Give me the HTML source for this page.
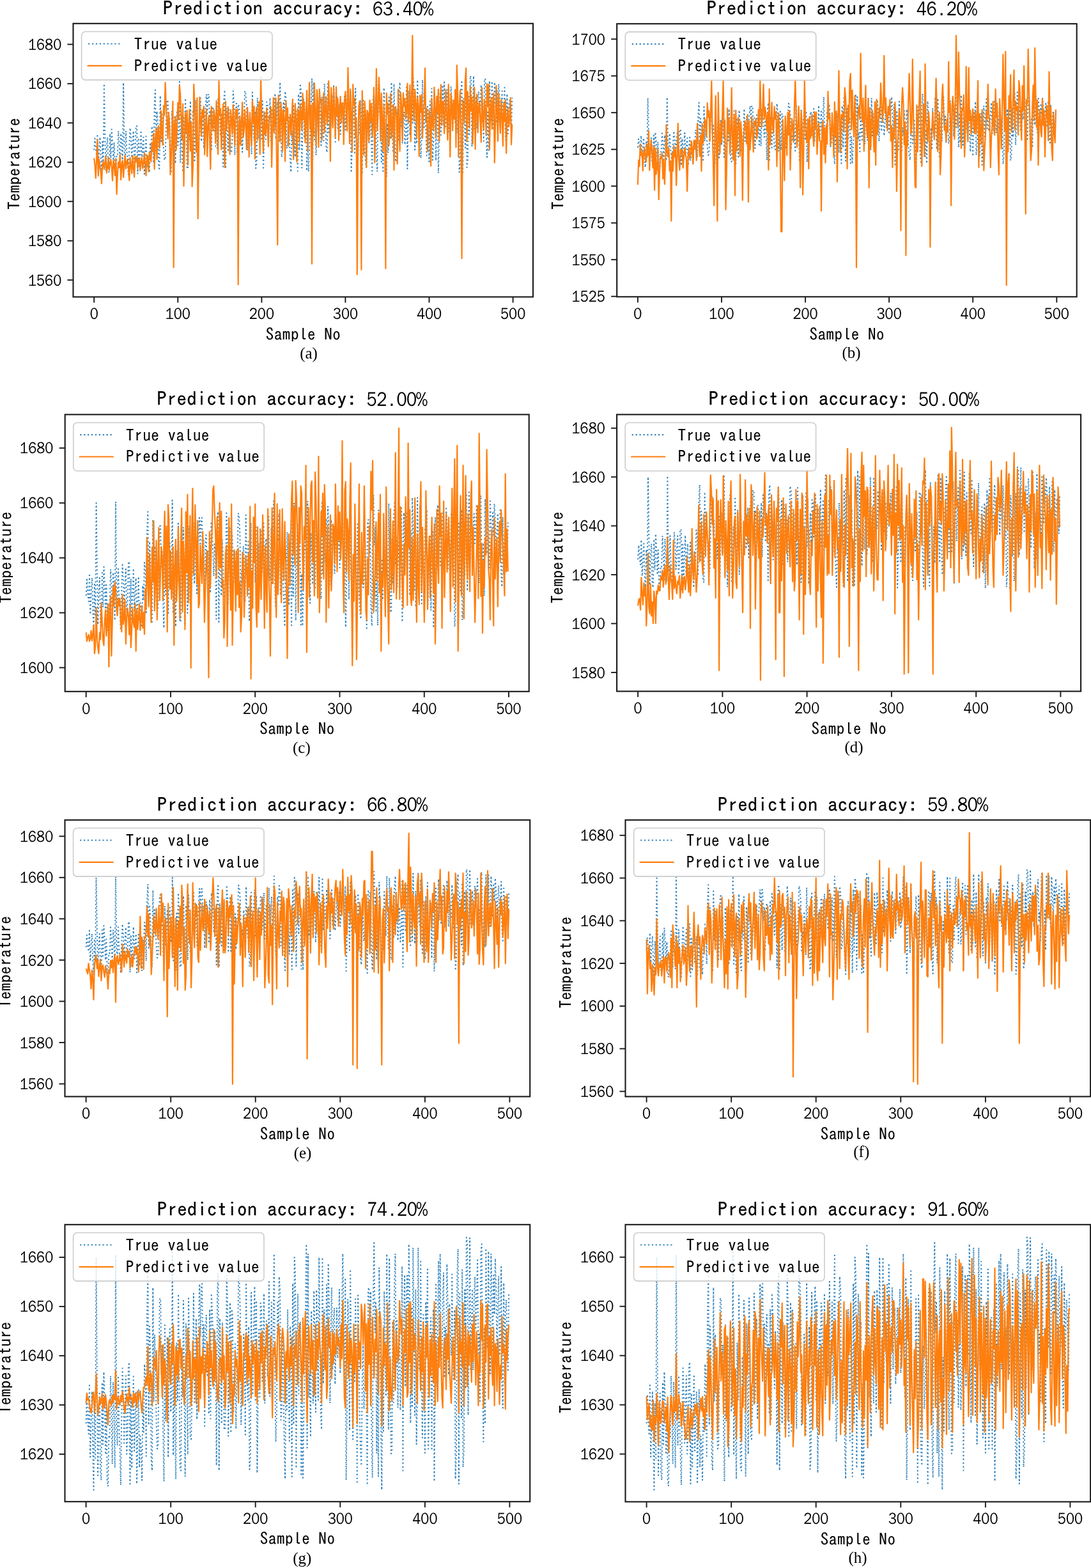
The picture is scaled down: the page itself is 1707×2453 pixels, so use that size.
<!DOCTYPE html><html><head><meta charset="utf-8"><title>Prediction accuracy</title><style>html,body{margin:0;padding:0;background:#fff;}svg{display:block;}text{fill:#000;}</style></head><body>
<svg xmlns="http://www.w3.org/2000/svg" width="1707" height="2453" viewBox="0 0 1707 2453">
<rect width="1707" height="2453" fill="#fff"/>
<clipPath id="clipa"><rect x="114.5" y="36.8" width="719.5" height="427.7"/></clipPath>
<g clip-path="url(#clipa)" fill="none" stroke-linejoin="round">
<polyline points="147.2,234.6 148.5,216.6 149.8,232.4 151.1,241.1 152.4,209.7 153.8,255.5 155.1,234.4 156.4,214.5 157.7,251.1 159.0,276.1 160.3,221.9 161.6,256.3 162.9,130.9 164.2,206.9 165.6,267.1 166.9,230.7 168.2,214.7 169.5,265.1 170.8,270.1 172.1,209.0 173.4,247.6 174.7,202.3 176.0,221.4 177.4,254.0 178.7,222.7 180.0,269.7 181.3,273.8 182.6,242.8 183.9,243.7 185.2,204.9 186.5,226.0 187.8,259.9 189.2,208.6 190.5,228.0 191.8,262.3 193.1,129.3 194.4,235.4 195.7,248.5 197.0,204.8 198.3,236.2 199.6,251.0 200.9,273.1 202.3,227.1 203.6,200.1 204.9,215.9 206.2,246.9 207.5,222.2 208.8,204.9 210.1,253.7 211.4,242.4 212.7,199.0 214.1,196.3 215.4,272.3 216.7,215.7 218.0,262.6 219.3,234.0 220.6,204.1 221.9,251.7 223.2,229.3 224.5,214.7 225.9,272.3 227.2,238.7 228.5,213.2 229.8,262.1 231.1,242.6 232.4,248.6 233.7,270.1 235.0,223.2 236.3,240.0 237.6,197.6 239.0,205.6 240.3,255.0 241.6,166.7 242.9,140.7 244.2,235.6 245.5,174.0 246.8,191.3 248.1,257.0 249.4,264.0 250.8,149.7 252.1,221.1 253.4,179.0 254.7,201.8 256.0,232.6 257.3,250.5 258.6,248.0 259.9,195.5 261.2,157.1 262.6,156.4 263.9,204.2 265.2,185.6 266.5,240.0 267.8,270.8 269.1,173.2 270.4,233.3 271.7,204.2 273.0,180.6 274.4,255.9 275.7,195.4 277.0,175.5 278.3,227.6 279.6,215.6 280.9,127.8 282.2,254.5 283.5,201.3 284.8,235.3 286.1,269.3 287.5,184.1 288.8,220.0 290.1,153.7 291.4,203.1 292.7,263.8 294.0,264.0 295.3,193.0 296.6,218.3 297.9,157.9 299.3,213.0 300.6,267.8 301.9,172.1 303.2,205.2 304.5,254.0 305.8,156.4 307.1,187.8 308.4,242.7 309.7,244.5 311.1,222.2 312.4,204.3 313.7,153.4 315.0,221.4 316.3,207.8 317.6,169.1 318.9,232.1 320.2,189.2 321.5,170.4 322.9,147.4 324.2,180.4 325.5,148.5 326.8,147.4 328.1,193.7 329.4,172.6 330.7,236.2 332.0,176.7 333.3,166.7 334.6,204.4 336.0,184.3 337.3,228.8 338.6,163.3 339.9,231.7 341.2,153.4 342.5,164.8 343.8,183.1 345.1,212.7 346.4,176.8 347.8,192.5 349.1,260.8 350.4,152.9 351.7,140.7 353.0,264.0 354.3,169.0 355.6,204.3 356.9,234.9 358.2,171.5 359.6,190.8 360.9,238.5 362.2,238.5 363.5,218.0 364.8,142.2 366.1,161.1 367.4,242.5 368.7,188.5 370.0,159.1 371.4,240.4 372.7,163.2 374.0,167.1 375.3,227.0 376.6,209.7 377.9,184.9 379.2,238.0 380.5,197.3 381.8,186.0 383.1,142.2 384.5,146.7 385.8,165.0 387.1,235.5 388.4,207.2 389.7,217.8 391.0,179.0 392.3,193.6 393.6,241.6 394.9,144.4 396.3,203.3 397.6,220.0 398.9,174.1 400.2,263.3 401.5,256.1 402.8,153.0 404.1,216.8 405.4,215.5 406.7,172.5 408.1,148.9 409.4,219.8 410.7,157.9 412.0,265.5 413.3,217.1 414.6,176.0 415.9,218.0 417.2,159.5 418.5,162.5 419.9,208.1 421.2,196.8 422.5,153.4 423.8,222.2 425.1,181.6 426.4,170.5 427.7,205.2 429.0,200.1 430.3,146.2 431.6,217.9 433.0,192.3 434.3,159.0 435.6,222.5 436.9,172.8 438.2,128.6 439.5,207.4 440.8,246.0 442.1,227.7 443.4,159.0 444.8,173.8 446.1,142.9 447.4,152.1 448.7,232.5 450.0,226.6 451.3,181.3 452.6,213.6 453.9,246.8 455.2,269.3 456.6,203.9 457.9,226.9 459.2,163.3 460.5,206.3 461.8,245.5 463.1,173.8 464.4,189.4 465.7,267.8 467.0,147.1 468.4,235.3 469.7,130.9 471.0,141.7 472.3,262.6 473.6,187.3 474.9,153.6 476.2,216.1 477.5,184.0 478.8,171.1 480.1,267.4 481.5,210.4 482.8,268.6 484.1,229.3 485.4,203.2 486.7,172.6 488.0,122.6 489.3,249.8 490.6,128.6 491.9,218.3 493.3,202.2 494.6,243.0 495.9,164.2 497.2,198.9 498.5,222.1 499.8,151.7 501.1,179.7 502.4,227.5 503.7,151.1 505.1,172.1 506.4,220.0 507.7,130.9 509.0,183.4 510.3,228.9 511.6,238.5 512.9,130.9 514.2,209.7 515.5,163.4 516.9,185.5 518.2,196.2 519.5,148.0 520.8,193.3 522.1,134.6 523.4,163.2 524.7,221.9 526.0,176.8 527.3,149.7 528.6,201.0 530.0,171.3 531.3,162.4 532.6,210.1 533.9,183.3 535.2,162.3 536.5,193.9 537.8,180.2 539.1,150.8 540.4,203.3 541.8,179.2 543.1,161.3 544.4,128.6 545.7,166.9 547.0,218.8 548.3,143.6 549.6,270.1 550.9,225.7 552.2,156.9 553.6,173.6 554.9,239.0 556.2,138.4 557.5,197.6 558.8,223.3 560.1,244.5 561.4,192.3 562.7,208.2 564.0,156.9 565.4,188.0 566.7,272.3 568.0,154.6 569.3,185.9 570.6,231.7 571.9,252.0 573.2,261.0 574.5,207.2 575.8,185.8 577.1,225.6 578.5,212.4 579.8,174.8 581.1,227.0 582.4,273.1 583.7,151.3 585.0,149.7 586.3,188.2 587.6,152.2 588.9,245.8 590.3,268.6 591.6,152.8 592.9,121.8 594.2,178.1 595.5,158.5 596.8,253.3 598.1,196.4 599.4,267.9 600.7,137.2 602.1,178.1 603.4,228.8 604.7,276.1 606.0,193.3 607.3,239.3 608.6,152.0 609.9,198.3 611.2,217.7 612.5,128.6 613.9,202.6 615.2,238.6 616.5,131.4 617.8,202.1 619.1,253.5 620.4,252.0 621.7,170.9 623.0,221.5 624.3,148.2 625.6,128.6 627.0,200.0 628.3,169.4 629.6,224.8 630.9,190.7 632.2,174.9 633.5,226.5 634.8,209.5 636.1,136.4 637.4,264.0 638.8,176.2 640.1,141.8 641.4,211.7 642.7,159.8 644.0,142.3 645.3,192.3 646.6,122.6 647.9,153.6 649.2,234.4 650.6,161.8 651.9,224.8 653.2,124.8 654.5,180.3 655.8,229.5 657.1,150.9 658.4,247.5 659.7,218.4 661.0,124.8 662.4,199.2 663.7,201.8 665.0,133.5 666.3,203.2 667.6,243.5 668.9,166.8 670.2,189.0 671.5,253.0 672.8,158.6 674.1,186.5 675.5,138.4 676.8,250.5 678.1,221.6 679.4,181.5 680.7,168.6 682.0,251.4 683.3,181.9 684.6,163.2 685.9,270.8 687.3,201.8 688.6,146.8 689.9,211.3 691.2,181.2 692.5,133.1 693.8,194.5 695.1,128.6 696.4,200.8 697.7,192.9 699.1,161.0 700.4,140.3 701.7,206.1 703.0,174.7 704.3,192.1 705.6,135.1 706.9,161.1 708.2,204.2 709.5,159.8 710.9,176.6 712.2,192.2 713.5,141.5 714.8,191.2 716.1,207.8 717.4,163.5 718.7,269.3 720.0,252.3 721.3,142.4 722.6,125.6 724.0,272.3 725.3,153.6 726.6,177.0 727.9,231.0 729.2,138.4 730.5,262.0 731.8,250.5 733.1,151.2 734.4,213.0 735.8,118.4 737.1,122.6 738.4,229.5 739.7,173.9 741.0,118.8 742.3,201.7 743.6,172.5 744.9,150.6 746.2,201.3 747.6,156.4 748.9,142.9 750.2,176.1 751.5,159.4 752.8,132.6 754.1,192.0 755.4,178.9 756.7,220.7 758.0,127.6 759.3,122.6 760.7,207.5 762.0,246.0 763.3,175.5 764.6,234.9 765.9,126.3 767.2,174.8 768.5,187.8 769.8,127.0 771.1,180.9 772.5,203.5 773.8,128.6 775.1,152.8 776.4,189.9 777.7,142.1 779.0,166.5 780.3,131.6 781.6,152.2 782.9,191.9 784.3,161.6 785.6,142.6 786.9,192.2 788.2,184.8 789.5,136.9 790.8,210.6 792.1,224.9 793.4,146.8 794.7,209.2 796.1,166.6 797.4,157.5 798.7,180.9 800.0,202.3 801.3,152.8" stroke="#2f82bd" stroke-width="2.0" stroke-dasharray="2.0 3.85"/>
<polyline points="147.2,247.4 148.5,258.8 149.8,278.6 151.1,250.1 152.4,218.3 153.8,275.1 155.1,249.0 156.4,260.9 157.7,269.1 159.0,287.1 160.3,256.9 161.6,253.0 162.9,264.7 164.2,254.8 165.6,244.1 166.9,270.5 168.2,261.5 169.5,247.1 170.8,266.2 172.1,257.6 173.4,249.4 174.7,260.8 176.0,282.7 177.4,251.0 178.7,257.3 180.0,274.6 181.3,248.0 182.6,303.9 183.9,272.3 185.2,253.4 186.5,262.2 187.8,242.1 189.2,281.3 190.5,256.8 191.8,251.4 193.1,277.5 194.4,259.3 195.7,243.0 197.0,263.8 198.3,254.0 199.6,249.0 200.9,263.9 202.3,282.4 203.6,246.7 204.9,257.1 206.2,271.3 207.5,243.5 208.8,263.2 210.1,277.0 211.4,244.8 212.7,253.1 214.1,244.5 215.4,263.2 216.7,252.7 218.0,247.3 219.3,266.9 220.6,252.9 221.9,246.5 223.2,263.3 224.5,255.1 225.9,239.3 227.2,257.1 228.5,274.6 229.8,242.4 231.1,248.1 232.4,268.5 233.7,238.4 235.0,243.5 236.3,252.9 237.6,223.0 239.0,237.2 240.3,208.6 241.6,264.7 242.9,219.2 244.2,201.1 245.5,249.4 246.8,203.3 248.1,197.0 249.4,231.6 250.8,215.3 252.1,173.3 253.4,211.4 254.7,227.0 256.0,165.4 257.3,180.4 258.6,129.1 259.9,166.2 261.2,186.8 262.6,216.6 263.9,175.8 265.2,196.2 266.5,273.2 267.8,248.4 269.1,210.3 270.4,158.7 271.7,418.3 273.0,194.2 274.4,182.7 275.7,234.5 277.0,200.6 278.3,160.7 279.6,186.6 280.9,133.7 282.2,148.1 283.5,184.6 284.8,218.8 286.1,162.6 287.5,290.9 288.8,228.2 290.1,176.5 291.4,207.8 292.7,172.8 294.0,257.9 295.3,193.9 296.6,171.7 297.9,236.1 299.3,192.2 300.6,291.8 301.9,261.2 303.2,131.8 304.5,160.1 305.8,198.2 307.1,237.9 308.4,153.4 309.7,342.0 311.1,228.8 312.4,152.1 313.7,188.4 315.0,213.0 316.3,172.7 317.6,183.0 318.9,166.3 320.2,241.9 321.5,202.9 322.9,170.8 324.2,244.6 325.5,198.8 326.8,180.6 328.1,219.8 329.4,264.8 330.7,166.5 332.0,194.0 333.3,204.0 334.6,171.5 336.0,182.8 337.3,223.9 338.6,157.7 339.9,186.1 341.2,241.3 342.5,126.3 343.8,180.8 345.1,170.0 346.4,233.9 347.8,186.3 349.1,162.8 350.4,220.4 351.7,262.0 353.0,158.6 354.3,204.4 355.6,188.9 356.9,167.1 358.2,197.7 359.6,241.7 360.9,172.0 362.2,188.2 363.5,209.8 364.8,164.1 366.1,194.7 367.4,227.2 368.7,170.9 370.0,183.6 371.4,170.5 372.7,445.2 374.0,193.7 375.3,181.7 376.6,227.5 377.9,188.2 379.2,160.1 380.5,215.0 381.8,203.9 383.1,171.7 384.5,197.3 385.8,234.1 387.1,168.0 388.4,188.2 389.7,245.6 391.0,175.8 392.3,204.1 393.6,226.9 394.9,157.2 396.3,193.5 397.6,166.4 398.9,248.6 400.2,182.9 401.5,167.7 402.8,219.3 404.1,189.0 405.4,159.4 406.7,241.5 408.1,120.7 409.4,181.7 410.7,197.6 412.0,237.3 413.3,175.2 414.6,208.9 415.9,210.9 417.2,169.0 418.5,200.0 419.9,229.1 421.2,181.3 422.5,182.0 423.8,167.9 425.1,261.4 426.4,202.3 427.7,152.8 429.0,208.0 430.3,188.3 431.6,153.6 433.0,254.0 434.3,382.9 435.6,149.0 436.9,190.9 438.2,221.7 439.5,160.9 440.8,175.0 442.1,236.1 443.4,171.7 444.8,185.2 446.1,252.2 447.4,158.0 448.7,189.1 450.0,169.0 451.3,228.4 452.6,198.6 453.9,179.0 455.2,211.2 456.6,181.6 457.9,155.3 459.2,249.5 460.5,204.8 461.8,162.0 463.1,190.8 464.4,253.5 465.7,170.4 467.0,174.3 468.4,222.5 469.7,162.5 471.0,179.3 472.3,203.9 473.6,146.1 474.9,187.3 476.2,159.9 477.5,223.3 478.8,186.9 480.1,141.7 481.5,235.8 482.8,177.2 484.1,129.0 485.4,202.1 486.7,165.2 488.0,412.7 489.3,161.5 490.6,212.0 491.9,130.2 493.3,177.7 494.6,227.9 495.9,140.3 497.2,164.4 498.5,230.2 499.8,139.5 501.1,160.2 502.4,154.6 503.7,218.9 505.1,177.4 506.4,146.1 507.7,207.2 509.0,169.7 510.3,151.2 511.6,193.8 512.9,184.3 514.2,126.5 515.5,161.6 516.9,252.3 518.2,137.2 519.5,174.1 520.8,199.9 522.1,136.4 523.4,176.5 524.7,215.3 526.0,136.2 527.3,180.8 528.6,154.5 530.0,219.6 531.3,170.8 532.6,150.9 533.9,192.0 535.2,161.7 536.5,160.7 537.8,225.8 539.1,158.7 540.4,143.2 541.8,174.5 543.1,204.7 544.4,105.8 545.7,159.5 547.0,224.3 548.3,139.3 549.6,180.7 550.9,237.3 552.2,132.2 553.6,164.7 554.9,153.8 556.2,215.0 557.5,184.8 558.8,429.4 560.1,234.3 561.4,166.3 562.7,158.1 564.0,196.3 565.4,422.0 566.7,142.0 568.0,198.1 569.3,242.4 570.6,158.3 571.9,180.0 573.2,262.2 574.5,172.8 575.8,177.5 577.1,221.7 578.5,156.9 579.8,190.0 581.1,162.1 582.4,213.1 583.7,196.4 585.0,136.8 586.3,254.5 587.6,179.9 588.9,107.7 590.3,204.3 591.6,172.0 592.9,121.0 594.2,156.1 595.5,220.4 596.8,145.9 598.1,185.0 599.4,236.9 600.7,164.4 602.1,202.8 603.4,420.1 604.7,145.5 606.0,178.5 607.3,162.1 608.6,227.7 609.9,193.6 611.2,146.6 612.5,215.8 613.9,196.1 615.2,163.9 616.5,266.0 617.8,171.2 619.1,166.8 620.4,183.8 621.7,256.5 623.0,139.9 624.3,193.8 625.6,236.6 627.0,145.3 628.3,166.9 629.6,219.7 630.9,145.4 632.2,166.4 633.5,154.0 634.8,185.6 636.1,175.0 637.4,130.7 638.8,191.6 640.1,174.6 641.4,133.1 642.7,221.4 644.0,163.4 645.3,55.6 646.6,167.8 647.9,189.1 649.2,139.9 650.6,162.0 651.9,215.9 653.2,152.0 654.5,164.6 655.8,244.5 657.1,149.4 658.4,175.9 659.7,148.2 661.0,216.1 662.4,172.1 663.7,162.3 665.0,106.7 666.3,189.5 667.6,169.8 668.9,236.4 670.2,204.6 671.5,172.7 672.8,186.7 674.1,259.7 675.5,153.7 676.8,193.1 678.1,203.1 679.4,136.5 680.7,170.4 682.0,215.3 683.3,150.6 684.6,176.5 685.9,139.6 687.3,220.6 688.6,166.5 689.9,132.3 691.2,196.1 692.5,158.6 693.8,158.9 695.1,208.8 696.4,176.8 697.7,140.1 699.1,186.6 700.4,218.9 701.7,132.2 703.0,175.2 704.3,245.4 705.6,146.1 706.9,163.1 708.2,203.3 709.5,156.7 710.9,185.8 712.2,140.3 713.5,230.5 714.8,102.1 716.1,145.1 717.4,245.1 718.7,163.6 720.0,141.1 721.3,210.0 722.6,404.3 724.0,157.2 725.3,169.6 726.6,192.3 727.9,126.3 729.2,106.7 730.5,220.9 731.8,143.3 733.1,169.9 734.4,200.0 735.8,136.1 737.1,173.6 738.4,152.1 739.7,225.3 741.0,165.5 742.3,136.7 743.6,233.5 744.9,165.0 746.2,147.5 747.6,207.4 748.9,166.2 750.2,159.8 751.5,189.2 752.8,222.3 754.1,137.5 755.4,184.3 756.7,202.4 758.0,155.6 759.3,173.7 760.7,210.6 762.0,131.3 763.3,166.6 764.6,132.1 765.9,234.1 767.2,174.9 768.5,152.8 769.8,201.6 771.1,161.0 772.5,145.9 773.8,254.6 775.1,194.0 776.4,133.9 777.7,173.3 779.0,220.8 780.3,146.4 781.6,183.8 782.9,208.4 784.3,155.9 785.6,181.6 786.9,228.4 788.2,161.8 789.5,189.8 790.8,156.4 792.1,239.7 793.4,187.2 794.7,169.5 796.1,198.2 797.4,183.2 798.7,153.0 800.0,226.2 801.3,194.8" stroke="#ff7f0e" stroke-width="2.2"/>
</g>
<rect x="114.5" y="36.8" width="719.5" height="427.7" fill="none" stroke="#1a1a1a" stroke-width="2.1"/>
<line x1="147.2" y1="464.5" x2="147.2" y2="473.5" stroke="#1a1a1a" stroke-width="1.9"/>
<text font-family='"WenQuanYi Zen Hei","Liberation Sans",sans-serif' font-size="25.3" text-anchor="middle" x="171.17" y="499.50" transform="scale(0.86,1)">0</text>
<line x1="278.3" y1="464.5" x2="278.3" y2="473.5" stroke="#1a1a1a" stroke-width="1.9"/>
<text font-family='"WenQuanYi Zen Hei","Liberation Sans",sans-serif' font-size="25.3" text-anchor="middle" x="308.38 323.59 338.80" y="499.50" transform="scale(0.86,1)">100</text>
<line x1="409.4" y1="464.5" x2="409.4" y2="473.5" stroke="#1a1a1a" stroke-width="1.9"/>
<text font-family='"WenQuanYi Zen Hei","Liberation Sans",sans-serif' font-size="25.3" text-anchor="middle" x="460.80 476.01 491.22" y="499.50" transform="scale(0.86,1)">200</text>
<line x1="540.4" y1="464.5" x2="540.4" y2="473.5" stroke="#1a1a1a" stroke-width="1.9"/>
<text font-family='"WenQuanYi Zen Hei","Liberation Sans",sans-serif' font-size="25.3" text-anchor="middle" x="613.22 628.43 643.63" y="499.50" transform="scale(0.86,1)">300</text>
<line x1="671.5" y1="464.5" x2="671.5" y2="473.5" stroke="#1a1a1a" stroke-width="1.9"/>
<text font-family='"WenQuanYi Zen Hei","Liberation Sans",sans-serif' font-size="25.3" text-anchor="middle" x="765.63 780.84 796.05" y="499.50" transform="scale(0.86,1)">400</text>
<line x1="802.6" y1="464.5" x2="802.6" y2="473.5" stroke="#1a1a1a" stroke-width="1.9"/>
<text font-family='"WenQuanYi Zen Hei","Liberation Sans",sans-serif' font-size="25.3" text-anchor="middle" x="918.05 933.26 948.47" y="499.50" transform="scale(0.86,1)">500</text>
<line x1="105.5" y1="438.1" x2="114.5" y2="438.1" stroke="#1a1a1a" stroke-width="1.9"/>
<text font-family='"WenQuanYi Zen Hei","Liberation Sans",sans-serif' font-size="25.3" text-anchor="middle" x="58.63 73.84 89.05 104.26" y="446.70" transform="scale(0.86,1)">1560</text>
<line x1="105.5" y1="376.7" x2="114.5" y2="376.7" stroke="#1a1a1a" stroke-width="1.9"/>
<text font-family='"WenQuanYi Zen Hei","Liberation Sans",sans-serif' font-size="25.3" text-anchor="middle" x="58.63 73.84 89.05 104.26" y="385.25" transform="scale(0.86,1)">1580</text>
<line x1="105.5" y1="315.2" x2="114.5" y2="315.2" stroke="#1a1a1a" stroke-width="1.9"/>
<text font-family='"WenQuanYi Zen Hei","Liberation Sans",sans-serif' font-size="25.3" text-anchor="middle" x="58.63 73.84 89.05 104.26" y="323.80" transform="scale(0.86,1)">1600</text>
<line x1="105.5" y1="253.8" x2="114.5" y2="253.8" stroke="#1a1a1a" stroke-width="1.9"/>
<text font-family='"WenQuanYi Zen Hei","Liberation Sans",sans-serif' font-size="25.3" text-anchor="middle" x="58.63 73.84 89.05 104.26" y="262.35" transform="scale(0.86,1)">1620</text>
<line x1="105.5" y1="192.3" x2="114.5" y2="192.3" stroke="#1a1a1a" stroke-width="1.9"/>
<text font-family='"WenQuanYi Zen Hei","Liberation Sans",sans-serif' font-size="25.3" text-anchor="middle" x="58.63 73.84 89.05 104.26" y="200.90" transform="scale(0.86,1)">1640</text>
<line x1="105.5" y1="130.9" x2="114.5" y2="130.9" stroke="#1a1a1a" stroke-width="1.9"/>
<text font-family='"WenQuanYi Zen Hei","Liberation Sans",sans-serif' font-size="25.3" text-anchor="middle" x="58.63 73.84 89.05 104.26" y="139.45" transform="scale(0.86,1)">1660</text>
<line x1="105.5" y1="69.4" x2="114.5" y2="69.4" stroke="#1a1a1a" stroke-width="1.9"/>
<text font-family='"WenQuanYi Zen Hei","Liberation Sans",sans-serif' font-size="25.3" text-anchor="middle" x="58.63 73.84 89.05 104.26" y="78.00" transform="scale(0.86,1)">1680</text>
<text font-family='"IPAGothic","Liberation Mono",monospace' font-size="31" text-anchor="middle" x="262.50 278.15 293.80 309.45 325.10 340.75 356.40 372.05 387.70 403.35" y="23.50" stroke="#000" stroke-width="0.25">Prediction</text><text font-family='"IPAGothic","Liberation Mono",monospace' font-size="31" text-anchor="middle" x="434.65 450.30 465.95 481.60 497.25 512.90 528.55 544.20 559.85" y="23.50" stroke="#000" stroke-width="0.25">accuracy:</text><text font-family='"WenQuanYi Zen Hei","Liberation Sans",sans-serif' font-size="31.3" text-anchor="middle" x="687.38 705.58 723.78 741.98 760.17 778.37" y="23.50" transform="scale(0.86,1)">63.40%</text>
<text font-family='"IPAGothic","Liberation Mono",monospace' font-size="25.0" text-anchor="middle" x="421.93 435.01 448.09 461.17 474.25 487.33" y="531.70" stroke="#000" stroke-width="0.15">Sample</text><text font-family='"IPAGothic","Liberation Mono",monospace' font-size="25.0" text-anchor="middle" x="513.49 526.57" y="531.70" stroke="#000" stroke-width="0.15">No</text>
<g transform="translate(30.6,256.4) rotate(-90)"><text font-family='"IPAGothic","Liberation Mono",monospace' font-size="25.3" text-anchor="middle" x="-65.40 -52.32 -39.24 -26.16 -13.08 0.00 13.08 26.16 39.24 52.32 65.40" y="0.00" stroke="#000" stroke-width="0.15">Temperature</text></g>
<rect x="127.6" y="49.5" width="298.4" height="75.6" rx="6" ry="6" fill="#fff" fill-opacity="0.8" stroke="#cccccc" stroke-width="1.6"/>
<line x1="138.1" y1="68.5" x2="190.1" y2="68.5" stroke="#2f82bd" stroke-width="2.2" stroke-dasharray="2.2 3.7"/>
<line x1="136.6" y1="102.8" x2="190.6" y2="102.8" stroke="#ff7f0e" stroke-width="2.2"/>
<text font-family='"IPAGothic","Liberation Mono",monospace' font-size="25.3" text-anchor="middle" x="216.14 229.22 242.30 255.38" y="77.80" stroke="#000" stroke-width="0.15">True</text><text font-family='"IPAGothic","Liberation Mono",monospace' font-size="25.3" text-anchor="middle" x="281.54 294.62 307.70 320.78 333.86" y="77.80" stroke="#000" stroke-width="0.15">value</text>
<text font-family='"IPAGothic","Liberation Mono",monospace' font-size="25.3" text-anchor="middle" x="216.14 229.22 242.30 255.38 268.46 281.54 294.62 307.70 320.78 333.86" y="111.60" stroke="#000" stroke-width="0.15">Predictive</text><text font-family='"IPAGothic","Liberation Mono",monospace' font-size="25.3" text-anchor="middle" x="360.02 373.10 386.18 399.26 412.34" y="111.60" stroke="#000" stroke-width="0.15">value</text>
<text font-family='"Liberation Serif",serif' font-size="25" x="483.0" y="560.6" text-anchor="middle">(a)</text>
<clipPath id="clipb"><rect x="965.2" y="37.2" width="719.5" height="427.1"/></clipPath>
<g clip-path="url(#clipb)" fill="none" stroke-linejoin="round">
<polyline points="997.9,230.8 999.2,217.4 1000.5,229.2 1001.8,235.7 1003.1,212.2 1004.5,246.5 1005.8,230.7 1007.1,215.8 1008.4,243.2 1009.7,261.9 1011.0,221.3 1012.3,247.1 1013.6,153.2 1014.9,210.1 1016.3,255.2 1017.6,227.9 1018.9,216.0 1020.2,253.7 1021.5,257.4 1022.8,211.7 1024.1,240.6 1025.4,206.7 1026.7,221.0 1028.1,245.4 1029.4,221.9 1030.7,257.1 1032.0,260.2 1033.3,237.0 1034.6,237.7 1035.9,208.6 1037.2,224.4 1038.5,249.8 1039.9,211.4 1041.2,225.9 1042.5,251.6 1043.8,152.1 1045.1,231.5 1046.4,241.2 1047.7,208.5 1049.0,232.1 1050.3,243.1 1051.6,259.7 1053.0,225.3 1054.3,205.0 1055.6,216.9 1056.9,240.1 1058.2,221.6 1059.5,208.6 1060.8,245.2 1062.1,236.7 1063.4,204.2 1064.8,202.2 1066.1,259.1 1067.4,216.7 1068.7,251.8 1070.0,230.4 1071.3,208.1 1072.6,243.6 1073.9,226.9 1075.2,216.0 1076.6,259.1 1077.9,233.9 1079.2,214.8 1080.5,251.4 1081.8,236.9 1083.1,241.3 1084.4,257.4 1085.7,222.3 1087.0,234.9 1088.3,203.1 1089.7,209.2 1091.0,246.2 1092.3,180.0 1093.6,160.5 1094.9,231.6 1096.2,185.5 1097.5,198.4 1098.8,247.6 1100.1,252.9 1101.5,167.3 1102.8,220.7 1104.1,189.2 1105.4,206.3 1106.7,229.4 1108.0,242.8 1109.3,240.9 1110.6,201.6 1111.9,172.8 1113.3,172.4 1114.6,208.1 1115.9,194.2 1117.2,234.9 1118.5,258.0 1119.8,184.9 1121.1,229.9 1122.4,208.1 1123.7,190.4 1125.1,246.8 1126.4,201.5 1127.7,186.6 1129.0,225.6 1130.3,216.6 1131.6,150.9 1132.9,245.7 1134.2,206.0 1135.5,231.4 1136.8,256.9 1138.2,193.1 1139.5,220.0 1140.8,170.3 1142.1,207.2 1143.4,252.7 1144.7,252.9 1146.0,199.7 1147.3,218.7 1148.6,173.4 1150.0,214.7 1151.3,255.7 1152.6,184.0 1153.9,208.9 1155.2,245.4 1156.5,172.4 1157.8,195.8 1159.1,236.9 1160.4,238.3 1161.8,221.6 1163.1,208.2 1164.4,170.1 1165.7,221.0 1167.0,210.8 1168.3,181.9 1169.6,229.0 1170.9,196.9 1172.2,182.8 1173.6,165.6 1174.9,190.3 1176.2,166.4 1177.5,165.6 1178.8,200.3 1180.1,184.5 1181.4,232.1 1182.7,187.5 1184.0,180.0 1185.3,208.2 1186.7,193.2 1188.0,226.5 1189.3,177.5 1190.6,228.7 1191.9,170.1 1193.2,178.6 1194.5,192.3 1195.8,214.5 1197.1,187.6 1198.5,199.3 1199.8,250.5 1201.1,169.7 1202.4,160.5 1203.7,252.9 1205.0,181.8 1206.3,208.1 1207.6,231.1 1208.9,183.6 1210.3,198.1 1211.6,233.8 1212.9,233.8 1214.2,218.4 1215.5,161.7 1216.8,175.8 1218.1,236.8 1219.4,196.4 1220.7,174.3 1222.1,235.2 1223.4,177.4 1224.7,180.3 1226.0,225.2 1227.3,212.2 1228.6,193.7 1229.9,233.4 1231.2,203.0 1232.5,194.5 1233.8,161.7 1235.2,165.0 1236.5,178.8 1237.8,231.6 1239.1,210.4 1240.4,218.3 1241.7,189.2 1243.0,200.2 1244.3,236.1 1245.6,163.3 1247.0,207.4 1248.3,220.0 1249.6,185.6 1250.9,252.4 1252.2,246.9 1253.5,169.8 1254.8,217.6 1256.1,216.5 1257.4,184.4 1258.8,166.7 1260.1,219.8 1261.4,173.4 1262.7,254.0 1264.0,217.8 1265.3,187.0 1266.6,218.5 1267.9,174.6 1269.2,176.9 1270.6,211.0 1271.9,202.6 1273.2,170.1 1274.5,221.6 1275.8,191.2 1277.1,182.9 1278.4,208.8 1279.7,205.0 1281.0,164.7 1282.3,218.3 1283.7,199.2 1285.0,174.3 1286.3,221.8 1287.6,184.6 1288.9,151.5 1290.2,210.5 1291.5,239.4 1292.8,225.7 1294.1,174.2 1295.5,185.4 1296.8,162.2 1298.1,169.1 1299.4,229.3 1300.7,224.8 1302.0,190.9 1303.3,215.2 1304.6,240.0 1305.9,256.9 1307.3,207.9 1308.6,225.1 1309.9,177.5 1311.2,209.7 1312.5,239.0 1313.8,185.4 1315.1,197.0 1316.4,255.7 1317.7,165.4 1319.1,231.4 1320.4,153.2 1321.7,161.3 1323.0,251.8 1324.3,195.5 1325.6,170.2 1326.9,217.0 1328.2,193.0 1329.5,183.3 1330.8,255.4 1332.2,212.8 1333.5,256.3 1334.8,226.9 1336.1,207.3 1337.4,184.4 1338.7,147.0 1340.0,242.2 1341.3,151.5 1342.6,218.7 1344.0,206.6 1345.3,237.2 1346.6,178.2 1347.9,204.1 1349.2,221.5 1350.5,168.8 1351.8,189.8 1353.1,225.6 1354.4,168.4 1355.8,184.1 1357.1,219.9 1358.4,153.2 1359.7,192.6 1361.0,226.6 1362.3,233.8 1363.6,153.2 1364.9,212.2 1366.2,177.5 1367.6,194.1 1368.9,202.1 1370.2,166.0 1371.5,199.9 1372.8,156.0 1374.1,177.4 1375.4,221.4 1376.7,187.6 1378.0,167.3 1379.3,205.7 1380.7,183.4 1382.0,176.8 1383.3,212.5 1384.6,192.5 1385.9,176.8 1387.2,200.4 1388.5,190.1 1389.8,168.1 1391.1,207.4 1392.5,189.4 1393.8,176.0 1395.1,151.5 1396.4,180.2 1397.7,219.0 1399.0,162.7 1400.3,257.4 1401.6,224.2 1402.9,172.7 1404.3,185.2 1405.6,234.2 1406.9,158.8 1408.2,203.1 1409.5,222.4 1410.8,238.3 1412.1,199.2 1413.4,211.1 1414.7,172.7 1416.1,196.0 1417.4,259.1 1418.7,171.0 1420.0,194.4 1421.3,228.7 1422.6,243.9 1423.9,250.6 1425.2,210.3 1426.5,194.4 1427.8,224.1 1429.2,214.3 1430.5,186.1 1431.8,225.1 1433.1,259.7 1434.4,168.5 1435.7,167.3 1437.0,196.2 1438.3,169.2 1439.6,239.2 1441.0,256.3 1442.3,169.6 1443.6,146.4 1444.9,188.6 1446.2,173.9 1447.5,244.9 1448.8,202.3 1450.1,255.8 1451.4,158.0 1452.8,188.6 1454.1,226.5 1455.4,261.9 1456.7,199.9 1458.0,234.4 1459.3,169.0 1460.6,203.7 1461.9,218.2 1463.2,151.5 1464.6,206.9 1465.9,233.9 1467.2,153.6 1468.5,206.6 1469.8,245.0 1471.1,243.9 1472.4,183.2 1473.7,221.1 1475.0,166.2 1476.3,151.5 1477.7,205.0 1479.0,182.1 1480.3,223.5 1481.6,198.0 1482.9,186.2 1484.2,224.8 1485.5,212.1 1486.8,157.3 1488.1,252.9 1489.5,187.1 1490.8,161.4 1492.1,213.8 1493.4,174.9 1494.7,161.8 1496.0,199.2 1497.3,147.0 1498.6,170.2 1499.9,230.7 1501.3,176.3 1502.6,223.5 1503.9,148.7 1505.2,190.3 1506.5,227.0 1507.8,168.2 1509.1,240.5 1510.4,218.8 1511.7,148.7 1513.1,204.4 1514.4,206.3 1515.7,155.2 1517.0,207.3 1518.3,237.5 1519.6,180.1 1520.9,196.8 1522.2,244.6 1523.5,174.0 1524.8,194.9 1526.2,158.8 1527.5,242.8 1528.8,221.1 1530.1,191.1 1531.4,181.5 1532.7,243.5 1534.0,191.4 1535.3,177.4 1536.6,258.0 1538.0,206.3 1539.3,165.2 1540.6,213.4 1541.9,190.9 1543.2,154.9 1544.5,200.9 1545.8,151.5 1547.1,205.6 1548.4,199.6 1549.8,175.8 1551.1,160.3 1552.4,209.5 1553.7,186.0 1555.0,199.0 1556.3,156.4 1557.6,175.8 1558.9,208.1 1560.2,174.9 1561.6,187.4 1562.9,199.1 1564.2,161.1 1565.5,198.4 1566.8,210.8 1568.1,177.7 1569.4,256.9 1570.7,244.1 1572.0,161.8 1573.3,149.3 1574.7,259.1 1576.0,170.3 1577.3,187.8 1578.6,228.2 1579.9,158.8 1581.2,251.4 1582.5,242.8 1583.8,168.4 1585.1,214.7 1586.5,143.9 1587.8,147.0 1589.1,227.1 1590.4,185.4 1591.7,144.2 1593.0,206.2 1594.3,184.3 1595.6,168.0 1596.9,205.9 1598.3,172.3 1599.6,162.2 1600.9,187.1 1602.2,174.6 1603.5,154.5 1604.8,199.0 1606.1,189.1 1607.4,220.4 1608.7,150.7 1610.0,147.0 1611.4,210.6 1612.7,239.4 1614.0,186.6 1615.3,231.1 1616.6,149.8 1617.9,186.1 1619.2,195.8 1620.5,150.3 1621.8,190.6 1623.2,207.5 1624.5,151.5 1625.8,169.6 1627.1,197.4 1628.4,161.6 1629.7,179.9 1631.0,153.8 1632.3,169.2 1633.6,198.9 1635.0,176.2 1636.3,162.0 1637.6,199.1 1638.9,193.6 1640.2,157.7 1641.5,212.9 1642.8,223.6 1644.1,165.2 1645.4,211.8 1646.8,179.9 1648.1,173.1 1649.4,190.7 1650.7,206.7 1652.0,169.6" stroke="#2f82bd" stroke-width="2.0" stroke-dasharray="2.0 3.85"/>
<polyline points="997.9,289.0 999.2,250.7 1000.5,260.1 1001.8,225.8 1003.1,243.0 1004.5,237.5 1005.8,267.3 1007.1,238.4 1008.4,230.6 1009.7,247.5 1011.0,253.0 1012.3,226.0 1013.6,243.1 1014.9,204.4 1016.3,266.5 1017.6,237.9 1018.9,219.0 1020.2,238.2 1021.5,262.7 1022.8,228.5 1024.1,297.4 1025.4,231.9 1026.7,272.7 1028.1,260.6 1029.4,233.4 1030.7,312.2 1032.0,269.1 1033.3,245.2 1034.6,247.7 1035.9,239.4 1037.2,279.8 1038.5,250.1 1039.9,288.1 1041.2,250.0 1042.5,195.1 1043.8,238.7 1045.1,245.1 1046.4,232.0 1047.7,267.5 1049.0,251.9 1050.3,345.7 1051.6,238.8 1053.0,267.5 1054.3,228.1 1055.6,245.4 1056.9,234.2 1058.2,289.9 1059.5,242.4 1060.8,193.2 1062.1,249.9 1063.4,266.2 1064.8,233.2 1066.1,241.5 1067.4,234.2 1068.7,262.7 1070.0,246.0 1071.3,232.1 1072.6,240.6 1073.9,250.0 1075.2,299.2 1076.6,242.8 1077.9,230.9 1079.2,248.3 1080.5,240.5 1081.8,220.9 1083.1,234.1 1084.4,256.2 1085.7,219.5 1087.0,232.9 1088.3,219.3 1089.7,251.0 1091.0,193.2 1092.3,220.6 1093.6,223.6 1094.9,244.3 1096.2,211.3 1097.5,267.6 1098.8,193.5 1100.1,223.9 1101.5,207.9 1102.8,185.4 1104.1,190.7 1105.4,214.0 1106.7,161.0 1108.0,183.4 1109.3,173.4 1110.6,221.2 1111.9,177.7 1113.3,126.3 1114.6,205.5 1115.9,251.0 1117.2,321.5 1118.5,207.0 1119.8,149.8 1121.1,236.3 1122.4,345.7 1123.7,144.9 1125.1,211.0 1126.4,239.9 1127.7,190.8 1129.0,223.2 1130.3,176.0 1131.6,126.3 1132.9,214.3 1134.2,188.3 1135.5,328.0 1136.8,269.8 1138.2,169.3 1139.5,205.5 1140.8,185.5 1142.1,240.4 1143.4,211.9 1144.7,137.4 1146.0,217.3 1147.3,250.2 1148.6,179.1 1150.0,305.7 1151.3,172.5 1152.6,235.9 1153.9,210.0 1155.2,183.7 1156.5,194.2 1157.8,244.4 1159.1,190.4 1160.4,214.8 1161.8,313.2 1163.1,219.4 1164.4,202.4 1165.7,189.3 1167.0,200.3 1168.3,225.1 1169.6,179.1 1170.9,316.0 1172.2,189.3 1173.6,234.2 1174.9,212.4 1176.2,182.7 1177.5,210.1 1178.8,237.8 1180.1,190.5 1181.4,195.1 1182.7,185.7 1184.0,217.1 1185.3,209.0 1186.7,171.6 1188.0,197.4 1189.3,126.3 1190.6,174.3 1191.9,198.7 1193.2,175.1 1194.5,131.9 1195.8,186.4 1197.1,167.8 1198.5,180.2 1199.8,205.0 1201.1,176.7 1202.4,265.7 1203.7,139.3 1205.0,226.6 1206.3,201.1 1207.6,160.3 1208.9,197.3 1210.3,208.3 1211.6,166.9 1212.9,186.4 1214.2,175.1 1215.5,260.2 1216.8,191.1 1218.1,176.8 1219.4,211.3 1220.7,238.9 1222.1,362.5 1223.4,362.5 1224.7,187.3 1226.0,231.3 1227.3,282.5 1228.6,181.9 1229.9,204.8 1231.2,242.9 1232.5,175.8 1233.8,210.8 1235.2,173.0 1236.5,265.7 1237.8,210.2 1239.1,185.8 1240.4,203.0 1241.7,222.3 1243.0,163.5 1244.3,124.4 1245.6,174.5 1247.0,230.3 1248.3,200.4 1249.6,166.3 1250.9,204.4 1252.2,293.6 1253.5,173.9 1254.8,192.3 1256.1,304.8 1257.4,234.6 1258.8,126.3 1260.1,188.9 1261.4,214.3 1262.7,222.9 1264.0,186.0 1265.3,263.9 1266.6,182.3 1267.9,216.4 1269.2,211.2 1270.6,178.8 1271.9,209.7 1273.2,228.6 1274.5,175.0 1275.8,200.6 1277.1,175.4 1278.4,241.2 1279.7,210.6 1281.0,192.5 1282.3,220.1 1283.7,220.0 1285.0,329.9 1286.3,196.0 1287.6,189.1 1288.9,241.2 1290.2,199.8 1291.5,254.6 1292.8,196.5 1294.1,225.5 1295.5,143.0 1296.8,185.8 1298.1,179.4 1299.4,227.5 1300.7,209.3 1302.0,176.7 1303.3,205.0 1304.6,245.0 1305.9,159.7 1307.3,212.6 1308.6,174.1 1309.9,284.3 1311.2,199.7 1312.5,110.5 1313.8,189.7 1315.1,238.3 1316.4,179.6 1317.7,182.8 1319.1,175.2 1320.4,206.3 1321.7,137.4 1323.0,151.7 1324.3,182.6 1325.6,263.9 1326.9,164.7 1328.2,192.5 1329.5,126.3 1330.8,115.1 1332.2,203.0 1333.5,141.0 1334.8,187.9 1336.1,213.9 1337.4,150.1 1338.7,200.5 1340.0,418.3 1341.3,222.2 1342.6,175.0 1344.0,165.4 1345.3,186.4 1346.6,83.5 1347.9,160.9 1349.2,190.6 1350.5,153.6 1351.8,236.5 1353.1,181.9 1354.4,133.7 1355.8,198.1 1357.1,213.9 1358.4,154.0 1359.7,293.6 1361.0,168.7 1362.3,231.8 1363.6,190.2 1364.9,173.3 1366.2,203.6 1367.6,237.7 1368.9,159.5 1370.2,258.3 1371.5,155.5 1372.8,210.6 1374.1,196.6 1375.4,169.2 1376.7,182.3 1378.0,130.0 1379.3,158.0 1380.7,190.5 1382.0,168.7 1383.3,87.2 1384.6,176.9 1385.9,153.2 1387.2,183.4 1388.5,204.4 1389.8,166.7 1391.1,179.7 1392.5,155.5 1393.8,220.4 1395.1,196.8 1396.4,262.0 1397.7,201.5 1399.0,215.5 1400.3,160.0 1401.6,189.7 1402.9,299.2 1404.3,225.4 1405.6,206.3 1406.9,171.9 1408.2,183.8 1409.5,360.6 1410.8,165.7 1412.1,137.4 1413.4,160.6 1414.7,226.2 1416.1,190.8 1417.4,399.6 1418.7,204.9 1420.0,228.4 1421.3,156.8 1422.6,115.1 1423.9,160.2 1425.2,209.7 1426.5,195.2 1427.8,92.8 1429.2,185.5 1430.5,223.1 1431.8,291.8 1433.1,293.6 1434.4,164.7 1435.7,237.4 1437.0,184.3 1438.3,157.3 1439.6,111.4 1441.0,217.0 1442.3,260.2 1443.6,203.3 1444.9,163.8 1446.2,244.5 1447.5,100.2 1448.8,187.6 1450.1,205.5 1451.4,221.9 1452.8,175.4 1454.1,191.7 1455.4,386.6 1456.7,222.4 1458.0,207.2 1459.3,175.4 1460.6,202.4 1461.9,218.1 1463.2,181.9 1464.6,122.5 1465.9,173.3 1467.2,236.8 1468.5,197.4 1469.8,175.8 1471.1,273.2 1472.4,242.4 1473.7,155.1 1475.0,131.9 1476.3,172.2 1477.7,202.7 1479.0,197.2 1480.3,221.1 1481.6,186.4 1482.9,206.8 1484.2,96.5 1485.5,176.3 1486.8,161.5 1488.1,321.5 1489.5,168.5 1490.8,150.9 1492.1,171.9 1493.4,217.7 1494.7,157.8 1496.0,55.6 1497.3,138.1 1498.6,198.6 1499.9,81.6 1501.3,147.8 1502.6,177.5 1503.9,232.0 1505.2,170.2 1506.5,172.8 1507.8,148.7 1509.1,245.3 1510.4,198.8 1511.7,104.0 1513.1,194.8 1514.4,221.5 1515.7,105.8 1517.0,189.1 1518.3,173.0 1519.6,209.8 1520.9,185.4 1522.2,170.7 1523.5,197.9 1524.8,208.9 1526.2,175.8 1527.5,209.3 1528.8,179.7 1530.1,126.3 1531.4,262.0 1532.7,178.0 1534.0,205.3 1535.3,225.6 1536.6,171.7 1538.0,200.1 1539.3,266.7 1540.6,232.6 1541.9,210.2 1543.2,174.9 1544.5,186.0 1545.8,131.9 1547.1,178.8 1548.4,189.7 1549.8,262.0 1551.1,213.6 1552.4,196.8 1553.7,158.9 1555.0,203.1 1556.3,211.2 1557.6,139.3 1558.9,183.2 1560.2,161.5 1561.6,234.4 1562.9,273.2 1564.2,154.6 1565.5,190.7 1566.8,232.8 1568.1,165.8 1569.4,85.4 1570.7,158.5 1572.0,204.6 1573.3,80.7 1574.7,446.2 1576.0,183.4 1577.3,237.4 1578.6,149.8 1579.9,170.0 1581.2,117.0 1582.5,206.3 1583.8,191.7 1585.1,152.0 1586.5,109.5 1587.8,202.7 1589.1,158.7 1590.4,172.5 1591.7,166.4 1593.0,210.9 1594.3,126.3 1595.6,138.8 1596.9,175.9 1598.3,219.0 1599.6,134.1 1600.9,173.1 1602.2,103.0 1603.5,193.8 1604.8,334.6 1606.1,156.1 1607.4,162.8 1608.7,77.0 1610.0,144.0 1611.4,184.7 1612.7,250.9 1614.0,235.8 1615.3,165.9 1616.6,133.3 1617.9,186.4 1619.2,75.1 1620.5,152.8 1621.8,198.9 1623.2,156.5 1624.5,258.3 1625.8,187.5 1627.1,171.9 1628.4,205.2 1629.7,214.0 1631.0,154.5 1632.3,195.6 1633.6,172.8 1635.0,245.3 1636.3,187.4 1637.6,164.8 1638.9,183.3 1640.2,219.9 1641.5,112.3 1642.8,195.5 1644.1,167.5 1645.4,231.4 1646.8,250.9 1648.1,177.4 1649.4,203.8 1650.7,223.1 1652.0,171.4" stroke="#ff7f0e" stroke-width="2.2"/>
</g>
<rect x="965.2" y="37.2" width="719.5" height="427.1" fill="none" stroke="#1a1a1a" stroke-width="2.1"/>
<line x1="997.9" y1="464.3" x2="997.9" y2="473.3" stroke="#1a1a1a" stroke-width="1.9"/>
<text font-family='"WenQuanYi Zen Hei","Liberation Sans",sans-serif' font-size="25.3" text-anchor="middle" x="1160.35" y="499.30" transform="scale(0.86,1)">0</text>
<line x1="1129.0" y1="464.3" x2="1129.0" y2="473.3" stroke="#1a1a1a" stroke-width="1.9"/>
<text font-family='"WenQuanYi Zen Hei","Liberation Sans",sans-serif' font-size="25.3" text-anchor="middle" x="1297.56 1312.77 1327.98" y="499.30" transform="scale(0.86,1)">100</text>
<line x1="1260.1" y1="464.3" x2="1260.1" y2="473.3" stroke="#1a1a1a" stroke-width="1.9"/>
<text font-family='"WenQuanYi Zen Hei","Liberation Sans",sans-serif' font-size="25.3" text-anchor="middle" x="1449.98 1465.19 1480.40" y="499.30" transform="scale(0.86,1)">200</text>
<line x1="1391.1" y1="464.3" x2="1391.1" y2="473.3" stroke="#1a1a1a" stroke-width="1.9"/>
<text font-family='"WenQuanYi Zen Hei","Liberation Sans",sans-serif' font-size="25.3" text-anchor="middle" x="1602.40 1617.61 1632.82" y="499.30" transform="scale(0.86,1)">300</text>
<line x1="1522.2" y1="464.3" x2="1522.2" y2="473.3" stroke="#1a1a1a" stroke-width="1.9"/>
<text font-family='"WenQuanYi Zen Hei","Liberation Sans",sans-serif' font-size="25.3" text-anchor="middle" x="1754.82 1770.03 1785.24" y="499.30" transform="scale(0.86,1)">400</text>
<line x1="1653.3" y1="464.3" x2="1653.3" y2="473.3" stroke="#1a1a1a" stroke-width="1.9"/>
<text font-family='"WenQuanYi Zen Hei","Liberation Sans",sans-serif' font-size="25.3" text-anchor="middle" x="1907.24 1922.45 1937.66" y="499.30" transform="scale(0.86,1)">500</text>
<line x1="956.2" y1="463.7" x2="965.2" y2="463.7" stroke="#1a1a1a" stroke-width="1.9"/>
<text font-family='"WenQuanYi Zen Hei","Liberation Sans",sans-serif' font-size="25.3" text-anchor="middle" x="1047.81 1063.02 1078.23 1093.44" y="472.30" transform="scale(0.86,1)">1525</text>
<line x1="956.2" y1="406.2" x2="965.2" y2="406.2" stroke="#1a1a1a" stroke-width="1.9"/>
<text font-family='"WenQuanYi Zen Hei","Liberation Sans",sans-serif' font-size="25.3" text-anchor="middle" x="1047.81 1063.02 1078.23 1093.44" y="414.80" transform="scale(0.86,1)">1550</text>
<line x1="956.2" y1="348.7" x2="965.2" y2="348.7" stroke="#1a1a1a" stroke-width="1.9"/>
<text font-family='"WenQuanYi Zen Hei","Liberation Sans",sans-serif' font-size="25.3" text-anchor="middle" x="1047.81 1063.02 1078.23 1093.44" y="357.30" transform="scale(0.86,1)">1575</text>
<line x1="956.2" y1="291.2" x2="965.2" y2="291.2" stroke="#1a1a1a" stroke-width="1.9"/>
<text font-family='"WenQuanYi Zen Hei","Liberation Sans",sans-serif' font-size="25.3" text-anchor="middle" x="1047.81 1063.02 1078.23 1093.44" y="299.80" transform="scale(0.86,1)">1600</text>
<line x1="956.2" y1="233.7" x2="965.2" y2="233.7" stroke="#1a1a1a" stroke-width="1.9"/>
<text font-family='"WenQuanYi Zen Hei","Liberation Sans",sans-serif' font-size="25.3" text-anchor="middle" x="1047.81 1063.02 1078.23 1093.44" y="242.30" transform="scale(0.86,1)">1625</text>
<line x1="956.2" y1="176.2" x2="965.2" y2="176.2" stroke="#1a1a1a" stroke-width="1.9"/>
<text font-family='"WenQuanYi Zen Hei","Liberation Sans",sans-serif' font-size="25.3" text-anchor="middle" x="1047.81 1063.02 1078.23 1093.44" y="184.80" transform="scale(0.86,1)">1650</text>
<line x1="956.2" y1="118.7" x2="965.2" y2="118.7" stroke="#1a1a1a" stroke-width="1.9"/>
<text font-family='"WenQuanYi Zen Hei","Liberation Sans",sans-serif' font-size="25.3" text-anchor="middle" x="1047.81 1063.02 1078.23 1093.44" y="127.30" transform="scale(0.86,1)">1675</text>
<line x1="956.2" y1="61.2" x2="965.2" y2="61.2" stroke="#1a1a1a" stroke-width="1.9"/>
<text font-family='"WenQuanYi Zen Hei","Liberation Sans",sans-serif' font-size="25.3" text-anchor="middle" x="1047.81 1063.02 1078.23 1093.44" y="69.80" transform="scale(0.86,1)">1700</text>
<text font-family='"IPAGothic","Liberation Mono",monospace' font-size="31" text-anchor="middle" x="1113.20 1128.85 1144.50 1160.15 1175.80 1191.45 1207.10 1222.75 1238.40 1254.05" y="23.90" stroke="#000" stroke-width="0.25">Prediction</text><text font-family='"IPAGothic","Liberation Mono",monospace' font-size="31" text-anchor="middle" x="1285.35 1301.00 1316.65 1332.30 1347.95 1363.60 1379.25 1394.90 1410.55" y="23.90" stroke="#000" stroke-width="0.25">accuracy:</text><text font-family='"WenQuanYi Zen Hei","Liberation Sans",sans-serif' font-size="31.3" text-anchor="middle" x="1676.57 1694.77 1712.97 1731.16 1749.36 1767.56" y="23.90" transform="scale(0.86,1)">46.20%</text>
<text font-family='"IPAGothic","Liberation Mono",monospace' font-size="25.0" text-anchor="middle" x="1272.63 1285.71 1298.79 1311.87 1324.95 1338.03" y="531.50" stroke="#000" stroke-width="0.15">Sample</text><text font-family='"IPAGothic","Liberation Mono",monospace' font-size="25.0" text-anchor="middle" x="1364.19 1377.27" y="531.50" stroke="#000" stroke-width="0.15">No</text>
<g transform="translate(881.9,256.4) rotate(-90)"><text font-family='"IPAGothic","Liberation Mono",monospace' font-size="25.3" text-anchor="middle" x="-65.40 -52.32 -39.24 -26.16 -13.08 0.00 13.08 26.16 39.24 52.32 65.40" y="0.00" stroke="#000" stroke-width="0.15">Temperature</text></g>
<rect x="978.3" y="49.9" width="298.4" height="75.6" rx="6" ry="6" fill="#fff" fill-opacity="0.8" stroke="#cccccc" stroke-width="1.6"/>
<line x1="988.8" y1="68.9" x2="1040.8" y2="68.9" stroke="#2f82bd" stroke-width="2.2" stroke-dasharray="2.2 3.7"/>
<line x1="987.3" y1="103.2" x2="1041.3" y2="103.2" stroke="#ff7f0e" stroke-width="2.2"/>
<text font-family='"IPAGothic","Liberation Mono",monospace' font-size="25.3" text-anchor="middle" x="1066.84 1079.92 1093.00 1106.08" y="78.20" stroke="#000" stroke-width="0.15">True</text><text font-family='"IPAGothic","Liberation Mono",monospace' font-size="25.3" text-anchor="middle" x="1132.24 1145.32 1158.40 1171.48 1184.56" y="78.20" stroke="#000" stroke-width="0.15">value</text>
<text font-family='"IPAGothic","Liberation Mono",monospace' font-size="25.3" text-anchor="middle" x="1066.84 1079.92 1093.00 1106.08 1119.16 1132.24 1145.32 1158.40 1171.48 1184.56" y="112.00" stroke="#000" stroke-width="0.15">Predictive</text><text font-family='"IPAGothic","Liberation Mono",monospace' font-size="25.3" text-anchor="middle" x="1210.72 1223.80 1236.88 1249.96 1263.04" y="112.00" stroke="#000" stroke-width="0.15">value</text>
<text font-family='"Liberation Serif",serif' font-size="25" x="1332.0" y="560.1" text-anchor="middle">(b)</text>
<clipPath id="clipc"><rect x="101.7" y="648.5" width="726.0" height="433.3"/></clipPath>
<g clip-path="url(#clipc)" fill="none" stroke-linejoin="round">
<polyline points="134.7,931.8 136.0,906.6 137.3,928.8 138.7,940.9 140.0,897.1 141.3,961.1 142.6,931.5 144.0,903.8 145.3,954.9 146.6,989.8 147.9,914.1 149.2,962.1 150.6,786.8 151.9,893.1 153.2,977.2 154.5,926.3 155.9,904.0 157.2,974.4 158.5,981.4 159.8,896.1 161.2,950.1 162.5,886.7 163.8,913.4 165.1,958.9 166.4,915.1 167.8,980.8 169.1,986.7 170.4,943.3 171.7,944.6 173.1,890.3 174.4,919.8 175.7,967.1 177.0,895.5 178.3,922.7 179.7,970.6 181.0,784.7 182.3,933.0 183.6,951.2 185.0,890.1 186.3,934.1 187.6,954.7 188.9,985.6 190.3,921.4 191.6,883.6 192.9,905.7 194.2,949.0 195.5,914.5 196.9,890.3 198.2,958.5 199.5,942.8 200.8,882.1 202.2,878.3 203.5,984.6 204.8,905.5 206.1,971.0 207.4,930.9 208.8,889.2 210.1,955.7 211.4,924.4 212.7,904.1 214.1,984.6 215.4,937.6 216.7,901.9 218.0,970.2 219.3,943.0 220.7,951.3 222.0,981.4 223.3,915.9 224.6,939.4 226.0,880.0 227.3,891.3 228.6,960.4 229.9,836.9 231.3,800.5 232.6,933.3 233.9,847.1 235.2,871.2 236.5,963.2 237.9,973.0 239.2,813.1 240.5,912.9 241.8,854.1 243.2,886.0 244.5,929.0 245.8,954.0 247.1,950.6 248.4,877.2 249.8,823.4 251.1,822.6 252.4,889.3 253.7,863.3 255.1,939.4 256.4,982.5 257.7,846.0 259.0,930.0 260.4,889.3 261.7,856.3 263.0,961.6 264.3,877.1 265.6,849.2 267.0,922.0 268.3,905.2 269.6,782.6 270.9,959.6 272.3,885.3 273.6,932.8 274.9,980.4 276.2,861.3 277.5,911.5 278.9,818.8 280.2,887.7 281.5,972.6 282.8,973.0 284.2,873.6 285.5,909.0 286.8,824.6 288.1,901.6 289.4,978.3 290.8,844.4 292.1,890.7 293.4,958.9 294.7,822.6 296.1,866.4 297.4,943.2 298.7,945.7 300.0,914.5 301.4,889.5 302.7,818.4 304.0,913.3 305.3,894.4 306.6,840.3 308.0,928.4 309.3,868.4 310.6,842.1 311.9,810.0 313.3,856.1 314.6,811.5 315.9,810.0 317.2,874.7 318.5,845.2 319.9,934.1 321.2,850.9 322.5,836.9 323.8,889.6 325.2,861.5 326.5,923.7 327.8,832.1 329.1,927.8 330.5,818.4 331.8,834.3 333.1,859.9 334.4,901.2 335.7,851.0 337.1,873.0 338.4,968.5 339.7,817.6 341.0,800.5 342.4,973.0 343.7,840.1 345.0,889.4 346.3,932.2 347.6,843.6 349.0,870.6 350.3,937.3 351.6,937.3 352.9,908.6 354.3,802.6 355.6,829.1 356.9,942.8 358.2,867.4 359.5,826.3 360.9,940.0 362.2,832.0 363.5,837.4 364.8,921.3 366.2,897.1 367.5,862.4 368.8,936.6 370.1,879.7 371.5,863.9 372.8,802.6 374.1,808.9 375.4,834.6 376.7,933.1 378.1,893.5 379.4,908.3 380.7,854.1 382.0,874.5 383.4,941.6 384.7,805.7 386.0,888.0 387.3,911.5 388.6,847.2 390.0,972.0 391.3,961.8 392.6,817.7 393.9,907.0 395.3,905.1 396.6,845.0 397.9,812.1 399.2,911.2 400.6,824.6 401.9,975.1 403.2,907.4 404.5,850.0 405.8,908.6 407.2,826.8 408.5,831.1 409.8,894.8 411.1,879.0 412.5,818.4 413.8,914.4 415.1,857.8 416.4,842.3 417.7,890.7 419.1,883.6 420.4,808.2 421.7,908.4 423.0,872.7 424.4,826.1 425.7,914.9 427.0,845.4 428.3,783.7 429.6,893.8 431.0,947.8 432.3,922.1 433.6,826.1 434.9,846.9 436.3,803.6 437.6,816.4 438.9,928.8 440.2,920.6 441.6,857.3 442.9,902.5 444.2,948.9 445.5,980.4 446.8,889.0 448.2,921.1 449.5,832.2 450.8,892.3 452.1,947.0 453.5,846.9 454.8,868.7 456.1,978.3 457.4,809.6 458.7,932.7 460.1,786.8 461.4,801.9 462.7,971.0 464.0,865.7 465.4,818.6 466.7,905.9 468.0,861.1 469.3,843.0 470.7,977.7 472.0,898.0 473.3,979.3 474.6,924.4 475.9,887.9 477.3,845.1 478.6,775.2 479.9,953.0 481.2,783.7 482.6,909.1 483.9,886.6 485.2,943.6 486.5,833.4 487.8,881.9 489.2,914.4 490.5,815.9 491.8,855.1 493.1,921.9 494.5,815.1 495.8,844.5 497.1,911.4 498.4,786.8 499.8,860.3 501.1,923.9 502.4,937.3 503.7,786.8 505.0,897.1 506.4,832.2 507.7,863.2 509.0,878.2 510.3,810.8 511.7,874.0 513.0,792.1 514.3,832.0 515.6,914.1 516.9,851.0 518.3,813.1 519.6,884.8 520.9,843.3 522.2,830.9 523.6,897.6 524.9,860.1 526.2,830.8 527.5,874.9 528.8,855.8 530.2,814.7 531.5,888.1 532.8,854.4 534.1,829.4 535.5,783.7 536.8,837.2 538.1,909.8 539.4,804.6 540.8,981.4 542.1,919.4 543.4,823.3 544.7,846.5 546.0,938.0 547.4,797.3 548.7,880.0 550.0,916.0 551.3,945.7 552.7,872.7 554.0,894.9 555.3,823.2 556.6,866.6 557.9,984.6 559.3,820.0 560.6,863.7 561.9,927.8 563.2,956.2 564.6,968.7 565.9,893.5 567.2,863.7 568.5,919.2 569.9,900.8 571.2,848.3 572.5,921.1 573.8,985.6 575.1,815.4 576.5,813.1 577.8,867.0 579.1,816.6 580.4,947.4 581.8,979.3 583.1,817.5 584.4,774.2 585.7,852.8 587.0,825.4 588.4,958.0 589.7,878.4 591.0,978.4 592.3,795.7 593.7,852.8 595.0,923.7 596.3,989.8 597.6,874.1 598.9,938.5 600.3,816.3 601.6,881.0 602.9,908.2 604.2,783.7 605.6,887.1 606.9,937.4 608.2,787.5 609.5,886.4 610.9,958.2 612.2,956.2 613.5,842.8 614.8,913.5 616.1,811.0 617.5,783.7 618.8,883.5 620.1,840.7 621.4,918.1 622.8,870.4 624.1,848.4 625.4,920.5 626.7,896.7 628.0,794.5 629.4,973.0 630.7,850.2 632.0,802.0 633.3,899.9 634.7,827.3 636.0,802.8 637.3,872.7 638.6,775.2 640.0,818.5 641.3,931.6 642.6,830.0 643.9,918.1 645.2,778.4 646.6,856.0 647.9,924.7 649.2,814.8 650.5,949.9 651.9,909.3 653.2,778.4 654.5,882.3 655.8,886.0 657.1,790.5 658.5,887.9 659.8,944.3 661.1,837.0 662.4,868.1 663.8,957.5 665.1,825.6 666.4,864.6 667.7,797.3 669.0,954.0 670.4,913.6 671.7,857.6 673.0,839.6 674.3,955.4 675.7,858.2 677.0,832.1 678.3,982.5 679.6,886.0 681.0,809.1 682.3,899.3 683.6,857.2 684.9,789.9 686.2,875.8 687.6,783.7 688.9,884.6 690.2,873.5 691.5,829.0 692.9,800.0 694.2,891.9 695.5,848.1 696.8,872.4 698.1,792.7 699.5,829.1 700.8,889.4 702.1,827.3 703.4,850.7 704.8,872.5 706.1,801.6 707.4,871.2 708.7,894.4 710.1,832.5 711.4,980.4 712.7,956.5 714.0,802.9 715.3,779.5 716.7,984.6 718.0,818.7 719.3,851.4 720.6,926.8 722.0,797.3 723.3,970.1 724.6,954.0 725.9,815.3 727.2,901.6 728.6,769.4 729.9,775.3 731.2,924.7 732.5,846.9 733.9,770.0 735.2,885.8 736.5,845.0 737.8,814.5 739.1,885.3 740.5,822.5 741.8,803.7 743.1,850.0 744.4,826.7 745.8,789.2 747.1,872.3 748.4,853.9 749.7,912.3 751.1,782.2 752.4,775.2 753.7,894.0 755.0,947.8 756.3,849.2 757.7,932.2 759.0,780.5 760.3,848.2 761.6,866.3 763.0,781.5 764.3,856.7 765.6,888.3 766.9,783.7 768.2,817.4 769.6,869.3 770.9,802.6 772.2,836.7 773.5,787.9 774.9,816.7 776.2,872.1 777.5,829.8 778.8,803.2 780.2,872.5 781.5,862.2 782.8,795.2 784.1,898.3 785.4,918.3 786.8,809.1 788.1,896.3 789.4,836.8 790.7,824.0 792.1,856.8 793.4,886.7 794.7,817.5" stroke="#2f82bd" stroke-width="2.0" stroke-dasharray="2.0 3.85"/>
<polyline points="134.7,989.3 136.0,1003.1 137.3,997.0 138.7,993.0 140.0,1003.1 141.3,999.1 142.6,986.6 144.0,1002.3 145.3,991.8 146.6,978.2 147.9,1022.4 149.2,1011.5 150.6,950.7 151.9,999.6 153.2,1012.8 154.5,1022.4 155.9,989.7 157.2,1000.3 158.5,943.9 159.8,971.0 161.2,1001.7 162.5,1009.7 163.8,972.3 165.1,954.0 166.4,995.0 167.8,968.5 169.1,944.7 170.4,1043.2 171.7,952.3 173.1,932.7 174.4,1026.2 175.7,975.7 177.0,917.8 178.3,947.9 179.7,911.1 181.0,921.4 182.3,952.3 183.6,963.1 185.0,936.1 186.3,947.6 187.6,936.8 188.9,974.8 190.3,988.5 191.6,930.3 192.9,976.6 194.2,967.3 195.5,938.2 196.9,1007.3 198.2,966.3 199.5,951.9 200.8,962.6 202.2,992.9 203.5,946.6 204.8,1013.0 206.1,986.3 207.4,952.4 208.8,973.7 210.1,981.4 211.4,944.6 212.7,1018.6 214.1,952.9 215.4,984.5 216.7,965.3 218.0,945.6 219.3,986.0 220.7,967.5 222.0,947.5 223.3,982.4 224.6,958.0 226.0,992.2 227.3,920.8 228.6,953.4 229.9,841.3 231.3,911.9 232.6,949.2 233.9,866.0 235.2,918.1 236.5,973.4 237.9,856.4 239.2,910.2 240.5,815.0 241.8,955.5 243.2,908.0 244.5,845.7 245.8,969.6 247.1,884.6 248.4,825.6 249.8,939.3 251.1,895.1 252.4,855.3 253.7,873.0 255.1,938.6 256.4,847.7 257.7,799.9 259.0,920.5 260.4,823.4 261.7,988.5 263.0,789.5 264.3,810.8 265.6,921.8 267.0,862.7 268.3,937.3 269.6,907.7 270.9,855.5 272.3,1009.2 273.6,883.7 274.9,843.9 276.2,940.7 277.5,909.3 278.9,825.1 280.2,911.7 281.5,967.7 282.8,858.8 284.2,795.2 285.5,957.5 286.8,847.1 288.1,877.5 289.4,984.7 290.8,800.7 292.1,896.2 293.4,773.5 294.7,942.9 296.1,880.0 297.4,806.9 298.7,1045.0 300.0,842.5 301.4,764.0 302.7,898.7 304.0,873.0 305.3,790.2 306.6,850.4 308.0,913.6 309.3,814.5 310.6,950.7 311.9,944.6 313.3,852.8 314.6,882.4 315.9,912.6 317.2,831.7 318.5,888.2 319.9,973.4 321.2,924.8 322.5,882.6 323.8,861.8 325.2,933.0 326.5,1060.1 327.8,831.9 329.1,918.1 330.5,856.8 331.8,829.1 333.1,765.9 334.4,760.3 335.7,801.3 337.1,832.5 338.4,904.5 339.7,808.9 341.0,851.9 342.4,890.3 343.7,786.5 345.0,887.8 346.3,800.1 347.6,919.1 349.0,907.1 350.3,997.9 351.6,973.9 352.9,867.2 354.3,853.0 355.6,1011.1 356.9,911.1 358.2,810.2 359.5,886.6 360.9,954.7 362.2,788.6 363.5,1009.2 364.8,932.7 366.2,860.3 367.5,879.2 368.8,956.1 370.1,862.2 371.5,930.3 372.8,858.0 374.1,950.1 375.4,911.1 376.7,988.5 378.1,963.1 379.4,864.0 380.7,875.7 382.0,965.5 383.4,909.8 384.7,869.3 386.0,893.5 387.3,932.1 388.6,867.2 390.0,919.5 391.3,792.3 392.6,1062.0 393.9,893.1 395.3,951.4 396.6,809.0 397.9,879.6 399.2,788.6 400.6,950.3 401.9,980.9 403.2,824.4 404.5,958.2 405.8,918.7 407.2,828.5 408.5,937.5 409.8,873.6 411.1,805.5 412.5,891.2 413.8,982.8 415.1,854.7 416.4,915.4 417.7,957.6 419.1,796.1 420.4,897.6 421.7,938.6 423.0,1026.2 424.4,878.7 425.7,794.7 427.0,912.9 428.3,850.8 429.6,771.6 431.0,921.4 432.3,965.8 433.6,788.4 434.9,929.9 436.3,879.8 437.6,797.5 438.9,867.3 440.2,942.5 441.6,796.1 442.9,878.4 444.2,907.5 445.5,816.1 446.8,865.1 448.2,920.7 449.5,1029.9 450.8,889.8 452.1,835.6 453.5,915.9 454.8,844.6 456.1,781.8 457.4,752.7 458.7,868.1 460.1,794.4 461.4,884.2 462.7,751.8 464.0,779.5 465.4,839.4 466.7,958.3 468.0,794.1 469.3,850.3 470.7,760.3 472.0,771.6 473.3,867.0 474.6,922.7 475.9,823.8 477.3,844.2 478.6,728.2 479.9,1020.5 481.2,894.5 482.6,793.8 483.9,934.3 485.2,824.5 486.5,759.0 487.8,752.7 489.2,879.1 490.5,814.5 491.8,931.9 493.1,738.6 494.5,782.7 495.8,859.4 497.1,935.4 498.4,714.0 499.8,958.3 501.1,900.2 502.4,800.1 503.7,837.0 505.0,771.7 506.4,905.6 507.7,758.4 509.0,800.3 510.3,973.4 511.7,866.9 513.0,822.1 514.3,951.0 515.6,881.1 516.9,805.8 518.3,924.3 519.6,895.9 520.9,820.0 522.2,824.9 523.6,881.8 524.9,757.4 526.2,836.4 527.5,894.2 528.8,791.7 530.2,844.5 531.5,801.1 532.8,874.8 534.1,845.9 535.5,689.6 536.8,904.7 538.1,958.3 539.4,768.6 540.8,753.7 542.1,894.6 543.4,812.2 544.7,832.6 546.0,908.5 547.4,786.1 548.7,724.4 550.0,919.0 551.3,1041.3 552.7,867.7 554.0,940.5 555.3,788.5 556.6,876.7 557.9,1031.8 559.3,935.9 560.6,866.7 561.9,757.4 563.2,920.7 564.6,960.2 565.9,833.1 567.2,912.9 568.5,878.3 569.9,760.3 571.2,849.5 572.5,956.6 573.8,969.6 575.1,874.1 576.5,930.4 577.8,823.0 579.1,845.1 580.4,737.6 581.8,797.9 583.1,720.7 584.4,958.3 585.7,937.8 587.0,892.2 588.4,816.6 589.7,909.1 591.0,850.3 592.3,802.4 593.7,927.2 595.0,773.5 596.3,1018.6 597.6,897.1 598.9,918.7 600.3,803.5 601.6,903.8 602.9,964.5 604.2,762.1 605.6,902.1 606.9,940.9 608.2,1007.3 609.5,873.9 610.9,796.1 612.2,922.6 613.5,892.8 614.8,815.4 616.1,927.0 617.5,857.3 618.8,708.4 620.1,936.8 621.4,887.7 622.8,814.8 624.1,669.8 625.4,937.6 626.7,793.2 628.0,862.1 629.4,916.7 630.7,950.7 632.0,852.9 633.3,899.4 634.7,777.4 636.0,843.7 637.3,947.0 638.6,693.3 640.0,856.8 641.3,797.5 642.6,935.3 643.9,947.0 645.2,841.1 646.6,938.9 647.9,863.0 649.2,779.1 650.5,887.6 651.9,973.4 653.2,835.2 654.5,912.8 655.8,945.6 657.1,806.6 658.5,753.7 659.8,926.0 661.1,825.1 662.4,882.3 663.8,973.4 665.1,914.4 666.4,767.8 667.7,850.1 669.0,953.2 670.4,869.0 671.7,838.6 673.0,935.6 674.3,872.5 675.7,809.3 677.0,885.6 678.3,928.1 679.6,819.7 681.0,1007.3 682.3,926.6 683.6,797.2 684.9,880.3 686.2,912.4 687.6,760.3 688.9,839.7 690.2,802.9 691.5,982.8 692.9,882.1 694.2,784.0 695.5,934.4 696.8,858.3 698.1,803.6 699.5,894.9 700.8,848.0 702.1,809.4 703.4,870.9 704.8,956.4 706.1,836.5 707.4,764.0 708.7,917.9 710.1,801.4 711.4,717.8 712.7,941.9 714.0,814.5 715.3,697.1 716.7,1018.6 718.0,906.3 719.3,836.5 720.6,775.6 722.0,931.3 723.3,873.2 724.6,728.2 725.9,967.7 727.2,834.0 728.6,744.2 729.9,874.0 731.2,906.3 732.5,804.4 733.9,867.9 735.2,925.5 736.5,784.1 737.8,752.7 739.1,900.1 740.5,824.9 741.8,895.4 743.1,973.4 744.4,920.6 745.8,858.9 747.1,791.2 748.4,936.1 749.7,678.2 751.1,809.5 752.4,932.8 753.7,850.6 755.0,990.3 756.3,877.0 757.7,918.8 759.0,841.3 760.3,868.2 761.6,703.7 763.0,794.6 764.3,890.2 765.6,906.8 766.9,969.6 768.2,856.5 769.6,828.7 770.9,907.9 772.2,979.0 773.5,810.4 774.9,905.6 776.2,866.0 777.5,841.8 778.8,948.9 780.2,869.0 781.5,816.3 782.8,880.1 784.1,798.0 785.4,831.6 786.8,856.6 788.1,885.7 789.4,931.9 790.7,741.4 792.1,894.4 793.4,828.0 794.7,894.2" stroke="#ff7f0e" stroke-width="2.2"/>
</g>
<rect x="101.7" y="648.5" width="726.0" height="433.3" fill="none" stroke="#1a1a1a" stroke-width="2.1"/>
<line x1="134.7" y1="1081.8" x2="134.7" y2="1090.8" stroke="#1a1a1a" stroke-width="1.9"/>
<text font-family='"WenQuanYi Zen Hei","Liberation Sans",sans-serif' font-size="25.3" text-anchor="middle" x="156.63" y="1116.80" transform="scale(0.86,1)">0</text>
<line x1="267.0" y1="1081.8" x2="267.0" y2="1090.8" stroke="#1a1a1a" stroke-width="1.9"/>
<text font-family='"WenQuanYi Zen Hei","Liberation Sans",sans-serif' font-size="25.3" text-anchor="middle" x="295.21 310.42 325.63" y="1116.80" transform="scale(0.86,1)">100</text>
<line x1="399.2" y1="1081.8" x2="399.2" y2="1090.8" stroke="#1a1a1a" stroke-width="1.9"/>
<text font-family='"WenQuanYi Zen Hei","Liberation Sans",sans-serif' font-size="25.3" text-anchor="middle" x="449.01 464.22 479.43" y="1116.80" transform="scale(0.86,1)">200</text>
<line x1="531.5" y1="1081.8" x2="531.5" y2="1090.8" stroke="#1a1a1a" stroke-width="1.9"/>
<text font-family='"WenQuanYi Zen Hei","Liberation Sans",sans-serif' font-size="25.3" text-anchor="middle" x="602.81 618.02 633.23" y="1116.80" transform="scale(0.86,1)">300</text>
<line x1="663.8" y1="1081.8" x2="663.8" y2="1090.8" stroke="#1a1a1a" stroke-width="1.9"/>
<text font-family='"WenQuanYi Zen Hei","Liberation Sans",sans-serif' font-size="25.3" text-anchor="middle" x="756.60 771.81 787.02" y="1116.80" transform="scale(0.86,1)">400</text>
<line x1="796.0" y1="1081.8" x2="796.0" y2="1090.8" stroke="#1a1a1a" stroke-width="1.9"/>
<text font-family='"WenQuanYi Zen Hei","Liberation Sans",sans-serif' font-size="25.3" text-anchor="middle" x="910.40 925.61 940.82" y="1116.80" transform="scale(0.86,1)">500</text>
<line x1="92.7" y1="1044.5" x2="101.7" y2="1044.5" stroke="#1a1a1a" stroke-width="1.9"/>
<text font-family='"WenQuanYi Zen Hei","Liberation Sans",sans-serif' font-size="25.3" text-anchor="middle" x="43.74 58.95 74.16 89.37" y="1053.10" transform="scale(0.86,1)">1600</text>
<line x1="92.7" y1="958.6" x2="101.7" y2="958.6" stroke="#1a1a1a" stroke-width="1.9"/>
<text font-family='"WenQuanYi Zen Hei","Liberation Sans",sans-serif' font-size="25.3" text-anchor="middle" x="43.74 58.95 74.16 89.37" y="967.20" transform="scale(0.86,1)">1620</text>
<line x1="92.7" y1="872.7" x2="101.7" y2="872.7" stroke="#1a1a1a" stroke-width="1.9"/>
<text font-family='"WenQuanYi Zen Hei","Liberation Sans",sans-serif' font-size="25.3" text-anchor="middle" x="43.74 58.95 74.16 89.37" y="881.30" transform="scale(0.86,1)">1640</text>
<line x1="92.7" y1="786.8" x2="101.7" y2="786.8" stroke="#1a1a1a" stroke-width="1.9"/>
<text font-family='"WenQuanYi Zen Hei","Liberation Sans",sans-serif' font-size="25.3" text-anchor="middle" x="43.74 58.95 74.16 89.37" y="795.40" transform="scale(0.86,1)">1660</text>
<line x1="92.7" y1="700.9" x2="101.7" y2="700.9" stroke="#1a1a1a" stroke-width="1.9"/>
<text font-family='"WenQuanYi Zen Hei","Liberation Sans",sans-serif' font-size="25.3" text-anchor="middle" x="43.74 58.95 74.16 89.37" y="709.50" transform="scale(0.86,1)">1680</text>
<text font-family='"IPAGothic","Liberation Mono",monospace' font-size="31" text-anchor="middle" x="252.95 268.60 284.25 299.90 315.55 331.20 346.85 362.50 378.15 393.80" y="635.20" stroke="#000" stroke-width="0.25">Prediction</text><text font-family='"IPAGothic","Liberation Mono",monospace' font-size="31" text-anchor="middle" x="425.10 440.75 456.40 472.05 487.70 503.35 519.00 534.65 550.30" y="635.20" stroke="#000" stroke-width="0.25">accuracy:</text><text font-family='"WenQuanYi Zen Hei","Liberation Sans",sans-serif' font-size="31.3" text-anchor="middle" x="676.28 694.48 712.67 730.87 749.07 767.27" y="635.20" transform="scale(0.86,1)">52.00%</text>
<text font-family='"IPAGothic","Liberation Mono",monospace' font-size="25.0" text-anchor="middle" x="412.38 425.46 438.54 451.62 464.70 477.78" y="1149.00" stroke="#000" stroke-width="0.15">Sample</text><text font-family='"IPAGothic","Liberation Mono",monospace' font-size="25.0" text-anchor="middle" x="503.94 517.02" y="1149.00" stroke="#000" stroke-width="0.15">No</text>
<g transform="translate(18.4,872.3) rotate(-90)"><text font-family='"IPAGothic","Liberation Mono",monospace' font-size="25.3" text-anchor="middle" x="-65.40 -52.32 -39.24 -26.16 -13.08 0.00 13.08 26.16 39.24 52.32 65.40" y="0.00" stroke="#000" stroke-width="0.15">Temperature</text></g>
<rect x="114.8" y="661.2" width="298.4" height="75.6" rx="6" ry="6" fill="#fff" fill-opacity="0.8" stroke="#cccccc" stroke-width="1.6"/>
<line x1="125.3" y1="680.2" x2="177.3" y2="680.2" stroke="#2f82bd" stroke-width="2.2" stroke-dasharray="2.2 3.7"/>
<line x1="123.8" y1="714.5" x2="177.8" y2="714.5" stroke="#ff7f0e" stroke-width="2.2"/>
<text font-family='"IPAGothic","Liberation Mono",monospace' font-size="25.3" text-anchor="middle" x="203.34 216.42 229.50 242.58" y="689.50" stroke="#000" stroke-width="0.15">True</text><text font-family='"IPAGothic","Liberation Mono",monospace' font-size="25.3" text-anchor="middle" x="268.74 281.82 294.90 307.98 321.06" y="689.50" stroke="#000" stroke-width="0.15">value</text>
<text font-family='"IPAGothic","Liberation Mono",monospace' font-size="25.3" text-anchor="middle" x="203.34 216.42 229.50 242.58 255.66 268.74 281.82 294.90 307.98 321.06" y="723.30" stroke="#000" stroke-width="0.15">Predictive</text><text font-family='"IPAGothic","Liberation Mono",monospace' font-size="25.3" text-anchor="middle" x="347.22 360.30 373.38 386.46 399.54" y="723.30" stroke="#000" stroke-width="0.15">value</text>
<text font-family='"Liberation Serif",serif' font-size="25" x="471.9" y="1177.8" text-anchor="middle">(c)</text>
<clipPath id="clipd"><rect x="965.1" y="648.5" width="726.0" height="433.0"/></clipPath>
<g clip-path="url(#clipd)" fill="none" stroke-linejoin="round">
<polyline points="998.1,875.2 999.4,852.8 1000.7,872.6 1002.1,883.3 1003.4,844.3 1004.7,901.3 1006.0,875.0 1007.4,850.3 1008.7,895.9 1010.0,926.9 1011.3,859.5 1012.6,902.2 1014.0,746.2 1015.3,840.8 1016.6,915.7 1017.9,870.4 1019.3,850.5 1020.6,913.2 1021.9,919.4 1023.2,843.4 1024.6,891.5 1025.9,835.1 1027.2,858.9 1028.5,899.4 1029.8,860.4 1031.2,918.9 1032.5,924.1 1033.8,885.5 1035.1,886.6 1036.5,838.3 1037.8,864.6 1039.1,906.7 1040.4,842.9 1041.7,867.1 1043.1,909.8 1044.4,744.3 1045.7,876.3 1047.0,892.5 1048.4,838.2 1049.7,877.3 1051.0,895.6 1052.3,923.1 1053.7,866.0 1055.0,832.4 1056.3,852.0 1057.6,890.6 1058.9,859.9 1060.3,838.3 1061.6,899.0 1062.9,885.0 1064.2,831.0 1065.6,827.7 1066.9,922.2 1068.2,851.8 1069.5,910.1 1070.8,874.5 1072.2,837.4 1073.5,896.5 1074.8,868.7 1076.1,850.6 1077.5,922.2 1078.8,880.4 1080.1,848.6 1081.4,909.5 1082.7,885.2 1084.1,892.6 1085.4,919.4 1086.7,861.1 1088.0,882.0 1089.4,829.2 1090.7,839.2 1092.0,900.7 1093.3,790.8 1094.7,758.4 1096.0,876.5 1097.3,799.8 1098.6,821.4 1099.9,903.2 1101.3,911.9 1102.6,769.6 1103.9,858.4 1105.2,806.1 1106.6,834.5 1107.9,872.8 1109.2,895.0 1110.5,892.0 1111.8,826.6 1113.2,778.8 1114.5,778.0 1115.8,837.4 1117.1,814.3 1118.5,882.0 1119.8,920.4 1121.1,798.9 1122.4,873.6 1123.8,837.4 1125.1,808.0 1126.4,901.8 1127.7,826.5 1129.0,801.8 1130.4,866.5 1131.7,851.6 1133.0,742.5 1134.3,900.0 1135.7,833.9 1137.0,876.2 1138.3,918.5 1139.6,812.5 1140.9,857.2 1142.3,774.7 1143.6,836.0 1144.9,911.6 1146.2,911.9 1147.6,823.5 1148.9,855.0 1150.2,779.8 1151.5,848.4 1152.8,916.6 1154.2,797.5 1155.5,838.7 1156.8,899.4 1158.1,778.0 1159.5,817.1 1160.8,885.4 1162.1,887.6 1163.4,859.9 1164.8,837.6 1166.1,774.3 1167.4,858.8 1168.7,842.0 1170.0,793.8 1171.4,872.2 1172.7,818.8 1174.0,795.4 1175.3,766.8 1176.7,807.9 1178.0,768.2 1179.3,766.8 1180.6,824.4 1181.9,798.2 1183.3,877.3 1184.6,803.3 1185.9,790.8 1187.2,837.7 1188.6,812.7 1189.9,868.1 1191.2,786.5 1192.5,871.7 1193.9,774.3 1195.2,788.5 1196.5,811.2 1197.8,848.0 1199.1,803.3 1200.5,822.9 1201.8,907.9 1203.1,773.6 1204.4,758.4 1205.8,911.9 1207.1,793.7 1208.4,837.5 1209.7,875.6 1211.0,796.7 1212.4,820.7 1213.7,880.1 1215.0,880.1 1216.3,854.6 1217.7,760.3 1219.0,783.8 1220.3,885.1 1221.6,817.9 1222.9,781.3 1224.3,882.5 1225.6,786.5 1226.9,791.3 1228.2,865.9 1229.6,844.3 1230.9,813.5 1232.2,879.5 1233.5,828.9 1234.9,814.8 1236.2,760.3 1237.5,765.9 1238.8,788.7 1240.1,876.4 1241.5,841.2 1242.8,854.4 1244.1,806.1 1245.4,824.3 1246.8,884.0 1248.1,763.1 1249.4,836.3 1250.7,857.2 1252.0,800.0 1253.4,911.0 1254.7,902.0 1256.0,773.7 1257.3,853.2 1258.7,851.5 1260.0,798.0 1261.3,768.7 1262.6,856.9 1264.0,779.8 1265.3,913.8 1266.6,853.5 1267.9,802.4 1269.2,854.6 1270.6,781.8 1271.9,785.6 1273.2,842.3 1274.5,828.3 1275.9,774.3 1277.2,859.8 1278.5,809.3 1279.8,795.6 1281.1,838.7 1282.5,832.4 1283.8,765.2 1285.1,854.5 1286.4,822.7 1287.8,781.2 1289.1,860.2 1290.4,798.3 1291.7,743.4 1293.0,841.4 1294.4,889.5 1295.7,866.6 1297.0,781.2 1298.3,799.7 1299.7,761.2 1301.0,772.6 1302.3,872.6 1303.6,865.3 1305.0,808.9 1306.3,849.2 1307.6,890.5 1308.9,918.5 1310.2,837.1 1311.6,865.7 1312.9,786.6 1314.2,840.1 1315.5,888.8 1316.9,799.7 1318.2,819.1 1319.5,916.6 1320.8,766.5 1322.1,876.1 1323.5,746.2 1324.8,759.7 1326.1,910.1 1327.4,816.4 1328.8,774.5 1330.1,852.2 1331.4,812.3 1332.7,796.2 1334.1,916.1 1335.4,845.2 1336.7,917.5 1338.0,868.7 1339.3,836.2 1340.7,798.1 1342.0,735.9 1343.3,894.1 1344.6,743.4 1346.0,855.0 1347.3,835.0 1348.6,885.7 1349.9,787.7 1351.2,830.8 1352.6,859.8 1353.9,772.1 1355.2,807.0 1356.5,866.5 1357.9,771.4 1359.2,797.5 1360.5,857.1 1361.8,746.2 1363.2,811.6 1364.5,868.2 1365.8,880.1 1367.1,746.2 1368.4,844.3 1369.8,786.6 1371.1,814.2 1372.4,827.5 1373.7,767.5 1375.1,823.8 1376.4,750.9 1377.7,786.4 1379.0,859.5 1380.3,803.3 1381.7,769.6 1383.0,833.4 1384.3,796.5 1385.6,785.5 1387.0,844.8 1388.3,811.5 1389.6,785.3 1390.9,824.6 1392.2,807.6 1393.6,771.0 1394.9,836.3 1396.2,806.4 1397.5,784.1 1398.9,743.4 1400.2,791.0 1401.5,855.6 1402.8,762.1 1404.2,919.4 1405.5,864.2 1406.8,778.7 1408.1,799.4 1409.4,880.8 1410.8,755.6 1412.1,829.2 1413.4,861.2 1414.7,887.6 1416.1,822.7 1417.4,842.4 1418.7,778.6 1420.0,817.3 1421.3,922.2 1422.7,775.8 1424.0,814.7 1425.3,871.7 1426.6,896.9 1428.0,908.1 1429.3,841.2 1430.6,814.6 1431.9,864.0 1433.3,847.7 1434.6,800.9 1435.9,865.8 1437.2,923.1 1438.5,771.6 1439.9,769.6 1441.2,817.6 1442.5,772.7 1443.8,889.2 1445.2,917.5 1446.5,773.5 1447.8,735.0 1449.1,805.0 1450.4,780.6 1451.8,898.5 1453.1,827.7 1454.4,916.7 1455.7,754.2 1457.1,805.0 1458.4,868.0 1459.7,926.9 1461.0,823.9 1462.3,881.2 1463.7,772.5 1465.0,830.1 1466.3,854.2 1467.6,743.4 1469.0,835.5 1470.3,880.3 1471.6,746.8 1472.9,834.9 1474.3,898.8 1475.6,896.9 1476.9,796.1 1478.2,859.0 1479.5,767.8 1480.9,743.4 1482.2,832.2 1483.5,794.2 1484.8,863.1 1486.2,820.6 1487.5,801.0 1488.8,865.2 1490.1,844.0 1491.4,753.1 1492.8,911.9 1494.1,802.6 1495.4,759.8 1496.7,846.8 1498.1,782.2 1499.4,760.5 1500.7,822.6 1502.0,735.9 1503.4,774.4 1504.7,875.1 1506.0,784.7 1507.3,863.1 1508.6,738.7 1510.0,807.8 1511.3,868.9 1512.6,771.1 1513.9,891.3 1515.3,855.2 1516.6,738.7 1517.9,831.2 1519.2,834.5 1520.5,749.5 1521.9,836.2 1523.2,886.3 1524.5,790.9 1525.8,818.6 1527.2,898.1 1528.5,780.7 1529.8,815.5 1531.1,755.6 1532.4,895.0 1533.8,859.0 1535.1,809.2 1536.4,793.2 1537.7,896.2 1539.1,809.7 1540.4,786.5 1541.7,920.4 1543.0,834.5 1544.4,766.1 1545.7,846.3 1547.0,808.8 1548.3,749.0 1549.6,825.4 1551.0,743.4 1552.3,833.3 1553.6,823.3 1554.9,783.7 1556.3,757.9 1557.6,839.8 1558.9,800.8 1560.2,822.4 1561.5,751.4 1562.9,783.8 1564.2,837.5 1565.5,782.2 1566.8,803.1 1568.2,822.5 1569.5,759.4 1570.8,821.3 1572.1,842.0 1573.5,786.9 1574.8,918.5 1576.1,897.3 1577.4,760.6 1578.7,739.7 1580.1,922.2 1581.4,774.6 1582.7,803.7 1584.0,870.8 1585.4,755.6 1586.7,909.3 1588.0,895.0 1589.3,771.5 1590.6,848.4 1592.0,730.8 1593.3,736.0 1594.6,868.9 1595.9,799.7 1597.3,731.2 1598.6,834.3 1599.9,798.0 1601.2,770.8 1602.5,833.8 1603.9,778.0 1605.2,761.2 1606.5,802.5 1607.8,781.7 1609.2,748.4 1610.5,822.3 1611.8,805.9 1613.1,857.9 1614.5,742.1 1615.8,735.9 1617.1,841.6 1618.4,889.5 1619.7,801.8 1621.1,875.6 1622.4,740.6 1623.7,800.8 1625.0,817.0 1626.4,741.5 1627.7,808.4 1629.0,836.5 1630.3,743.4 1631.6,773.5 1633.0,819.7 1634.3,760.2 1635.6,790.6 1636.9,747.2 1638.3,772.8 1639.6,822.1 1640.9,784.4 1642.2,760.8 1643.6,822.5 1644.9,813.3 1646.2,753.7 1647.5,845.4 1648.8,863.2 1650.2,766.1 1651.5,843.7 1652.8,790.7 1654.1,779.3 1655.5,808.5 1656.8,835.1 1658.1,773.5" stroke="#2f82bd" stroke-width="2.0" stroke-dasharray="2.0 3.85"/>
<polyline points="998.1,947.6 999.4,938.3 1000.7,936.3 1002.1,954.2 1003.4,903.6 1004.7,928.0 1006.0,946.0 1007.4,912.0 1008.7,932.2 1010.0,917.9 1011.3,979.0 1012.6,940.0 1014.0,865.9 1015.3,950.2 1016.6,960.2 1017.9,913.8 1019.3,963.7 1020.6,941.8 1021.9,975.2 1023.2,924.9 1024.6,936.5 1025.9,975.2 1027.2,924.9 1028.5,929.2 1029.8,915.3 1031.2,924.3 1032.5,922.9 1033.8,902.5 1035.1,907.3 1036.5,892.4 1037.8,918.4 1039.1,896.0 1040.4,884.7 1041.7,914.0 1043.1,899.5 1044.4,840.4 1045.7,907.7 1047.0,937.6 1048.4,884.8 1049.7,905.6 1051.0,913.5 1052.3,937.6 1053.7,845.1 1055.0,920.4 1056.3,901.4 1057.6,917.8 1058.9,928.6 1060.3,909.0 1061.6,914.1 1062.9,900.9 1064.2,935.6 1065.6,918.0 1066.9,900.2 1068.2,927.4 1069.5,907.0 1070.8,902.1 1072.2,922.3 1073.5,909.7 1074.8,871.5 1076.1,903.4 1077.5,926.4 1078.8,883.4 1080.1,931.9 1081.4,909.7 1082.7,827.2 1084.1,892.8 1085.4,907.0 1086.7,865.1 1088.0,890.0 1089.4,926.2 1090.7,907.3 1092.0,858.8 1093.3,790.4 1094.7,878.8 1096.0,852.8 1097.3,818.2 1098.6,882.7 1099.9,898.0 1101.3,805.2 1102.6,833.7 1103.9,870.5 1105.2,801.2 1106.6,836.1 1107.9,851.7 1109.2,914.9 1110.5,807.5 1111.8,743.3 1113.2,773.1 1114.5,820.7 1115.8,780.1 1117.1,888.6 1118.5,842.6 1119.8,935.6 1121.1,765.9 1122.4,845.3 1123.8,783.7 1125.1,1048.8 1126.4,831.3 1127.7,782.0 1129.0,839.6 1130.4,868.5 1131.7,744.3 1133.0,826.3 1134.3,903.4 1135.7,814.5 1137.0,854.6 1138.3,891.9 1139.6,784.4 1140.9,931.9 1142.3,804.6 1143.6,752.7 1144.9,834.0 1146.2,935.6 1147.6,889.3 1148.9,815.7 1150.2,807.7 1151.5,910.0 1152.8,920.6 1154.2,801.1 1155.5,845.5 1156.8,885.9 1158.1,742.3 1159.5,830.6 1160.8,891.9 1162.1,958.3 1163.4,815.7 1164.8,867.9 1166.1,750.8 1167.4,838.3 1168.7,805.4 1170.0,850.8 1171.4,822.2 1172.7,795.2 1174.0,982.8 1175.3,758.4 1176.7,781.2 1178.0,868.8 1179.3,826.1 1180.6,801.3 1181.9,952.6 1183.3,864.5 1184.6,793.1 1185.9,836.3 1187.2,873.3 1188.6,799.4 1189.9,1063.9 1191.2,860.1 1192.5,811.5 1193.9,840.3 1195.2,791.9 1196.5,739.5 1197.8,820.9 1199.1,805.0 1200.5,849.5 1201.8,805.0 1203.1,789.5 1204.4,868.2 1205.8,913.0 1207.1,774.4 1208.4,829.6 1209.7,870.9 1211.0,784.1 1212.4,824.8 1213.7,1031.8 1215.0,795.4 1216.3,815.6 1217.7,762.1 1219.0,958.3 1220.3,958.3 1221.6,812.0 1222.9,908.6 1224.3,830.3 1225.6,779.1 1226.9,1058.2 1228.2,842.1 1229.6,788.6 1230.9,865.5 1232.2,832.6 1233.5,807.0 1234.9,856.5 1236.2,886.6 1237.5,784.2 1238.8,846.8 1240.1,909.8 1241.5,797.2 1242.8,924.3 1244.1,905.1 1245.4,765.9 1246.8,844.8 1248.1,783.7 1249.4,873.6 1250.7,969.6 1252.0,796.6 1253.4,898.1 1254.7,771.6 1256.0,780.2 1257.3,992.2 1258.7,825.8 1260.0,930.0 1261.3,861.2 1262.6,735.8 1264.0,815.5 1265.3,835.7 1266.6,911.8 1267.9,930.0 1269.2,848.1 1270.6,868.9 1271.9,799.8 1273.2,834.9 1274.5,771.6 1275.9,884.8 1277.2,980.9 1278.5,789.4 1279.8,924.4 1281.1,861.8 1282.5,792.3 1283.8,909.7 1285.1,965.8 1286.4,815.6 1287.8,1037.5 1289.1,894.0 1290.4,774.5 1291.7,856.3 1293.0,743.3 1294.4,899.8 1295.7,838.5 1297.0,897.5 1298.3,743.3 1299.7,804.5 1301.0,767.7 1302.3,900.1 1303.6,834.4 1305.0,751.8 1306.3,871.4 1307.6,827.8 1308.9,797.8 1310.2,857.2 1311.6,842.3 1312.9,1028.1 1314.2,812.9 1315.5,893.6 1316.9,742.3 1318.2,839.2 1319.5,906.8 1320.8,918.7 1322.1,821.6 1323.5,868.6 1324.8,758.3 1326.1,701.8 1327.4,775.2 1328.8,1011.1 1330.1,822.2 1331.4,709.4 1332.7,888.5 1334.1,842.5 1335.4,916.8 1336.7,867.5 1338.0,746.1 1339.3,763.4 1340.7,797.2 1342.0,857.4 1343.3,1048.8 1344.6,827.3 1346.0,909.3 1347.3,743.3 1348.6,707.5 1349.9,861.8 1351.2,728.2 1352.6,808.1 1353.9,768.0 1355.2,901.9 1356.5,762.1 1357.9,766.6 1359.2,855.9 1360.5,840.2 1361.8,762.1 1363.2,897.6 1364.5,830.3 1365.8,792.4 1367.1,924.3 1368.4,864.6 1369.8,713.1 1371.1,851.4 1372.4,906.6 1373.7,907.4 1375.1,830.6 1376.4,735.8 1377.7,796.7 1379.0,847.8 1380.3,766.2 1381.7,939.4 1383.0,752.7 1384.3,776.1 1385.6,861.5 1387.0,815.5 1388.3,790.2 1389.6,728.2 1390.9,820.8 1392.2,788.4 1393.6,810.3 1394.9,868.4 1396.2,765.5 1397.5,837.3 1398.9,711.2 1400.2,960.2 1401.5,802.9 1402.8,864.5 1404.2,726.3 1405.5,822.2 1406.8,751.6 1408.1,845.1 1409.4,840.3 1410.8,732.0 1412.1,910.8 1413.4,822.5 1414.7,1054.5 1416.1,897.6 1417.4,804.9 1418.7,774.8 1420.0,842.1 1421.3,1052.6 1422.7,756.5 1424.0,826.9 1425.3,882.6 1426.6,803.8 1428.0,903.6 1429.3,867.3 1430.6,781.0 1431.9,840.8 1433.3,767.8 1434.6,906.7 1435.9,850.8 1437.2,969.6 1438.5,874.6 1439.9,835.4 1441.2,778.6 1442.5,853.1 1443.8,752.7 1445.2,757.2 1446.5,716.9 1447.8,922.5 1449.1,786.0 1450.4,840.2 1451.8,900.0 1453.1,766.0 1454.4,820.9 1455.7,760.3 1457.1,775.7 1458.4,840.7 1459.7,1054.5 1461.0,862.0 1462.3,835.5 1463.7,754.4 1465.0,880.1 1466.3,926.2 1467.6,760.2 1469.0,741.4 1470.3,812.9 1471.6,786.1 1472.9,819.8 1474.3,741.4 1475.6,773.4 1476.9,924.3 1478.2,869.2 1479.5,782.8 1480.9,828.0 1482.2,873.9 1483.5,757.3 1484.8,826.5 1486.2,705.6 1487.5,888.2 1488.8,668.8 1490.1,727.1 1491.4,841.7 1492.8,911.1 1494.1,782.2 1495.4,707.5 1496.7,793.4 1498.1,783.0 1499.4,800.2 1500.7,911.1 1502.0,752.6 1503.4,812.6 1504.7,868.8 1506.0,718.8 1507.3,841.3 1508.6,852.8 1510.0,784.0 1511.3,831.7 1512.6,782.8 1513.9,883.6 1515.3,899.8 1516.6,773.4 1517.9,720.7 1519.2,812.1 1520.5,799.7 1521.9,865.3 1523.2,806.4 1524.5,766.4 1525.8,832.9 1527.2,905.5 1528.5,773.1 1529.8,802.8 1531.1,857.3 1532.4,903.6 1533.8,842.8 1535.1,877.8 1536.4,805.9 1537.7,835.1 1539.1,896.0 1540.4,859.1 1541.7,828.5 1543.0,792.4 1544.4,883.5 1545.7,914.9 1547.0,775.7 1548.3,866.1 1549.6,831.9 1551.0,721.6 1552.3,817.1 1553.6,888.6 1554.9,918.7 1556.3,805.3 1557.6,844.8 1558.9,778.5 1560.2,836.2 1561.5,747.1 1562.9,761.7 1564.2,799.8 1565.5,787.0 1566.8,735.8 1568.2,821.6 1569.5,899.8 1570.8,857.6 1572.1,810.0 1573.5,779.2 1574.8,722.5 1576.1,828.5 1577.4,757.2 1578.7,741.4 1580.1,895.7 1581.4,956.4 1582.7,811.4 1584.0,865.8 1585.4,763.3 1586.7,708.4 1588.0,838.4 1589.3,924.3 1590.6,829.0 1592.0,733.9 1593.3,871.7 1594.6,813.1 1595.9,763.0 1597.3,858.3 1598.6,810.6 1599.9,788.9 1601.2,737.6 1602.5,803.7 1603.9,769.9 1605.2,802.8 1606.5,873.8 1607.8,790.1 1609.2,810.8 1610.5,926.2 1611.8,773.9 1613.1,829.8 1614.5,735.8 1615.8,747.3 1617.1,835.7 1618.4,772.9 1619.7,918.7 1621.1,825.1 1622.4,767.8 1623.7,900.1 1625.0,816.0 1626.4,728.2 1627.7,856.7 1629.0,835.9 1630.3,920.6 1631.6,799.9 1633.0,743.3 1634.3,781.9 1635.6,808.5 1636.9,891.0 1638.3,775.8 1639.6,820.6 1640.9,864.6 1642.2,773.6 1643.6,907.4 1644.9,797.4 1646.2,867.1 1647.5,747.1 1648.8,781.6 1650.2,846.8 1651.5,811.6 1652.8,945.1 1654.1,846.9 1655.5,762.1 1656.8,787.4 1658.1,824.4" stroke="#ff7f0e" stroke-width="2.2"/>
</g>
<rect x="965.1" y="648.5" width="726.0" height="433.0" fill="none" stroke="#1a1a1a" stroke-width="2.1"/>
<line x1="998.1" y1="1081.5" x2="998.1" y2="1090.5" stroke="#1a1a1a" stroke-width="1.9"/>
<text font-family='"WenQuanYi Zen Hei","Liberation Sans",sans-serif' font-size="25.3" text-anchor="middle" x="1160.58" y="1116.50" transform="scale(0.86,1)">0</text>
<line x1="1130.4" y1="1081.5" x2="1130.4" y2="1090.5" stroke="#1a1a1a" stroke-width="1.9"/>
<text font-family='"WenQuanYi Zen Hei","Liberation Sans",sans-serif' font-size="25.3" text-anchor="middle" x="1299.17 1314.38 1329.59" y="1116.50" transform="scale(0.86,1)">100</text>
<line x1="1262.6" y1="1081.5" x2="1262.6" y2="1090.5" stroke="#1a1a1a" stroke-width="1.9"/>
<text font-family='"WenQuanYi Zen Hei","Liberation Sans",sans-serif' font-size="25.3" text-anchor="middle" x="1452.96 1468.17 1483.38" y="1116.50" transform="scale(0.86,1)">200</text>
<line x1="1394.9" y1="1081.5" x2="1394.9" y2="1090.5" stroke="#1a1a1a" stroke-width="1.9"/>
<text font-family='"WenQuanYi Zen Hei","Liberation Sans",sans-serif' font-size="25.3" text-anchor="middle" x="1606.76 1621.97 1637.18" y="1116.50" transform="scale(0.86,1)">300</text>
<line x1="1527.2" y1="1081.5" x2="1527.2" y2="1090.5" stroke="#1a1a1a" stroke-width="1.9"/>
<text font-family='"WenQuanYi Zen Hei","Liberation Sans",sans-serif' font-size="25.3" text-anchor="middle" x="1760.56 1775.77 1790.97" y="1116.50" transform="scale(0.86,1)">400</text>
<line x1="1659.4" y1="1081.5" x2="1659.4" y2="1090.5" stroke="#1a1a1a" stroke-width="1.9"/>
<text font-family='"WenQuanYi Zen Hei","Liberation Sans",sans-serif' font-size="25.3" text-anchor="middle" x="1914.35 1929.56 1944.77" y="1116.50" transform="scale(0.86,1)">500</text>
<line x1="956.1" y1="1052.0" x2="965.1" y2="1052.0" stroke="#1a1a1a" stroke-width="1.9"/>
<text font-family='"WenQuanYi Zen Hei","Liberation Sans",sans-serif' font-size="25.3" text-anchor="middle" x="1047.70 1062.91 1078.12 1093.33" y="1060.60" transform="scale(0.86,1)">1580</text>
<line x1="956.1" y1="975.5" x2="965.1" y2="975.5" stroke="#1a1a1a" stroke-width="1.9"/>
<text font-family='"WenQuanYi Zen Hei","Liberation Sans",sans-serif' font-size="25.3" text-anchor="middle" x="1047.70 1062.91 1078.12 1093.33" y="984.15" transform="scale(0.86,1)">1600</text>
<line x1="956.1" y1="899.1" x2="965.1" y2="899.1" stroke="#1a1a1a" stroke-width="1.9"/>
<text font-family='"WenQuanYi Zen Hei","Liberation Sans",sans-serif' font-size="25.3" text-anchor="middle" x="1047.70 1062.91 1078.12 1093.33" y="907.70" transform="scale(0.86,1)">1620</text>
<line x1="956.1" y1="822.6" x2="965.1" y2="822.6" stroke="#1a1a1a" stroke-width="1.9"/>
<text font-family='"WenQuanYi Zen Hei","Liberation Sans",sans-serif' font-size="25.3" text-anchor="middle" x="1047.70 1062.91 1078.12 1093.33" y="831.25" transform="scale(0.86,1)">1640</text>
<line x1="956.1" y1="746.2" x2="965.1" y2="746.2" stroke="#1a1a1a" stroke-width="1.9"/>
<text font-family='"WenQuanYi Zen Hei","Liberation Sans",sans-serif' font-size="25.3" text-anchor="middle" x="1047.70 1062.91 1078.12 1093.33" y="754.80" transform="scale(0.86,1)">1660</text>
<line x1="956.1" y1="669.8" x2="965.1" y2="669.8" stroke="#1a1a1a" stroke-width="1.9"/>
<text font-family='"WenQuanYi Zen Hei","Liberation Sans",sans-serif' font-size="25.3" text-anchor="middle" x="1047.70 1062.91 1078.12 1093.33" y="678.35" transform="scale(0.86,1)">1680</text>
<text font-family='"IPAGothic","Liberation Mono",monospace' font-size="31" text-anchor="middle" x="1116.35 1132.00 1147.65 1163.30 1178.95 1194.60 1210.25 1225.90 1241.55 1257.20" y="635.20" stroke="#000" stroke-width="0.25">Prediction</text><text font-family='"IPAGothic","Liberation Mono",monospace' font-size="31" text-anchor="middle" x="1288.50 1304.15 1319.80 1335.45 1351.10 1366.75 1382.40 1398.05 1413.70" y="635.20" stroke="#000" stroke-width="0.25">accuracy:</text><text font-family='"WenQuanYi Zen Hei","Liberation Sans",sans-serif' font-size="31.3" text-anchor="middle" x="1680.23 1698.43 1716.63 1734.83 1753.02 1771.22" y="635.20" transform="scale(0.86,1)">50.00%</text>
<text font-family='"IPAGothic","Liberation Mono",monospace' font-size="25.0" text-anchor="middle" x="1275.78 1288.86 1301.94 1315.02 1328.10 1341.18" y="1148.70" stroke="#000" stroke-width="0.15">Sample</text><text font-family='"IPAGothic","Liberation Mono",monospace' font-size="25.0" text-anchor="middle" x="1367.34 1380.42" y="1148.70" stroke="#000" stroke-width="0.15">No</text>
<g transform="translate(881.2,872.3) rotate(-90)"><text font-family='"IPAGothic","Liberation Mono",monospace' font-size="25.3" text-anchor="middle" x="-65.40 -52.32 -39.24 -26.16 -13.08 0.00 13.08 26.16 39.24 52.32 65.40" y="0.00" stroke="#000" stroke-width="0.15">Temperature</text></g>
<rect x="978.2" y="661.2" width="298.4" height="75.6" rx="6" ry="6" fill="#fff" fill-opacity="0.8" stroke="#cccccc" stroke-width="1.6"/>
<line x1="988.7" y1="680.2" x2="1040.7" y2="680.2" stroke="#2f82bd" stroke-width="2.2" stroke-dasharray="2.2 3.7"/>
<line x1="987.2" y1="714.5" x2="1041.2" y2="714.5" stroke="#ff7f0e" stroke-width="2.2"/>
<text font-family='"IPAGothic","Liberation Mono",monospace' font-size="25.3" text-anchor="middle" x="1066.74 1079.82 1092.90 1105.98" y="689.50" stroke="#000" stroke-width="0.15">True</text><text font-family='"IPAGothic","Liberation Mono",monospace' font-size="25.3" text-anchor="middle" x="1132.14 1145.22 1158.30 1171.38 1184.46" y="689.50" stroke="#000" stroke-width="0.15">value</text>
<text font-family='"IPAGothic","Liberation Mono",monospace' font-size="25.3" text-anchor="middle" x="1066.74 1079.82 1092.90 1105.98 1119.06 1132.14 1145.22 1158.30 1171.38 1184.46" y="723.30" stroke="#000" stroke-width="0.15">Predictive</text><text font-family='"IPAGothic","Liberation Mono",monospace' font-size="25.3" text-anchor="middle" x="1210.62 1223.70 1236.78 1249.86 1262.94" y="723.30" stroke="#000" stroke-width="0.15">value</text>
<text font-family='"Liberation Serif",serif' font-size="25" x="1336.0" y="1177.4" text-anchor="middle">(d)</text>
<clipPath id="clipe"><rect x="101.5" y="1282.8" width="727.7" height="432.7"/></clipPath>
<g clip-path="url(#clipe)" fill="none" stroke-linejoin="round">
<polyline points="134.6,1481.8 135.9,1462.9 137.2,1479.6 138.6,1488.6 139.9,1455.7 141.2,1503.8 142.5,1481.6 143.9,1460.7 145.2,1499.2 146.5,1525.4 147.8,1468.5 149.2,1504.6 150.5,1372.8 151.8,1452.7 153.1,1515.9 154.5,1477.7 155.8,1460.9 157.1,1513.8 158.4,1519.1 159.8,1455.0 161.1,1495.5 162.4,1448.0 163.7,1468.0 165.1,1502.2 166.4,1469.3 167.7,1518.7 169.0,1523.1 170.4,1490.4 171.7,1491.4 173.0,1450.6 174.3,1472.8 175.7,1508.4 177.0,1454.5 178.3,1474.9 179.7,1511.0 181.0,1371.2 182.3,1482.7 183.6,1496.4 185.0,1450.5 186.3,1483.5 187.6,1499.0 188.9,1522.3 190.3,1474.0 191.6,1445.6 192.9,1462.2 194.2,1494.8 195.6,1468.8 196.9,1450.6 198.2,1501.9 199.5,1490.0 200.9,1444.4 202.2,1441.6 203.5,1521.5 204.8,1462.0 206.2,1511.3 207.5,1481.2 208.8,1449.8 210.1,1499.8 211.5,1476.3 212.8,1461.0 214.1,1521.5 215.4,1486.1 216.8,1459.3 218.1,1510.7 219.4,1490.2 220.8,1496.5 222.1,1519.1 223.4,1469.8 224.7,1487.5 226.1,1442.9 227.4,1451.4 228.7,1503.3 230.0,1410.5 231.4,1383.1 232.7,1482.9 234.0,1418.1 235.3,1436.3 236.7,1505.4 238.0,1512.8 239.3,1392.6 240.6,1467.6 242.0,1423.4 243.3,1447.4 244.6,1479.7 245.9,1498.5 247.3,1495.9 248.6,1440.8 249.9,1400.4 251.2,1399.7 252.6,1449.9 253.9,1430.4 255.2,1487.5 256.5,1519.9 257.9,1417.4 259.2,1480.5 260.5,1449.9 261.8,1425.1 263.2,1504.2 264.5,1440.7 265.8,1419.8 267.2,1474.5 268.5,1461.8 269.8,1369.7 271.1,1502.7 272.5,1446.9 273.8,1482.6 275.1,1518.3 276.4,1428.8 277.8,1466.5 279.1,1396.9 280.4,1448.7 281.7,1512.5 283.1,1512.8 284.4,1438.1 285.7,1464.7 287.0,1401.3 288.4,1459.1 289.7,1516.7 291.0,1416.1 292.3,1451.0 293.7,1502.2 295.0,1399.7 296.3,1432.7 297.6,1490.4 299.0,1492.2 300.3,1468.8 301.6,1450.0 302.9,1396.6 304.3,1467.9 305.6,1453.7 306.9,1413.1 308.2,1479.2 309.6,1434.1 310.9,1414.4 312.2,1390.2 313.6,1424.9 314.9,1391.4 316.2,1390.2 317.5,1438.9 318.9,1416.7 320.2,1483.5 321.5,1421.0 322.8,1410.5 324.2,1450.1 325.5,1429.0 326.8,1475.7 328.1,1406.9 329.5,1478.8 330.8,1396.6 332.1,1408.5 333.4,1427.7 334.8,1458.8 336.1,1421.1 337.4,1437.6 338.7,1509.4 340.1,1396.0 341.4,1383.1 342.7,1512.8 344.0,1412.9 345.4,1450.0 346.7,1482.1 348.0,1415.5 349.3,1435.8 350.7,1485.9 352.0,1485.9 353.3,1464.3 354.7,1384.7 356.0,1404.6 357.3,1490.1 358.6,1433.4 360.0,1402.5 361.3,1488.0 362.6,1406.8 363.9,1410.9 365.3,1473.9 366.6,1455.7 367.9,1429.7 369.2,1485.4 370.6,1442.7 371.9,1430.8 373.2,1384.7 374.5,1389.5 375.9,1408.8 377.2,1482.8 378.5,1453.1 379.8,1464.2 381.2,1423.4 382.5,1438.8 383.8,1489.2 385.1,1387.1 386.5,1448.9 387.8,1466.5 389.1,1418.3 390.4,1512.0 391.8,1504.4 393.1,1396.1 394.4,1463.2 395.7,1461.7 397.1,1416.6 398.4,1391.8 399.7,1466.3 401.1,1401.2 402.4,1514.3 403.7,1463.5 405.0,1420.3 406.4,1464.4 407.7,1402.9 409.0,1406.1 410.3,1454.0 411.7,1442.1 413.0,1396.6 414.3,1468.8 415.6,1426.2 417.0,1414.5 418.3,1450.9 419.6,1445.6 420.9,1388.9 422.3,1464.3 423.6,1437.4 424.9,1402.4 426.2,1469.1 427.6,1416.9 428.9,1370.5 430.2,1453.2 431.5,1493.8 432.9,1474.5 434.2,1402.4 435.5,1418.0 436.8,1385.5 438.2,1395.1 439.5,1479.6 440.8,1473.4 442.1,1425.8 443.5,1459.8 444.8,1494.7 446.1,1518.3 447.5,1449.6 448.8,1473.8 450.1,1407.0 451.4,1452.1 452.8,1493.3 454.1,1418.0 455.4,1434.4 456.7,1516.7 458.1,1390.0 459.4,1482.5 460.7,1372.8 462.0,1384.2 463.4,1511.2 464.7,1432.1 466.0,1396.8 467.3,1462.4 468.7,1428.7 470.0,1415.1 471.3,1516.3 472.6,1456.4 474.0,1517.5 475.3,1476.3 476.6,1448.8 477.9,1416.7 479.3,1364.2 480.6,1497.8 481.9,1370.5 483.2,1464.7 484.6,1447.8 485.9,1490.7 487.2,1407.9 488.6,1444.3 489.9,1468.7 491.2,1394.7 492.5,1424.2 493.9,1474.4 495.2,1394.1 496.5,1416.2 497.8,1466.5 499.2,1372.8 500.5,1428.1 501.8,1475.8 503.1,1485.9 504.5,1372.8 505.8,1455.7 507.1,1407.0 508.4,1430.3 509.8,1441.5 511.1,1390.9 512.4,1438.4 513.7,1376.8 515.1,1406.8 516.4,1468.5 517.7,1421.1 519.0,1392.6 520.4,1446.5 521.7,1415.3 523.0,1406.0 524.3,1456.1 525.7,1427.9 527.0,1405.9 528.3,1439.1 529.6,1424.7 531.0,1393.8 532.3,1449.0 533.6,1423.7 535.0,1404.8 536.3,1370.5 537.6,1410.7 538.9,1465.3 540.3,1386.2 541.6,1519.1 542.9,1472.5 544.2,1400.3 545.6,1417.7 546.9,1486.5 548.2,1380.8 549.5,1442.9 550.9,1469.9 552.2,1492.2 553.5,1437.4 554.8,1454.1 556.2,1400.2 557.5,1432.8 558.8,1521.5 560.1,1397.8 561.5,1430.7 562.8,1478.8 564.1,1500.1 565.4,1509.5 566.8,1453.0 568.1,1430.6 569.4,1472.4 570.7,1458.5 572.1,1419.1 573.4,1473.8 574.7,1522.3 576.0,1394.3 577.4,1392.6 578.7,1433.1 580.0,1395.2 581.4,1493.6 582.7,1517.5 584.0,1395.9 585.3,1363.4 586.7,1422.5 588.0,1401.9 589.3,1501.5 590.6,1441.7 592.0,1516.8 593.3,1379.6 594.6,1422.5 595.9,1475.7 597.3,1525.4 598.6,1438.4 599.9,1486.8 601.2,1395.1 602.6,1443.7 603.9,1464.1 605.2,1370.5 606.5,1448.2 607.9,1486.0 609.2,1373.4 610.5,1447.7 611.8,1501.7 613.2,1500.1 614.5,1415.0 615.8,1468.1 617.1,1391.1 618.5,1370.5 619.8,1445.5 621.1,1413.4 622.5,1471.5 623.8,1435.7 625.1,1419.1 626.4,1473.3 627.8,1455.4 629.1,1378.7 630.4,1512.8 631.7,1420.5 633.1,1384.3 634.4,1457.8 635.7,1403.3 637.0,1384.9 638.4,1437.4 639.7,1364.2 641.0,1396.7 642.3,1481.6 643.7,1405.3 645.0,1471.5 646.3,1366.5 647.6,1424.8 649.0,1476.5 650.3,1393.9 651.6,1495.4 652.9,1464.9 654.3,1366.5 655.6,1444.6 656.9,1447.4 658.2,1375.7 659.6,1448.8 660.9,1491.2 662.2,1410.6 663.5,1434.0 664.9,1501.1 666.2,1402.0 667.5,1431.3 668.9,1380.8 670.2,1498.5 671.5,1468.1 672.8,1426.0 674.2,1412.5 675.5,1499.5 676.8,1426.5 678.1,1406.9 679.5,1519.9 680.8,1447.4 682.1,1389.6 683.4,1457.4 684.8,1425.7 686.1,1375.2 687.4,1439.8 688.7,1370.5 690.1,1446.4 691.4,1438.0 692.7,1404.5 694.0,1382.8 695.4,1451.9 696.7,1418.9 698.0,1437.2 699.3,1377.3 700.7,1404.6 702.0,1449.9 703.3,1403.3 704.6,1420.9 706.0,1437.3 707.3,1384.0 708.6,1436.3 709.9,1453.7 711.3,1407.2 712.6,1518.3 713.9,1500.4 715.3,1385.0 716.6,1367.3 717.9,1521.5 719.2,1396.8 720.6,1421.4 721.9,1478.0 723.2,1380.8 724.5,1510.6 725.9,1498.5 727.2,1394.2 728.5,1459.1 729.8,1359.8 731.2,1364.2 732.5,1476.5 733.8,1418.0 735.1,1360.2 736.5,1447.3 737.8,1416.6 739.1,1393.6 740.4,1446.9 741.8,1399.7 743.1,1385.5 744.4,1420.4 745.7,1402.9 747.1,1374.7 748.4,1437.1 749.7,1423.3 751.0,1467.2 752.4,1369.4 753.7,1364.2 755.0,1453.4 756.4,1493.8 757.7,1419.8 759.0,1482.1 760.3,1368.1 761.7,1419.0 763.0,1432.6 764.3,1368.8 765.6,1425.4 767.0,1449.1 768.3,1370.5 769.6,1395.9 770.9,1434.9 772.3,1384.7 773.6,1410.3 774.9,1373.7 776.2,1395.3 777.6,1436.9 778.9,1405.1 780.2,1385.2 781.5,1437.3 782.9,1429.5 784.2,1379.2 785.5,1456.6 786.8,1471.7 788.2,1389.6 789.5,1455.2 790.8,1410.4 792.1,1400.8 793.5,1425.4 794.8,1448.0 796.1,1395.9" stroke="#2f82bd" stroke-width="2.0" stroke-dasharray="2.0 3.85"/>
<polyline points="134.6,1515.3 135.9,1519.2 137.2,1523.3 138.6,1507.3 139.9,1517.4 141.2,1525.9 142.5,1547.0 143.9,1517.6 145.2,1531.9 146.5,1564.0 147.8,1510.5 149.2,1499.0 150.5,1494.2 151.8,1515.1 153.1,1502.4 154.5,1527.3 155.8,1511.5 157.1,1501.0 158.4,1534.1 159.8,1510.9 161.1,1509.8 162.4,1520.0 163.7,1528.7 165.1,1511.2 166.4,1518.8 167.7,1526.6 169.0,1547.0 170.4,1517.4 171.7,1523.0 173.0,1502.7 174.3,1513.9 175.7,1502.1 177.0,1521.4 178.3,1502.7 179.7,1493.6 181.0,1567.8 182.3,1499.4 183.6,1495.6 185.0,1508.4 186.3,1504.3 187.6,1492.3 188.9,1502.7 190.3,1520.7 191.6,1477.3 192.9,1496.6 194.2,1512.6 195.6,1488.9 196.9,1499.2 198.2,1506.6 199.5,1484.1 200.9,1497.0 202.2,1488.2 203.5,1514.4 204.8,1504.3 206.2,1495.3 207.5,1512.4 208.8,1496.0 210.1,1488.9 211.5,1481.0 212.8,1494.0 214.1,1482.3 215.4,1493.5 216.8,1520.6 218.1,1483.4 219.4,1433.9 220.8,1514.3 222.1,1466.1 223.4,1476.9 224.7,1516.2 226.1,1467.7 227.4,1467.1 228.7,1457.0 230.0,1418.8 231.4,1465.1 232.7,1429.8 234.0,1479.9 235.3,1464.7 236.7,1524.4 238.0,1496.6 239.3,1464.0 240.6,1433.2 242.0,1450.9 243.3,1461.6 244.6,1421.4 245.9,1452.2 247.3,1469.1 248.6,1416.9 249.9,1444.1 251.2,1494.5 252.6,1398.0 253.9,1441.6 255.2,1413.1 256.5,1533.8 257.9,1445.6 259.2,1436.8 260.5,1494.5 261.8,1590.4 263.2,1413.4 264.5,1515.1 265.8,1471.5 267.2,1434.7 268.5,1457.2 269.8,1498.1 271.1,1388.6 272.5,1474.8 273.8,1543.2 275.1,1436.3 276.4,1457.3 277.8,1548.9 279.1,1441.4 280.4,1481.3 281.7,1417.8 283.1,1488.4 284.4,1384.8 285.7,1411.6 287.0,1507.0 288.4,1450.9 289.7,1548.9 291.0,1525.4 292.3,1441.3 293.7,1383.0 295.0,1455.2 296.3,1475.3 297.6,1423.9 299.0,1545.1 300.3,1500.7 301.6,1381.1 302.9,1451.8 304.3,1482.5 305.6,1413.1 306.9,1432.1 308.2,1417.4 309.6,1498.2 310.9,1505.5 312.2,1410.8 313.6,1486.6 314.9,1442.5 316.2,1415.0 317.5,1455.8 318.9,1449.8 320.2,1406.9 321.5,1431.0 322.8,1482.4 324.2,1417.0 325.5,1436.3 326.8,1460.2 328.1,1425.0 329.5,1486.7 330.8,1455.5 332.1,1404.0 333.4,1373.5 334.8,1407.5 336.1,1464.9 337.4,1431.8 338.7,1414.8 340.1,1480.5 341.4,1513.1 342.7,1419.7 344.0,1475.6 345.4,1443.2 346.7,1420.6 348.0,1392.4 349.3,1490.5 350.7,1407.5 352.0,1490.5 353.3,1479.4 354.7,1408.8 356.0,1411.2 357.3,1463.1 358.6,1419.4 360.0,1435.2 361.3,1408.3 362.6,1399.9 363.9,1696.0 365.3,1416.8 366.6,1539.5 367.9,1462.9 369.2,1437.0 370.6,1475.9 371.9,1451.5 373.2,1434.9 374.5,1413.1 375.9,1494.5 377.2,1445.0 378.5,1470.8 379.8,1543.3 381.2,1432.9 382.5,1448.3 383.8,1497.6 385.1,1435.4 386.5,1450.2 387.8,1420.0 389.1,1489.9 390.4,1457.9 391.8,1401.8 393.1,1512.0 394.4,1449.6 395.7,1425.6 397.1,1533.8 398.4,1465.2 399.7,1373.5 401.1,1461.1 402.4,1528.2 403.7,1422.6 405.0,1449.1 406.4,1501.0 407.7,1428.4 409.0,1462.6 410.3,1403.7 411.7,1416.6 413.0,1445.4 414.3,1545.1 415.6,1513.8 417.0,1464.8 418.3,1388.6 419.6,1524.6 420.9,1537.6 422.3,1414.9 423.6,1479.0 424.9,1447.4 426.2,1571.5 427.6,1438.9 428.9,1385.8 430.2,1397.8 431.5,1458.4 432.9,1547.0 434.2,1412.4 435.5,1453.3 436.8,1482.7 438.2,1424.9 439.5,1440.9 440.8,1394.3 442.1,1494.6 443.5,1403.7 444.8,1413.3 446.1,1498.1 447.5,1451.7 448.8,1405.8 450.1,1543.3 451.4,1390.5 452.8,1408.3 454.1,1429.1 455.4,1463.0 456.7,1417.2 458.1,1451.7 459.4,1488.4 460.7,1423.7 462.0,1434.7 463.4,1379.2 464.7,1396.6 466.0,1445.6 467.3,1413.9 468.7,1386.7 470.0,1431.9 471.3,1421.1 472.6,1505.5 474.0,1439.0 475.3,1406.8 476.6,1479.5 477.9,1444.6 479.3,1364.1 480.6,1656.4 481.9,1464.3 483.2,1388.7 484.6,1416.8 485.9,1490.1 487.2,1402.7 488.6,1367.9 489.9,1466.2 491.2,1398.0 492.5,1426.1 493.9,1403.7 495.2,1459.1 496.5,1396.2 497.8,1421.1 499.2,1509.3 500.5,1442.6 501.8,1412.7 503.1,1490.6 504.5,1430.1 505.8,1400.2 507.1,1445.2 508.4,1490.2 509.8,1513.1 511.1,1417.1 512.4,1451.9 513.7,1375.4 515.1,1415.0 516.4,1455.0 517.7,1396.4 519.0,1428.5 520.4,1405.5 521.7,1453.3 523.0,1422.5 524.3,1389.3 525.7,1377.3 527.0,1409.1 528.3,1388.9 529.6,1448.9 531.0,1413.6 532.3,1378.6 533.6,1422.7 535.0,1431.5 536.3,1360.3 537.6,1406.3 538.9,1467.5 540.3,1494.2 541.6,1402.2 542.9,1462.1 544.2,1372.5 545.6,1424.6 546.9,1400.0 548.2,1445.6 549.5,1369.8 550.9,1394.7 552.2,1665.8 553.5,1428.7 554.8,1392.3 556.2,1459.2 557.5,1415.2 558.8,1671.5 560.1,1432.4 561.5,1486.6 562.8,1411.9 564.1,1421.4 565.4,1498.0 566.8,1405.7 568.1,1431.3 569.4,1379.2 570.7,1377.3 572.1,1515.0 573.4,1399.5 574.7,1483.2 576.0,1432.8 577.4,1407.8 578.7,1491.6 580.0,1439.5 581.4,1332.0 582.7,1332.0 584.0,1421.2 585.3,1520.6 586.7,1417.1 588.0,1486.0 589.3,1389.0 590.6,1433.1 592.0,1522.5 593.3,1419.3 594.6,1403.7 595.9,1492.9 597.3,1665.8 598.6,1436.9 599.9,1421.4 601.2,1506.3 602.6,1456.6 603.9,1412.7 605.2,1390.5 606.5,1425.9 607.9,1420.5 609.2,1518.7 610.5,1432.3 611.8,1389.1 613.2,1435.7 614.5,1505.5 615.8,1400.7 617.1,1434.6 618.5,1462.1 619.8,1396.1 621.1,1430.1 622.5,1441.9 623.8,1389.0 625.1,1360.3 626.4,1397.0 627.8,1422.6 629.1,1413.9 630.4,1377.3 631.7,1424.4 633.1,1406.3 634.4,1381.1 635.7,1447.8 637.0,1488.6 638.4,1369.3 639.7,1303.7 641.0,1473.5 642.3,1356.6 643.7,1404.6 645.0,1460.3 646.3,1397.2 647.6,1437.1 649.0,1451.7 650.3,1402.5 651.6,1511.2 652.9,1382.7 654.3,1367.9 655.6,1415.9 656.9,1397.5 658.2,1477.2 659.6,1366.0 660.9,1397.2 662.2,1463.4 663.5,1505.5 664.9,1410.6 666.2,1443.9 667.5,1488.9 668.9,1391.0 670.2,1505.5 671.5,1465.5 672.8,1408.3 674.2,1422.7 675.5,1452.6 676.8,1397.9 678.1,1425.7 679.5,1381.1 680.8,1479.8 682.1,1505.5 683.4,1410.5 684.8,1470.4 686.1,1433.3 687.4,1397.5 688.7,1360.3 690.1,1439.7 691.4,1402.2 692.7,1492.3 694.0,1483.0 695.4,1386.5 696.7,1439.4 698.0,1456.8 699.3,1394.1 700.7,1426.9 702.0,1364.1 703.3,1405.3 704.6,1435.6 706.0,1501.8 707.3,1467.7 708.6,1416.7 709.9,1399.2 711.3,1499.5 712.6,1366.0 713.9,1383.1 715.3,1445.8 716.6,1411.1 717.9,1631.9 719.2,1421.8 720.6,1452.5 721.9,1407.0 723.2,1434.3 724.5,1366.0 725.9,1507.4 727.2,1428.0 728.5,1488.5 729.8,1395.0 731.2,1427.7 732.5,1494.2 733.8,1471.0 735.1,1416.3 736.5,1392.7 737.8,1451.7 739.1,1441.9 740.4,1409.3 741.8,1464.3 743.1,1420.4 744.4,1391.1 745.7,1422.6 747.1,1492.3 748.4,1397.3 749.7,1508.4 751.0,1485.0 752.4,1366.0 753.7,1433.4 755.0,1485.7 756.4,1509.3 757.7,1419.0 759.0,1386.9 760.3,1478.7 761.7,1442.2 763.0,1362.2 764.3,1464.0 765.6,1430.1 767.0,1413.1 768.3,1448.7 769.6,1418.6 770.9,1390.2 772.3,1448.6 773.6,1515.0 774.9,1409.8 776.2,1438.9 777.6,1477.3 778.9,1420.0 780.2,1513.1 781.5,1452.6 782.9,1404.8 784.2,1430.1 785.5,1411.2 786.8,1465.4 788.2,1440.3 789.5,1402.0 790.8,1507.4 792.1,1433.1 793.5,1399.2 794.8,1468.1 796.1,1422.8" stroke="#ff7f0e" stroke-width="2.2"/>
</g>
<rect x="101.5" y="1282.8" width="727.7" height="432.7" fill="none" stroke="#1a1a1a" stroke-width="2.1"/>
<line x1="134.6" y1="1715.5" x2="134.6" y2="1724.5" stroke="#1a1a1a" stroke-width="1.9"/>
<text font-family='"WenQuanYi Zen Hei","Liberation Sans",sans-serif' font-size="25.3" text-anchor="middle" x="156.49" y="1750.50" transform="scale(0.86,1)">0</text>
<line x1="267.2" y1="1715.5" x2="267.2" y2="1724.5" stroke="#1a1a1a" stroke-width="1.9"/>
<text font-family='"WenQuanYi Zen Hei","Liberation Sans",sans-serif' font-size="25.3" text-anchor="middle" x="295.43 310.64 325.85" y="1750.50" transform="scale(0.86,1)">100</text>
<line x1="399.7" y1="1715.5" x2="399.7" y2="1724.5" stroke="#1a1a1a" stroke-width="1.9"/>
<text font-family='"WenQuanYi Zen Hei","Liberation Sans",sans-serif' font-size="25.3" text-anchor="middle" x="449.59 464.80 480.01" y="1750.50" transform="scale(0.86,1)">200</text>
<line x1="532.3" y1="1715.5" x2="532.3" y2="1724.5" stroke="#1a1a1a" stroke-width="1.9"/>
<text font-family='"WenQuanYi Zen Hei","Liberation Sans",sans-serif' font-size="25.3" text-anchor="middle" x="603.74 618.95 634.16" y="1750.50" transform="scale(0.86,1)">300</text>
<line x1="664.9" y1="1715.5" x2="664.9" y2="1724.5" stroke="#1a1a1a" stroke-width="1.9"/>
<text font-family='"WenQuanYi Zen Hei","Liberation Sans",sans-serif' font-size="25.3" text-anchor="middle" x="757.90 773.11 788.32" y="1750.50" transform="scale(0.86,1)">400</text>
<line x1="797.4" y1="1715.5" x2="797.4" y2="1724.5" stroke="#1a1a1a" stroke-width="1.9"/>
<text font-family='"WenQuanYi Zen Hei","Liberation Sans",sans-serif' font-size="25.3" text-anchor="middle" x="912.06 927.27 942.47" y="1750.50" transform="scale(0.86,1)">500</text>
<line x1="92.5" y1="1695.6" x2="101.5" y2="1695.6" stroke="#1a1a1a" stroke-width="1.9"/>
<text font-family='"WenQuanYi Zen Hei","Liberation Sans",sans-serif' font-size="25.3" text-anchor="middle" x="43.51 58.72 73.93 89.14" y="1704.20" transform="scale(0.86,1)">1560</text>
<line x1="92.5" y1="1631.0" x2="101.5" y2="1631.0" stroke="#1a1a1a" stroke-width="1.9"/>
<text font-family='"WenQuanYi Zen Hei","Liberation Sans",sans-serif' font-size="25.3" text-anchor="middle" x="43.51 58.72 73.93 89.14" y="1639.65" transform="scale(0.86,1)">1580</text>
<line x1="92.5" y1="1566.5" x2="101.5" y2="1566.5" stroke="#1a1a1a" stroke-width="1.9"/>
<text font-family='"WenQuanYi Zen Hei","Liberation Sans",sans-serif' font-size="25.3" text-anchor="middle" x="43.51 58.72 73.93 89.14" y="1575.10" transform="scale(0.86,1)">1600</text>
<line x1="92.5" y1="1501.9" x2="101.5" y2="1501.9" stroke="#1a1a1a" stroke-width="1.9"/>
<text font-family='"WenQuanYi Zen Hei","Liberation Sans",sans-serif' font-size="25.3" text-anchor="middle" x="43.51 58.72 73.93 89.14" y="1510.55" transform="scale(0.86,1)">1620</text>
<line x1="92.5" y1="1437.4" x2="101.5" y2="1437.4" stroke="#1a1a1a" stroke-width="1.9"/>
<text font-family='"WenQuanYi Zen Hei","Liberation Sans",sans-serif' font-size="25.3" text-anchor="middle" x="43.51 58.72 73.93 89.14" y="1446.00" transform="scale(0.86,1)">1640</text>
<line x1="92.5" y1="1372.8" x2="101.5" y2="1372.8" stroke="#1a1a1a" stroke-width="1.9"/>
<text font-family='"WenQuanYi Zen Hei","Liberation Sans",sans-serif' font-size="25.3" text-anchor="middle" x="43.51 58.72 73.93 89.14" y="1381.45" transform="scale(0.86,1)">1660</text>
<line x1="92.5" y1="1308.3" x2="101.5" y2="1308.3" stroke="#1a1a1a" stroke-width="1.9"/>
<text font-family='"WenQuanYi Zen Hei","Liberation Sans",sans-serif' font-size="25.3" text-anchor="middle" x="43.51 58.72 73.93 89.14" y="1316.90" transform="scale(0.86,1)">1680</text>
<text font-family='"IPAGothic","Liberation Mono",monospace' font-size="31" text-anchor="middle" x="253.60 269.25 284.90 300.55 316.20 331.85 347.50 363.15 378.80 394.45" y="1269.50" stroke="#000" stroke-width="0.25">Prediction</text><text font-family='"IPAGothic","Liberation Mono",monospace' font-size="31" text-anchor="middle" x="425.75 441.40 457.05 472.70 488.35 504.00 519.65 535.30 550.95" y="1269.50" stroke="#000" stroke-width="0.25">accuracy:</text><text font-family='"WenQuanYi Zen Hei","Liberation Sans",sans-serif' font-size="31.3" text-anchor="middle" x="677.03 695.23 713.43 731.63 749.83 768.02" y="1269.50" transform="scale(0.86,1)">66.80%</text>
<text font-family='"IPAGothic","Liberation Mono",monospace' font-size="25.0" text-anchor="middle" x="413.03 426.11 439.19 452.27 465.35 478.43" y="1782.70" stroke="#000" stroke-width="0.15">Sample</text><text font-family='"IPAGothic","Liberation Mono",monospace' font-size="25.0" text-anchor="middle" x="504.59 517.67" y="1782.70" stroke="#000" stroke-width="0.15">No</text>
<g transform="translate(17.4,1504.8) rotate(-90)"><text font-family='"IPAGothic","Liberation Mono",monospace' font-size="25.3" text-anchor="middle" x="-65.40 -52.32 -39.24 -26.16 -13.08 0.00 13.08 26.16 39.24 52.32 65.40" y="0.00" stroke="#000" stroke-width="0.15">Temperature</text></g>
<rect x="114.6" y="1295.5" width="298.4" height="75.6" rx="6" ry="6" fill="#fff" fill-opacity="0.8" stroke="#cccccc" stroke-width="1.6"/>
<line x1="125.1" y1="1314.5" x2="177.1" y2="1314.5" stroke="#2f82bd" stroke-width="2.2" stroke-dasharray="2.2 3.7"/>
<line x1="123.6" y1="1348.8" x2="177.6" y2="1348.8" stroke="#ff7f0e" stroke-width="2.2"/>
<text font-family='"IPAGothic","Liberation Mono",monospace' font-size="25.3" text-anchor="middle" x="203.14 216.22 229.30 242.38" y="1323.80" stroke="#000" stroke-width="0.15">True</text><text font-family='"IPAGothic","Liberation Mono",monospace' font-size="25.3" text-anchor="middle" x="268.54 281.62 294.70 307.78 320.86" y="1323.80" stroke="#000" stroke-width="0.15">value</text>
<text font-family='"IPAGothic","Liberation Mono",monospace' font-size="25.3" text-anchor="middle" x="203.14 216.22 229.30 242.38 255.46 268.54 281.62 294.70 307.78 320.86" y="1357.60" stroke="#000" stroke-width="0.15">Predictive</text><text font-family='"IPAGothic","Liberation Mono",monospace' font-size="25.3" text-anchor="middle" x="347.02 360.10 373.18 386.26 399.34" y="1357.60" stroke="#000" stroke-width="0.15">value</text>
<text font-family='"Liberation Serif",serif' font-size="25" x="473.5" y="1811.9" text-anchor="middle">(e)</text>
<clipPath id="clipf"><rect x="978.5" y="1282.8" width="727.7" height="432.7"/></clipPath>
<g clip-path="url(#clipf)" fill="none" stroke-linejoin="round">
<polyline points="1011.6,1486.3 1012.9,1466.7 1014.2,1484.0 1015.6,1493.3 1016.9,1459.3 1018.2,1509.1 1019.5,1486.1 1020.9,1464.5 1022.2,1504.3 1023.5,1531.4 1024.8,1472.5 1026.2,1509.9 1027.5,1373.6 1028.8,1456.2 1030.1,1521.6 1031.5,1482.1 1032.8,1464.7 1034.1,1519.4 1035.4,1524.8 1036.8,1458.5 1038.1,1500.5 1039.4,1451.3 1040.7,1472.0 1042.1,1507.4 1043.4,1473.3 1044.7,1524.4 1046.0,1529.0 1047.4,1495.2 1048.7,1496.2 1050.0,1454.0 1051.3,1477.0 1052.7,1513.8 1054.0,1458.1 1055.3,1479.2 1056.7,1516.4 1058.0,1371.9 1059.3,1487.2 1060.6,1501.4 1062.0,1453.9 1063.3,1488.1 1064.6,1504.1 1065.9,1528.1 1067.3,1478.2 1068.6,1448.8 1069.9,1466.0 1071.2,1499.7 1072.6,1472.9 1073.9,1454.0 1075.2,1507.1 1076.5,1494.8 1077.9,1447.6 1079.2,1444.7 1080.5,1527.3 1081.8,1465.8 1083.2,1516.8 1084.5,1485.6 1085.8,1453.2 1087.1,1504.9 1088.5,1480.5 1089.8,1464.7 1091.1,1527.3 1092.4,1490.8 1093.8,1463.1 1095.1,1516.2 1096.4,1495.0 1097.8,1501.5 1099.1,1524.8 1100.4,1473.9 1101.7,1492.2 1103.1,1446.1 1104.4,1454.8 1105.7,1508.5 1107.0,1412.6 1108.4,1384.2 1109.7,1487.4 1111.0,1420.4 1112.3,1439.2 1113.7,1510.7 1115.0,1518.3 1116.3,1394.1 1117.6,1471.6 1119.0,1425.9 1120.3,1450.7 1121.6,1484.1 1122.9,1503.6 1124.3,1500.9 1125.6,1443.8 1126.9,1402.1 1128.2,1401.4 1129.6,1453.3 1130.9,1433.1 1132.2,1492.2 1133.5,1525.7 1134.9,1419.6 1136.2,1484.9 1137.5,1453.2 1138.8,1427.6 1140.2,1509.5 1141.5,1443.8 1142.8,1422.1 1144.2,1478.7 1145.5,1465.6 1146.8,1370.3 1148.1,1507.9 1149.5,1450.2 1150.8,1487.1 1152.1,1524.0 1153.4,1431.5 1154.8,1470.5 1156.1,1398.5 1157.4,1452.0 1158.7,1518.0 1160.1,1518.3 1161.4,1441.1 1162.7,1468.6 1164.0,1403.0 1165.4,1462.8 1166.7,1522.4 1168.0,1418.4 1169.3,1454.4 1170.7,1507.4 1172.0,1401.4 1173.3,1435.5 1174.6,1495.1 1176.0,1497.1 1177.3,1472.9 1178.6,1453.4 1179.9,1398.1 1181.3,1471.9 1182.6,1457.2 1183.9,1415.2 1185.2,1483.6 1186.6,1437.0 1187.9,1416.6 1189.2,1391.6 1190.6,1427.4 1191.9,1392.8 1193.2,1391.6 1194.5,1441.9 1195.9,1419.0 1197.2,1488.1 1198.5,1423.4 1199.8,1412.6 1201.2,1453.5 1202.5,1431.7 1203.8,1480.0 1205.1,1408.8 1206.5,1483.2 1207.8,1398.1 1209.1,1410.5 1210.4,1430.4 1211.8,1462.5 1213.1,1423.5 1214.4,1440.6 1215.7,1514.8 1217.1,1397.5 1218.4,1384.2 1219.7,1518.3 1221.0,1415.1 1222.4,1453.3 1223.7,1486.6 1225.0,1417.7 1226.3,1438.7 1227.7,1490.5 1229.0,1490.5 1230.3,1468.2 1231.7,1385.9 1233.0,1406.4 1234.3,1494.9 1235.6,1436.3 1237.0,1404.3 1238.3,1492.7 1239.6,1408.7 1240.9,1413.0 1242.3,1478.1 1243.6,1459.3 1244.9,1432.3 1246.2,1490.0 1247.6,1445.8 1248.9,1433.5 1250.2,1385.9 1251.5,1390.8 1252.9,1410.8 1254.2,1487.3 1255.5,1456.5 1256.8,1468.1 1258.2,1425.9 1259.5,1441.8 1260.8,1493.9 1262.1,1388.3 1263.5,1452.3 1264.8,1470.5 1266.1,1420.6 1267.4,1517.5 1268.8,1509.6 1270.1,1397.6 1271.4,1467.0 1272.7,1465.5 1274.1,1418.9 1275.4,1393.2 1276.7,1470.3 1278.1,1402.9 1279.4,1519.9 1280.7,1467.3 1282.0,1422.7 1283.4,1468.3 1284.7,1404.7 1286.0,1408.0 1287.3,1457.6 1288.7,1445.3 1290.0,1398.1 1291.3,1472.8 1292.6,1428.7 1294.0,1416.7 1295.3,1454.3 1296.6,1448.8 1297.9,1390.2 1299.3,1468.1 1300.6,1440.4 1301.9,1404.2 1303.2,1473.1 1304.6,1419.1 1305.9,1371.2 1307.2,1456.7 1308.5,1498.7 1309.9,1478.8 1311.2,1404.1 1312.5,1420.3 1313.8,1386.7 1315.2,1396.6 1316.5,1484.0 1317.8,1477.6 1319.1,1428.4 1320.5,1463.5 1321.8,1499.6 1323.1,1524.0 1324.5,1453.0 1325.8,1478.0 1327.1,1408.9 1328.4,1455.6 1329.8,1498.1 1331.1,1420.3 1332.4,1437.2 1333.7,1522.4 1335.1,1391.3 1336.4,1487.0 1337.7,1373.6 1339.0,1385.3 1340.4,1516.7 1341.7,1434.9 1343.0,1398.3 1344.3,1466.2 1345.7,1431.3 1347.0,1417.3 1348.3,1522.0 1349.6,1460.1 1351.0,1523.2 1352.3,1480.5 1353.6,1452.2 1354.9,1418.9 1356.3,1364.6 1357.6,1502.8 1358.9,1371.2 1360.2,1468.6 1361.6,1451.1 1362.9,1495.4 1364.2,1409.9 1365.6,1447.5 1366.9,1472.8 1368.2,1396.2 1369.5,1426.7 1370.9,1478.6 1372.2,1395.6 1373.5,1418.4 1374.8,1470.4 1376.2,1373.6 1377.5,1430.7 1378.8,1480.1 1380.1,1490.5 1381.5,1373.6 1382.8,1459.3 1384.1,1408.9 1385.4,1433.0 1386.8,1444.6 1388.1,1392.2 1389.4,1441.4 1390.7,1377.7 1392.1,1408.7 1393.4,1472.5 1394.7,1423.5 1396.0,1394.1 1397.4,1449.8 1398.7,1417.5 1400.0,1407.9 1401.3,1459.7 1402.7,1430.6 1404.0,1407.8 1405.3,1442.1 1406.6,1427.2 1408.0,1395.3 1409.3,1452.3 1410.6,1426.1 1412.0,1406.7 1413.3,1371.2 1414.6,1412.8 1415.9,1469.2 1417.3,1387.5 1418.6,1524.8 1419.9,1476.7 1421.2,1401.9 1422.6,1420.0 1423.9,1491.1 1425.2,1381.8 1426.5,1446.1 1427.9,1474.0 1429.2,1497.1 1430.5,1440.4 1431.8,1457.6 1433.2,1401.9 1434.5,1435.7 1435.8,1527.3 1437.1,1399.4 1438.5,1433.4 1439.8,1483.2 1441.1,1505.2 1442.4,1515.0 1443.8,1456.5 1445.1,1433.4 1446.4,1476.5 1447.7,1462.2 1449.1,1421.4 1450.4,1478.0 1451.7,1528.1 1453.0,1395.8 1454.4,1394.1 1455.7,1436.0 1457.0,1396.8 1458.4,1498.4 1459.7,1523.2 1461.0,1397.5 1462.3,1363.8 1463.7,1424.9 1465.0,1403.6 1466.3,1506.6 1467.6,1444.8 1469.0,1522.5 1470.3,1380.5 1471.6,1424.9 1472.9,1480.0 1474.3,1531.4 1475.6,1441.4 1476.9,1491.5 1478.2,1396.6 1479.6,1446.8 1480.9,1467.9 1482.2,1371.2 1483.5,1451.6 1484.9,1490.7 1486.2,1374.2 1487.5,1451.0 1488.8,1506.8 1490.2,1505.2 1491.5,1417.2 1492.8,1472.1 1494.1,1392.4 1495.5,1371.2 1496.8,1448.7 1498.1,1415.5 1499.5,1475.7 1500.8,1438.6 1502.1,1421.5 1503.4,1477.5 1504.8,1459.0 1506.1,1379.6 1507.4,1518.3 1508.7,1422.8 1510.1,1385.4 1511.4,1461.5 1512.7,1405.0 1514.0,1386.1 1515.4,1440.4 1516.7,1364.6 1518.0,1398.3 1519.3,1486.1 1520.7,1407.2 1522.0,1475.6 1523.3,1367.1 1524.6,1427.4 1526.0,1480.7 1527.3,1395.4 1528.6,1500.3 1529.9,1468.8 1531.3,1367.1 1532.6,1447.8 1533.9,1450.7 1535.2,1376.5 1536.6,1452.2 1537.9,1496.0 1539.2,1412.6 1540.5,1436.8 1541.9,1506.3 1543.2,1403.7 1544.5,1434.1 1545.9,1381.8 1547.2,1503.6 1548.5,1472.1 1549.8,1428.6 1551.2,1414.6 1552.5,1504.6 1553.8,1429.1 1555.1,1408.8 1556.5,1525.7 1557.8,1450.7 1559.1,1391.0 1560.4,1461.0 1561.8,1428.3 1563.1,1376.0 1564.4,1442.8 1565.7,1371.2 1567.1,1449.6 1568.4,1441.0 1569.7,1406.4 1571.0,1383.8 1572.4,1455.3 1573.7,1421.3 1575.0,1440.1 1576.3,1378.2 1577.7,1406.4 1579.0,1453.3 1580.3,1405.1 1581.6,1423.3 1583.0,1440.2 1584.3,1385.1 1585.6,1439.2 1586.9,1457.2 1588.3,1409.1 1589.6,1524.0 1590.9,1505.5 1592.3,1386.2 1593.6,1367.9 1594.9,1527.3 1596.2,1398.4 1597.6,1423.8 1598.9,1482.4 1600.2,1381.8 1601.5,1516.1 1602.9,1503.6 1604.2,1395.7 1605.5,1462.8 1606.8,1360.1 1608.2,1364.7 1609.5,1480.8 1610.8,1420.3 1612.1,1360.5 1613.5,1450.6 1614.8,1418.8 1616.1,1395.1 1617.4,1450.1 1618.8,1401.4 1620.1,1386.7 1621.4,1422.7 1622.7,1404.6 1624.1,1375.5 1625.4,1440.1 1626.7,1425.8 1628.0,1471.2 1629.4,1370.0 1630.7,1364.6 1632.0,1456.9 1633.4,1498.7 1634.7,1422.1 1636.0,1486.6 1637.3,1368.7 1638.7,1421.3 1640.0,1435.4 1641.3,1369.5 1642.6,1427.9 1644.0,1452.5 1645.3,1371.2 1646.6,1397.4 1647.9,1437.8 1649.3,1385.9 1650.6,1412.4 1651.9,1374.4 1653.2,1396.8 1654.6,1439.9 1655.9,1407.0 1657.2,1386.4 1658.5,1440.2 1659.9,1432.2 1661.2,1380.1 1662.5,1460.3 1663.8,1475.8 1665.2,1391.0 1666.5,1458.7 1667.8,1412.4 1669.1,1402.5 1670.5,1428.0 1671.8,1451.3 1673.1,1397.4" stroke="#2f82bd" stroke-width="2.0" stroke-dasharray="2.0 3.85"/>
<polyline points="1011.6,1469.5 1012.9,1554.6 1014.2,1490.3 1015.6,1479.0 1016.9,1515.4 1018.2,1505.3 1019.5,1550.8 1020.9,1509.5 1022.2,1535.2 1023.5,1556.5 1024.8,1514.2 1026.2,1524.8 1027.5,1437.7 1028.8,1514.8 1030.1,1526.3 1031.5,1507.6 1032.8,1513.0 1034.1,1503.2 1035.4,1526.8 1036.8,1508.1 1038.1,1496.3 1039.4,1537.6 1040.7,1498.0 1042.1,1498.3 1043.4,1519.6 1044.7,1501.2 1046.0,1490.4 1047.4,1500.9 1048.7,1529.5 1050.0,1467.8 1051.3,1545.1 1052.7,1447.1 1054.0,1477.7 1055.3,1491.0 1056.7,1511.1 1058.0,1463.8 1059.3,1545.1 1060.6,1474.7 1062.0,1506.9 1063.3,1483.9 1064.6,1535.7 1065.9,1511.7 1067.3,1492.3 1068.6,1478.3 1069.9,1508.1 1071.2,1501.2 1072.6,1482.4 1073.9,1541.4 1075.2,1516.6 1076.5,1416.9 1077.9,1492.6 1079.2,1519.5 1080.5,1483.6 1081.8,1479.1 1083.2,1511.0 1084.5,1476.2 1085.8,1427.3 1087.1,1469.6 1088.5,1506.4 1089.8,1575.3 1091.1,1466.5 1092.4,1447.1 1093.8,1477.7 1095.1,1465.8 1096.4,1531.9 1097.8,1485.3 1099.1,1463.5 1100.4,1470.2 1101.7,1491.3 1103.1,1452.1 1104.4,1467.2 1105.7,1476.1 1107.0,1428.6 1108.4,1413.1 1109.7,1492.9 1111.0,1424.3 1112.3,1441.6 1113.7,1537.6 1115.0,1498.4 1116.3,1446.9 1117.6,1420.7 1119.0,1485.5 1120.3,1435.3 1121.6,1422.0 1122.9,1513.1 1124.3,1450.5 1125.6,1415.7 1126.9,1442.9 1128.2,1501.3 1129.6,1403.7 1130.9,1463.6 1132.2,1489.6 1133.5,1545.1 1134.9,1470.1 1136.2,1523.5 1137.5,1418.8 1138.8,1547.0 1140.2,1407.5 1141.5,1501.7 1142.8,1445.2 1144.2,1413.7 1145.5,1482.0 1146.8,1450.5 1148.1,1399.9 1149.5,1496.2 1150.8,1446.0 1152.1,1428.5 1153.4,1547.0 1154.8,1524.6 1156.1,1437.9 1157.4,1461.9 1158.7,1494.8 1160.1,1416.0 1161.4,1458.6 1162.7,1411.3 1164.0,1428.6 1165.4,1465.6 1166.7,1560.2 1168.0,1500.1 1169.3,1451.0 1170.7,1424.1 1172.0,1398.0 1173.3,1441.3 1174.6,1412.6 1176.0,1501.8 1177.3,1457.8 1178.6,1431.8 1179.9,1396.2 1181.3,1483.5 1182.6,1414.5 1183.9,1442.2 1185.2,1501.6 1186.6,1430.5 1187.9,1516.8 1189.2,1491.9 1190.6,1427.0 1191.9,1411.3 1193.2,1430.1 1194.5,1499.5 1195.9,1518.7 1197.2,1424.3 1198.5,1463.8 1199.8,1462.4 1201.2,1418.1 1202.5,1476.1 1203.8,1450.8 1205.1,1501.8 1206.5,1433.8 1207.8,1492.7 1209.1,1414.8 1210.4,1429.0 1211.8,1373.5 1213.1,1418.9 1214.4,1429.0 1215.7,1474.0 1217.1,1400.1 1218.4,1531.9 1219.7,1393.5 1221.0,1450.9 1222.4,1445.1 1223.7,1401.1 1225.0,1398.0 1226.3,1435.2 1227.7,1419.6 1229.0,1526.3 1230.3,1433.0 1231.7,1418.3 1233.0,1403.7 1234.3,1505.9 1235.6,1431.3 1237.0,1464.5 1238.3,1491.8 1239.6,1396.2 1240.9,1684.7 1242.3,1516.6 1243.6,1411.3 1244.9,1462.3 1246.2,1562.1 1247.6,1483.6 1248.9,1469.3 1250.2,1428.6 1251.5,1418.8 1252.9,1457.3 1254.2,1431.5 1255.5,1482.5 1256.8,1526.3 1258.2,1445.2 1259.5,1464.9 1260.8,1490.6 1262.1,1437.0 1263.5,1449.0 1264.8,1498.4 1266.1,1418.3 1267.4,1453.0 1268.8,1405.6 1270.1,1410.9 1271.4,1541.4 1272.7,1435.4 1274.1,1522.3 1275.4,1460.6 1276.7,1373.5 1278.1,1515.5 1279.4,1533.8 1280.7,1428.7 1282.0,1518.7 1283.4,1467.8 1284.7,1420.4 1286.0,1463.1 1287.3,1505.8 1288.7,1407.5 1290.0,1466.0 1291.3,1479.3 1292.6,1406.9 1294.0,1433.5 1295.3,1382.9 1296.6,1423.1 1297.9,1528.1 1299.3,1398.7 1300.6,1462.1 1301.9,1460.2 1303.2,1564.0 1304.6,1513.5 1305.9,1438.2 1307.2,1411.0 1308.5,1388.6 1309.9,1531.9 1311.2,1394.3 1312.5,1436.2 1313.8,1515.1 1315.2,1430.3 1316.5,1438.2 1317.8,1407.5 1319.1,1413.3 1320.5,1454.2 1321.8,1488.4 1323.1,1516.8 1324.5,1465.8 1325.8,1418.0 1327.1,1487.5 1328.4,1531.9 1329.8,1426.5 1331.1,1382.9 1332.4,1426.9 1333.7,1411.1 1335.1,1465.5 1336.4,1446.4 1337.7,1401.4 1339.0,1427.0 1340.4,1392.4 1341.7,1395.1 1343.0,1441.1 1344.3,1498.9 1345.7,1394.3 1347.0,1439.7 1348.3,1499.0 1349.6,1513.1 1351.0,1433.5 1352.3,1406.2 1353.6,1481.6 1354.9,1375.4 1356.3,1411.1 1357.6,1614.9 1358.9,1424.0 1360.2,1410.7 1361.6,1465.3 1362.9,1424.9 1364.2,1381.1 1365.6,1444.7 1366.9,1469.6 1368.2,1494.2 1369.5,1450.1 1370.9,1461.3 1372.2,1422.4 1373.5,1434.8 1374.8,1497.7 1376.2,1346.2 1377.5,1513.1 1378.8,1414.8 1380.1,1476.5 1381.5,1438.3 1382.8,1407.8 1384.1,1464.6 1385.4,1432.8 1386.8,1421.6 1388.1,1518.7 1389.4,1447.5 1390.7,1358.4 1392.1,1435.8 1393.4,1467.8 1394.7,1400.6 1396.0,1464.1 1397.4,1467.6 1398.7,1409.1 1400.0,1422.0 1401.3,1452.8 1402.7,1367.9 1404.0,1423.5 1405.3,1411.0 1406.6,1447.9 1408.0,1421.1 1409.3,1405.5 1410.6,1440.8 1412.0,1431.8 1413.3,1409.0 1414.6,1354.7 1415.9,1490.5 1417.3,1418.5 1418.6,1381.1 1419.9,1446.6 1421.2,1406.3 1422.6,1440.1 1423.9,1480.1 1425.2,1382.9 1426.5,1449.6 1427.9,1474.8 1429.2,1692.2 1430.5,1434.4 1431.8,1426.1 1433.2,1467.1 1434.5,1436.1 1435.8,1696.0 1437.1,1486.1 1438.5,1441.8 1439.8,1412.0 1441.1,1349.0 1442.4,1505.6 1443.8,1409.6 1445.1,1439.3 1446.4,1497.8 1447.7,1392.4 1449.1,1392.4 1450.4,1526.3 1451.7,1528.1 1453.0,1436.7 1454.4,1481.6 1455.7,1410.8 1457.0,1501.8 1458.4,1415.9 1459.7,1362.2 1461.0,1435.9 1462.3,1394.3 1463.7,1479.4 1465.0,1445.4 1466.3,1416.4 1467.6,1501.9 1469.0,1545.1 1470.3,1410.5 1471.6,1454.4 1472.9,1433.9 1474.3,1631.9 1475.6,1457.9 1476.9,1513.0 1478.2,1430.6 1479.6,1448.0 1480.9,1474.6 1482.2,1392.4 1483.5,1467.8 1484.9,1416.9 1486.2,1518.7 1487.5,1440.2 1488.8,1428.4 1490.2,1483.3 1491.5,1445.8 1492.8,1422.6 1494.1,1446.4 1495.5,1429.4 1496.8,1403.8 1498.1,1449.0 1499.5,1375.4 1500.8,1402.3 1502.1,1407.7 1503.4,1429.7 1504.8,1392.9 1506.1,1411.8 1507.4,1518.7 1508.7,1408.3 1510.1,1434.3 1511.4,1401.6 1512.7,1454.4 1514.0,1444.4 1515.4,1494.2 1516.7,1302.8 1518.0,1449.3 1519.3,1430.1 1520.7,1490.9 1522.0,1436.6 1523.3,1423.2 1524.6,1447.3 1526.0,1472.5 1527.3,1415.9 1528.6,1456.6 1529.9,1530.1 1531.3,1381.1 1532.6,1461.5 1533.9,1498.5 1535.2,1425.1 1536.6,1364.1 1537.9,1411.8 1539.2,1469.9 1540.5,1430.3 1541.9,1503.6 1543.2,1472.9 1544.5,1431.5 1545.9,1411.6 1547.2,1515.0 1548.5,1456.3 1549.8,1390.5 1551.2,1446.7 1552.5,1501.8 1553.8,1397.8 1555.1,1440.7 1556.5,1495.4 1557.8,1414.3 1559.1,1435.7 1560.4,1550.8 1561.8,1402.8 1563.1,1427.9 1564.4,1409.7 1565.7,1354.7 1567.1,1444.4 1568.4,1418.5 1569.7,1520.6 1571.0,1437.8 1572.4,1409.5 1573.7,1462.1 1575.0,1392.4 1576.3,1420.4 1577.7,1434.3 1579.0,1478.6 1580.3,1406.0 1581.6,1441.8 1583.0,1518.7 1584.3,1397.4 1585.6,1426.4 1586.9,1490.5 1588.3,1413.2 1589.6,1439.7 1590.9,1408.7 1592.3,1415.0 1593.6,1456.8 1594.9,1631.9 1596.2,1487.5 1597.6,1449.3 1598.9,1381.1 1600.2,1466.0 1601.5,1430.9 1602.9,1505.6 1604.2,1430.0 1605.5,1470.8 1606.8,1425.9 1608.2,1448.5 1609.5,1490.5 1610.8,1413.5 1612.1,1439.6 1613.5,1471.9 1614.8,1401.1 1616.1,1441.2 1617.4,1402.0 1618.8,1462.0 1620.1,1384.8 1621.4,1414.2 1622.7,1487.9 1624.1,1447.6 1625.4,1509.3 1626.7,1498.6 1628.0,1437.8 1629.4,1403.7 1630.7,1366.0 1632.0,1502.7 1633.4,1543.2 1634.7,1449.6 1636.0,1456.3 1637.3,1415.7 1638.7,1435.6 1640.0,1366.0 1641.3,1427.1 1642.6,1437.8 1644.0,1416.0 1645.3,1539.5 1646.6,1451.9 1647.9,1425.8 1649.3,1483.2 1650.6,1547.0 1651.9,1432.0 1653.2,1504.1 1654.6,1399.9 1655.9,1417.9 1657.2,1545.1 1658.5,1467.7 1659.9,1422.4 1661.2,1460.5 1662.5,1479.1 1663.8,1419.8 1665.2,1433.4 1666.5,1480.3 1667.8,1503.6 1669.1,1362.2 1670.5,1410.3 1671.8,1460.7 1673.1,1431.1" stroke="#ff7f0e" stroke-width="2.2"/>
</g>
<rect x="978.5" y="1282.8" width="727.7" height="432.7" fill="none" stroke="#1a1a1a" stroke-width="2.1"/>
<line x1="1011.6" y1="1715.5" x2="1011.6" y2="1724.5" stroke="#1a1a1a" stroke-width="1.9"/>
<text font-family='"WenQuanYi Zen Hei","Liberation Sans",sans-serif' font-size="25.3" text-anchor="middle" x="1176.25" y="1750.50" transform="scale(0.86,1)">0</text>
<line x1="1144.2" y1="1715.5" x2="1144.2" y2="1724.5" stroke="#1a1a1a" stroke-width="1.9"/>
<text font-family='"WenQuanYi Zen Hei","Liberation Sans",sans-serif' font-size="25.3" text-anchor="middle" x="1315.20 1330.41 1345.62" y="1750.50" transform="scale(0.86,1)">100</text>
<line x1="1276.7" y1="1715.5" x2="1276.7" y2="1724.5" stroke="#1a1a1a" stroke-width="1.9"/>
<text font-family='"WenQuanYi Zen Hei","Liberation Sans",sans-serif' font-size="25.3" text-anchor="middle" x="1469.36 1484.56 1499.77" y="1750.50" transform="scale(0.86,1)">200</text>
<line x1="1409.3" y1="1715.5" x2="1409.3" y2="1724.5" stroke="#1a1a1a" stroke-width="1.9"/>
<text font-family='"WenQuanYi Zen Hei","Liberation Sans",sans-serif' font-size="25.3" text-anchor="middle" x="1623.51 1638.72 1653.93" y="1750.50" transform="scale(0.86,1)">300</text>
<line x1="1541.9" y1="1715.5" x2="1541.9" y2="1724.5" stroke="#1a1a1a" stroke-width="1.9"/>
<text font-family='"WenQuanYi Zen Hei","Liberation Sans",sans-serif' font-size="25.3" text-anchor="middle" x="1777.67 1792.88 1808.09" y="1750.50" transform="scale(0.86,1)">400</text>
<line x1="1674.4" y1="1715.5" x2="1674.4" y2="1724.5" stroke="#1a1a1a" stroke-width="1.9"/>
<text font-family='"WenQuanYi Zen Hei","Liberation Sans",sans-serif' font-size="25.3" text-anchor="middle" x="1931.82 1947.03 1962.24" y="1750.50" transform="scale(0.86,1)">500</text>
<line x1="969.5" y1="1707.4" x2="978.5" y2="1707.4" stroke="#1a1a1a" stroke-width="1.9"/>
<text font-family='"WenQuanYi Zen Hei","Liberation Sans",sans-serif' font-size="25.3" text-anchor="middle" x="1063.28 1078.49 1093.70 1108.91" y="1716.00" transform="scale(0.86,1)">1560</text>
<line x1="969.5" y1="1640.6" x2="978.5" y2="1640.6" stroke="#1a1a1a" stroke-width="1.9"/>
<text font-family='"WenQuanYi Zen Hei","Liberation Sans",sans-serif' font-size="25.3" text-anchor="middle" x="1063.28 1078.49 1093.70 1108.91" y="1649.24" transform="scale(0.86,1)">1580</text>
<line x1="969.5" y1="1573.9" x2="978.5" y2="1573.9" stroke="#1a1a1a" stroke-width="1.9"/>
<text font-family='"WenQuanYi Zen Hei","Liberation Sans",sans-serif' font-size="25.3" text-anchor="middle" x="1063.28 1078.49 1093.70 1108.91" y="1582.48" transform="scale(0.86,1)">1600</text>
<line x1="969.5" y1="1507.1" x2="978.5" y2="1507.1" stroke="#1a1a1a" stroke-width="1.9"/>
<text font-family='"WenQuanYi Zen Hei","Liberation Sans",sans-serif' font-size="25.3" text-anchor="middle" x="1063.28 1078.49 1093.70 1108.91" y="1515.72" transform="scale(0.86,1)">1620</text>
<line x1="969.5" y1="1440.4" x2="978.5" y2="1440.4" stroke="#1a1a1a" stroke-width="1.9"/>
<text font-family='"WenQuanYi Zen Hei","Liberation Sans",sans-serif' font-size="25.3" text-anchor="middle" x="1063.28 1078.49 1093.70 1108.91" y="1448.96" transform="scale(0.86,1)">1640</text>
<line x1="969.5" y1="1373.6" x2="978.5" y2="1373.6" stroke="#1a1a1a" stroke-width="1.9"/>
<text font-family='"WenQuanYi Zen Hei","Liberation Sans",sans-serif' font-size="25.3" text-anchor="middle" x="1063.28 1078.49 1093.70 1108.91" y="1382.20" transform="scale(0.86,1)">1660</text>
<line x1="969.5" y1="1306.8" x2="978.5" y2="1306.8" stroke="#1a1a1a" stroke-width="1.9"/>
<text font-family='"WenQuanYi Zen Hei","Liberation Sans",sans-serif' font-size="25.3" text-anchor="middle" x="1063.28 1078.49 1093.70 1108.91" y="1315.44" transform="scale(0.86,1)">1680</text>
<text font-family='"IPAGothic","Liberation Mono",monospace' font-size="31" text-anchor="middle" x="1130.60 1146.25 1161.90 1177.55 1193.20 1208.85 1224.50 1240.15 1255.80 1271.45" y="1269.50" stroke="#000" stroke-width="0.25">Prediction</text><text font-family='"IPAGothic","Liberation Mono",monospace' font-size="31" text-anchor="middle" x="1302.75 1318.40 1334.05 1349.70 1365.35 1381.00 1396.65 1412.30 1427.95" y="1269.50" stroke="#000" stroke-width="0.25">accuracy:</text><text font-family='"WenQuanYi Zen Hei","Liberation Sans",sans-serif' font-size="31.3" text-anchor="middle" x="1696.80 1715.00 1733.20 1751.40 1769.59 1787.79" y="1269.50" transform="scale(0.86,1)">59.80%</text>
<text font-family='"IPAGothic","Liberation Mono",monospace' font-size="25.0" text-anchor="middle" x="1290.03 1303.11 1316.19 1329.27 1342.35 1355.43" y="1782.70" stroke="#000" stroke-width="0.15">Sample</text><text font-family='"IPAGothic","Liberation Mono",monospace' font-size="25.0" text-anchor="middle" x="1381.59 1394.67" y="1782.70" stroke="#000" stroke-width="0.15">No</text>
<g transform="translate(893.9,1505.9) rotate(-90)"><text font-family='"IPAGothic","Liberation Mono",monospace' font-size="25.3" text-anchor="middle" x="-65.40 -52.32 -39.24 -26.16 -13.08 0.00 13.08 26.16 39.24 52.32 65.40" y="0.00" stroke="#000" stroke-width="0.15">Temperature</text></g>
<rect x="991.6" y="1295.5" width="298.4" height="75.6" rx="6" ry="6" fill="#fff" fill-opacity="0.8" stroke="#cccccc" stroke-width="1.6"/>
<line x1="1002.1" y1="1314.5" x2="1054.1" y2="1314.5" stroke="#2f82bd" stroke-width="2.2" stroke-dasharray="2.2 3.7"/>
<line x1="1000.6" y1="1348.8" x2="1054.6" y2="1348.8" stroke="#ff7f0e" stroke-width="2.2"/>
<text font-family='"IPAGothic","Liberation Mono",monospace' font-size="25.3" text-anchor="middle" x="1080.14 1093.22 1106.30 1119.38" y="1323.80" stroke="#000" stroke-width="0.15">True</text><text font-family='"IPAGothic","Liberation Mono",monospace' font-size="25.3" text-anchor="middle" x="1145.54 1158.62 1171.70 1184.78 1197.86" y="1323.80" stroke="#000" stroke-width="0.15">value</text>
<text font-family='"IPAGothic","Liberation Mono",monospace' font-size="25.3" text-anchor="middle" x="1080.14 1093.22 1106.30 1119.38 1132.46 1145.54 1158.62 1171.70 1184.78 1197.86" y="1357.60" stroke="#000" stroke-width="0.15">Predictive</text><text font-family='"IPAGothic","Liberation Mono",monospace' font-size="25.3" text-anchor="middle" x="1224.02 1237.10 1250.18 1263.26 1276.34" y="1357.60" stroke="#000" stroke-width="0.15">value</text>
<text font-family='"Liberation Serif",serif' font-size="25" x="1347.8" y="1809.6" text-anchor="middle">(f)</text>
<clipPath id="clipg"><rect x="101.5" y="1915.8" width="727.7" height="433.4"/></clipPath>
<g clip-path="url(#clipg)" fill="none" stroke-linejoin="round">
<polyline points="134.6,2226.9 135.9,2181.7 137.2,2221.5 138.6,2243.1 139.9,2164.6 141.2,2279.4 142.5,2226.3 143.9,2176.6 145.2,2268.4 146.5,2330.9 147.8,2195.1 149.2,2281.2 150.5,1966.9 151.8,2157.4 153.1,2308.2 154.5,2217.1 155.8,2177.0 157.1,2303.2 158.4,2315.8 159.8,2162.8 161.1,2259.6 162.4,2146.1 163.7,2193.9 165.1,2275.4 166.4,2197.0 167.7,2314.8 169.0,2325.3 170.4,2247.4 171.7,2249.8 173.0,2152.5 174.3,2205.4 175.7,2290.2 177.0,2161.8 178.3,2210.5 179.7,2296.4 181.0,1963.1 182.3,2229.0 183.6,2261.7 185.0,2152.2 186.3,2230.9 187.6,2267.9 188.9,2323.3 190.3,2208.1 191.6,2140.5 192.9,2180.0 194.2,2257.7 195.6,2195.9 196.9,2152.4 198.2,2274.7 199.5,2246.5 200.9,2137.7 202.2,2131.0 203.5,2321.5 204.8,2179.7 206.2,2297.2 207.5,2225.3 208.8,2150.5 210.1,2269.7 211.5,2213.6 212.8,2177.1 214.1,2321.5 215.4,2237.2 216.8,2173.3 218.1,2295.8 219.4,2246.9 220.8,2261.9 222.1,2315.8 223.4,2198.3 224.7,2240.5 226.1,2134.1 227.4,2154.2 228.7,2278.1 230.0,2056.8 231.4,1991.5 232.7,2229.5 234.0,2074.9 235.3,2118.3 236.7,2283.1 238.0,2300.7 239.3,2014.1 240.6,2193.0 242.0,2087.6 243.3,2144.7 244.6,2221.8 245.9,2266.7 247.3,2260.5 248.6,2128.9 249.9,2032.6 251.2,2031.0 252.6,2150.7 253.9,2104.1 255.2,2240.4 256.5,2317.7 257.9,2073.1 259.2,2223.6 260.5,2150.6 261.8,2091.5 263.2,2280.4 264.5,2128.8 265.8,2078.9 267.2,2209.3 268.5,2179.2 269.8,1959.4 271.1,2276.7 272.5,2143.5 273.8,2228.7 275.1,2313.9 276.4,2100.4 277.8,2190.4 279.1,2024.3 280.4,2147.8 281.7,2300.1 283.1,2300.7 284.4,2122.6 285.7,2186.0 287.0,2034.7 288.4,2172.7 289.7,2310.2 291.0,2070.2 292.3,2153.2 293.7,2275.4 295.0,2031.0 296.3,2109.7 297.6,2247.3 299.0,2251.7 300.3,2195.9 301.6,2151.0 302.9,2023.5 304.3,2193.7 305.6,2159.8 306.9,2062.8 308.2,2220.7 309.6,2113.1 310.9,2066.1 312.2,2008.4 313.6,2091.1 314.9,2011.2 316.2,2008.4 317.5,2124.4 318.9,2071.6 320.2,2230.9 321.5,2081.9 322.8,2056.8 324.2,2151.2 325.5,2100.9 326.8,2212.4 328.1,2048.1 329.5,2219.6 330.8,2023.5 332.1,2052.1 333.4,2097.9 334.8,2172.0 336.1,2082.0 337.4,2121.4 338.7,2292.6 340.1,2022.1 341.4,1991.5 342.7,2300.7 344.0,2062.5 345.4,2150.9 346.7,2227.5 348.0,2068.7 349.3,2117.1 350.7,2236.6 352.0,2236.6 353.3,2185.2 354.7,1995.2 356.0,2042.7 357.3,2246.6 358.6,2111.4 360.0,2037.7 361.3,2241.6 362.6,2048.0 363.9,2057.7 365.3,2208.0 366.6,2164.6 367.9,2102.4 369.2,2235.4 370.6,2133.5 371.9,2105.1 373.2,1995.2 374.5,2006.6 375.9,2052.6 377.2,2229.2 378.5,2158.2 379.8,2184.8 381.2,2087.6 382.5,2124.2 383.8,2244.4 385.1,2000.9 386.5,2148.4 387.8,2190.4 389.1,2075.2 390.4,2298.8 391.8,2280.7 393.1,2022.3 394.4,2182.3 395.7,2179.0 397.1,2071.3 398.4,2012.2 399.7,2189.9 401.1,2034.6 402.4,2304.5 403.7,2183.1 405.0,2080.2 406.4,2185.3 407.7,2038.6 409.0,2046.3 410.3,2160.6 411.7,2132.2 413.0,2023.5 414.3,2195.7 415.6,2094.1 417.0,2066.4 418.3,2153.2 419.6,2140.5 420.9,2005.2 422.3,2185.0 423.6,2121.0 424.9,2037.4 426.2,2196.5 427.6,2071.9 428.9,1961.3 430.2,2158.7 431.5,2255.5 432.9,2209.5 434.2,2037.4 435.5,2074.6 436.8,1997.1 438.2,2020.0 439.5,2221.5 440.8,2206.8 442.1,2093.3 443.5,2174.3 444.8,2257.5 446.1,2313.9 447.5,2150.1 448.8,2207.7 450.1,2048.3 451.4,2156.0 452.8,2254.2 454.1,2074.6 455.4,2113.7 456.7,2310.2 458.1,2007.7 459.4,2228.5 460.7,1966.9 462.0,1994.0 463.4,2297.1 464.7,2108.3 466.0,2024.0 467.3,2180.5 468.7,2100.1 470.0,2067.7 471.3,2309.2 472.6,2166.3 474.0,2312.0 475.3,2213.6 476.6,2148.2 477.9,2071.5 479.3,1946.2 480.6,2264.9 481.9,1961.3 483.2,2186.1 484.6,2145.8 485.9,2248.0 487.2,2050.5 488.6,2137.4 489.9,2195.7 491.2,2019.1 492.5,2089.3 493.9,2209.1 495.2,2017.6 496.5,2070.3 497.8,2190.3 499.2,1966.9 500.5,2098.6 501.8,2212.6 503.1,2236.6 504.5,1966.9 505.8,2164.6 507.1,2048.4 508.4,2103.9 509.8,2130.7 511.1,2009.9 512.4,2123.3 513.7,1976.4 515.1,2047.9 516.4,2195.1 517.7,2082.0 519.0,2014.1 520.4,2142.6 521.7,2068.2 523.0,2046.0 524.3,2165.6 525.7,2098.3 527.0,2045.7 528.3,2124.9 529.6,2090.6 531.0,2016.9 532.3,2148.5 533.6,2088.1 535.0,2043.2 536.3,1961.3 537.6,2057.2 538.9,2187.4 540.3,1998.9 541.6,2315.8 542.9,2204.7 544.2,2032.3 545.6,2074.0 546.9,2238.0 548.2,1985.8 549.5,2134.1 550.9,2198.5 552.2,2251.7 553.5,2121.0 554.8,2160.7 556.2,2032.2 557.5,2110.0 558.8,2321.5 560.1,2026.5 561.5,2104.8 562.8,2219.6 564.1,2270.5 565.4,2293.0 566.8,2158.2 568.1,2104.7 569.4,2204.3 570.7,2171.3 572.1,2077.2 573.4,2207.8 574.7,2323.3 576.0,2018.1 577.4,2014.1 578.7,2110.7 580.0,2020.3 581.4,2254.9 582.7,2312.0 584.0,2022.0 585.3,1944.3 586.7,2085.2 588.0,2036.1 589.3,2273.7 590.6,2131.1 592.0,2310.3 593.3,1982.9 594.6,2085.2 595.9,2212.3 597.3,2330.9 598.6,2123.4 599.9,2238.8 601.2,2019.9 602.6,2135.8 603.9,2184.5 605.2,1961.3 606.5,2146.8 607.9,2236.9 609.2,1968.2 610.5,2145.5 611.8,2274.2 613.2,2270.5 614.5,2067.4 615.8,2194.1 617.1,2010.3 618.5,1961.3 619.8,2140.2 621.1,2063.6 622.5,2202.4 623.8,2116.8 625.1,2077.3 626.4,2206.6 627.8,2163.9 629.1,1980.8 630.4,2300.7 631.7,2080.5 633.1,1994.2 634.4,2169.6 635.7,2039.4 637.0,1995.6 638.4,2120.9 639.7,1946.2 641.0,2023.8 642.3,2226.5 643.7,2044.4 645.0,2202.3 646.3,1951.8 647.6,2090.9 649.0,2214.1 650.3,2017.1 651.6,2259.3 652.9,2186.4 654.3,1951.8 655.6,2138.1 656.9,2144.7 658.2,1973.6 659.6,2148.2 660.9,2249.2 662.2,2056.9 663.5,2112.7 664.9,2273.0 666.2,2036.4 667.5,2106.4 668.9,1985.8 670.2,2266.7 671.5,2194.2 672.8,2093.8 674.2,2061.5 675.5,2269.1 676.8,2094.9 678.1,2048.1 679.5,2317.7 680.8,2144.7 682.1,2006.9 683.4,2168.6 684.8,2093.0 686.1,1972.4 687.4,2126.5 688.7,1961.3 690.1,2142.3 691.4,2122.3 692.7,2042.5 694.0,1990.5 695.4,2155.4 696.7,2076.9 698.0,2120.4 699.3,1977.4 700.7,2042.7 702.0,2150.8 703.3,2039.5 704.6,2081.5 706.0,2120.6 707.3,1993.5 708.6,2118.2 709.9,2159.8 711.3,2048.8 712.6,2313.9 713.9,2271.2 715.3,1995.9 716.6,1953.7 717.9,2321.5 719.2,2024.0 720.6,2082.6 721.9,2217.8 723.2,1985.8 724.5,2295.5 725.9,2266.7 727.2,2018.0 728.5,2172.7 729.8,1935.8 731.2,1946.3 732.5,2214.1 733.8,2074.7 735.1,1936.7 736.5,2144.5 737.8,2071.2 739.1,2016.5 740.4,2143.5 741.8,2031.0 743.1,1997.2 744.4,2080.2 745.7,2038.5 747.1,1971.3 748.4,2120.2 749.7,2087.3 751.0,2192.0 752.4,1958.7 753.7,1946.2 755.0,2159.0 756.4,2255.5 757.7,2078.9 759.0,2227.6 760.3,1955.6 761.7,2076.9 763.0,2109.5 764.3,1957.4 765.6,2092.3 767.0,2148.9 768.3,1961.3 769.6,2021.8 770.9,2114.9 772.3,1995.2 773.6,2056.3 774.9,1968.8 776.2,2020.4 777.6,2119.8 778.9,2043.9 780.2,1996.4 781.5,2120.6 782.9,2102.0 784.2,1982.0 785.5,2166.8 786.8,2202.7 788.2,2006.9 789.5,2163.2 790.8,2056.5 792.1,2033.6 793.5,2092.3 794.8,2146.1 796.1,2021.9" stroke="#2f82bd" stroke-width="2.0" stroke-dasharray="2.0 3.85"/>
<polyline points="134.6,2195.6 135.9,2179.5 137.2,2189.9 138.6,2187.5 139.9,2196.5 141.2,2205.6 142.5,2210.2 143.9,2199.4 145.2,2181.5 146.5,2178.1 147.8,2209.6 149.2,2189.9 150.5,2149.9 151.8,2185.2 153.1,2214.0 154.5,2203.0 155.8,2186.2 157.1,2197.1 158.4,2189.0 159.8,2180.0 161.1,2204.5 162.4,2187.0 163.7,2200.8 165.1,2181.9 166.4,2194.5 167.7,2209.5 169.0,2229.1 170.4,2194.4 171.7,2189.6 173.0,2195.0 174.3,2199.4 175.7,2182.3 177.0,2193.9 178.3,2183.0 179.7,2189.4 181.0,2144.2 182.3,2204.5 183.6,2187.9 185.0,2185.0 186.3,2195.5 187.6,2197.9 188.9,2183.3 190.3,2192.5 191.6,2176.3 192.9,2188.2 194.2,2203.1 195.6,2210.2 196.9,2194.4 198.2,2180.9 199.5,2191.0 200.9,2198.7 202.2,2170.6 203.5,2189.3 204.8,2185.5 206.2,2187.2 207.5,2201.8 208.8,2179.2 210.1,2194.4 211.5,2180.0 212.8,2190.4 214.1,2201.4 215.4,2176.4 216.8,2190.0 218.1,2180.6 219.4,2176.3 220.8,2199.2 222.1,2210.2 223.4,2188.0 224.7,2170.1 226.1,2170.5 227.4,2161.2 228.7,2154.2 230.0,2166.7 231.4,2106.5 232.7,2171.3 234.0,2177.3 235.3,2147.2 236.7,2150.5 238.0,2198.9 239.3,2162.2 240.6,2123.4 242.0,2130.1 243.3,2142.7 244.6,2112.8 245.9,2162.9 247.3,2196.0 248.6,2116.7 249.9,2089.5 251.2,2106.5 252.6,2146.4 253.9,2186.1 255.2,2103.7 256.5,2166.5 257.9,2126.9 259.2,2144.1 260.5,2177.9 261.8,2225.3 263.2,2093.3 264.5,2111.9 265.8,2156.9 267.2,2165.5 268.5,2102.9 269.8,2132.7 271.1,2072.5 272.5,2140.5 273.8,2198.9 275.1,2106.7 276.4,2150.9 277.8,2113.0 279.1,2159.7 280.4,2097.0 281.7,2095.5 283.1,2141.0 284.4,2109.1 285.7,2137.2 287.0,2176.1 288.4,2197.0 289.7,2162.0 291.0,2120.4 292.3,2154.9 293.7,2078.2 295.0,2093.9 296.3,2154.8 297.6,2114.4 299.0,2198.9 300.3,2178.7 301.6,2097.9 302.9,2156.5 304.3,2125.1 305.6,2127.3 306.9,2195.3 308.2,2092.3 309.6,2137.1 310.9,2208.3 312.2,2076.3 313.6,2187.8 314.9,2122.4 316.2,2148.5 317.5,2109.9 318.9,2154.9 320.2,2200.7 321.5,2119.7 322.8,2146.8 324.2,2099.0 325.5,2132.4 326.8,2182.1 328.1,2081.9 329.5,2139.8 330.8,2113.0 332.1,2156.4 333.4,2168.6 334.8,2080.1 336.1,2160.8 337.4,2099.7 338.7,2152.8 340.1,2184.5 341.4,2193.2 342.7,2140.1 344.0,2124.1 345.4,2127.0 346.7,2163.6 348.0,2076.3 349.3,2158.1 350.7,2120.7 352.0,2202.7 353.3,2182.5 354.7,2088.3 356.0,2145.5 357.3,2099.6 358.6,2148.1 360.0,2195.0 361.3,2098.3 362.6,2158.0 363.9,2227.2 365.3,2165.7 366.6,2182.6 367.9,2112.9 369.2,2138.2 370.6,2126.2 371.9,2151.2 373.2,2194.7 374.5,2066.8 375.9,2161.3 377.2,2089.9 378.5,2156.5 379.8,2198.9 381.2,2117.0 382.5,2125.4 383.8,2095.7 385.1,2085.7 386.5,2165.6 387.8,2090.4 389.1,2155.9 390.4,2121.6 391.8,2146.2 393.1,2187.1 394.4,2097.2 395.7,2134.4 397.1,2104.1 398.4,2123.0 399.7,2184.5 401.1,2097.8 402.4,2195.1 403.7,2113.1 405.0,2148.2 406.4,2172.9 407.7,2086.3 409.0,2132.2 410.3,2081.9 411.7,2137.9 413.0,2189.4 414.3,2107.3 415.6,2124.8 417.0,2085.6 418.3,2072.5 419.6,2155.3 420.9,2180.0 422.3,2138.8 423.6,2090.9 424.9,2145.1 426.2,2217.8 427.6,2108.5 428.9,2119.1 430.2,2098.9 431.5,2137.1 432.9,2160.4 434.2,2092.0 435.5,2072.5 436.8,2078.9 438.2,2191.4 439.5,2168.8 440.8,2097.3 442.1,2078.2 443.5,2093.7 444.8,2122.2 446.1,2195.1 447.5,2114.7 448.8,2140.2 450.1,2081.1 451.4,2126.8 452.8,2159.2 454.1,2108.0 455.4,2137.1 456.7,2091.9 458.1,2148.5 459.4,2198.9 460.7,2105.0 462.0,2122.5 463.4,2082.0 464.7,2130.9 466.0,2166.4 467.3,2094.4 468.7,2070.6 470.0,2101.4 471.3,2138.6 472.6,2193.2 474.0,2062.1 475.3,2149.2 476.6,2080.4 477.9,2051.8 479.3,2158.9 480.6,2225.3 481.9,2108.8 483.2,2074.9 484.6,2116.6 485.9,2149.2 487.2,2072.5 488.6,2141.8 489.9,2097.7 491.2,2183.8 492.5,2179.5 493.9,2072.1 495.2,2143.9 496.5,2095.1 497.8,2126.7 499.2,2068.8 500.5,2104.7 501.8,2120.4 503.1,2195.1 504.5,2109.3 505.8,2057.5 507.1,2101.7 508.4,2142.8 509.8,2075.1 511.1,2187.6 512.4,2167.4 513.7,2063.1 515.1,2106.6 516.4,2084.6 517.7,2121.7 519.0,2156.6 520.4,2082.5 521.7,2132.9 523.0,2087.3 524.3,2118.4 525.7,2118.7 527.0,2079.6 528.3,2104.4 529.6,2092.1 531.0,2106.1 532.3,2138.7 533.6,2072.9 535.0,2125.6 536.3,2034.8 537.6,2103.3 538.9,2186.4 540.3,2202.7 541.6,2145.3 542.9,2072.6 544.2,2127.8 545.6,2156.1 546.9,2084.6 548.2,2133.0 549.5,2096.0 550.9,2121.6 552.2,2232.9 553.5,2071.5 554.8,2146.8 556.2,2101.3 557.5,2132.5 558.8,2227.2 560.1,2072.2 561.5,2125.8 562.8,2099.9 564.1,2140.9 565.4,2040.4 566.8,2055.5 568.1,2103.5 569.4,2069.9 570.7,2040.4 572.1,2176.0 573.4,2071.1 574.7,2210.2 576.0,2065.3 577.4,2134.5 578.7,2040.4 580.0,2198.9 581.4,2117.5 582.7,2060.5 584.0,2101.8 585.3,2155.6 586.7,2095.1 588.0,2114.7 589.3,2048.0 590.6,2129.1 592.0,2180.7 593.3,2062.2 594.6,2053.7 595.9,2068.7 597.3,2230.9 598.6,2161.0 599.9,2077.2 601.2,2136.5 602.6,2101.3 603.9,2112.2 605.2,2175.1 606.5,2038.6 607.9,2153.6 609.2,2206.4 610.5,2124.8 611.8,2179.9 613.2,2191.4 614.5,2149.6 615.8,2066.0 617.1,2120.1 618.5,2175.0 619.8,2081.5 621.1,2102.8 622.5,2131.0 623.8,2120.1 625.1,2034.8 626.4,2058.8 627.8,2086.9 629.1,2063.5 630.4,2198.9 631.7,2135.6 633.1,2079.9 634.4,2115.9 635.7,2047.4 637.0,2185.7 638.4,2178.6 639.7,2039.7 641.0,2131.7 642.3,2036.7 643.7,2180.0 645.0,2156.0 646.3,2063.2 647.6,2112.3 649.0,2087.9 650.3,2107.4 651.6,2148.2 652.9,2195.1 654.3,2065.0 655.6,2095.0 656.9,2118.7 658.2,2175.1 659.6,2092.8 660.9,2146.3 662.2,2068.1 663.5,2206.4 664.9,2174.4 666.2,2076.7 667.5,2123.7 668.9,2070.6 670.2,2145.8 671.5,2186.2 672.8,2096.2 674.2,2151.9 675.5,2087.9 676.8,2133.2 678.1,2162.9 679.5,2036.7 680.8,2198.9 682.1,2100.6 683.4,2147.6 684.8,2192.4 686.1,2092.2 687.4,2138.8 688.7,2055.5 690.1,2120.7 691.4,2185.2 692.7,2202.7 694.0,2115.3 695.4,2093.2 696.7,2112.5 698.0,2173.6 699.3,2087.3 700.7,2126.3 702.0,2048.0 703.3,2135.8 704.6,2166.2 706.0,2195.1 707.3,2140.1 708.6,2092.2 709.9,2128.1 711.3,2158.5 712.6,2083.2 713.9,2044.2 715.3,2067.9 716.6,2110.4 717.9,2210.2 719.2,2059.5 720.6,2116.0 721.9,2098.5 723.2,2138.2 724.5,2038.6 725.9,2198.9 727.2,2132.4 728.5,2073.0 729.8,2102.2 731.2,2169.0 732.5,2082.6 733.8,2135.5 735.1,2089.4 736.5,2117.2 737.8,2162.2 739.1,2071.3 740.4,2129.1 741.8,2056.7 743.1,2107.7 744.4,2166.7 745.7,2082.8 747.1,2135.3 748.4,2198.9 749.7,2119.2 751.0,2147.5 752.4,2034.8 753.7,2095.6 755.0,2040.7 756.4,2202.7 757.7,2177.5 759.0,2072.8 760.3,2130.9 761.7,2045.1 763.0,2040.4 764.3,2188.6 765.6,2091.7 767.0,2119.1 768.3,2077.1 769.6,2139.8 770.9,2167.3 772.3,2077.4 773.6,2198.9 774.9,2102.2 776.2,2110.4 777.6,2176.8 778.9,2094.9 780.2,2121.8 781.5,2197.0 782.9,2136.1 784.2,2157.4 785.5,2059.3 786.8,2117.1 788.2,2103.8 789.5,2116.8 790.8,2204.5 792.1,2079.3 793.5,2128.1 794.8,2089.8 796.1,2072.5" stroke="#ff7f0e" stroke-width="2.2"/>
</g>
<rect x="101.5" y="1915.8" width="727.7" height="433.4" fill="none" stroke="#1a1a1a" stroke-width="2.1"/>
<line x1="134.6" y1="2349.2" x2="134.6" y2="2358.2" stroke="#1a1a1a" stroke-width="1.9"/>
<text font-family='"WenQuanYi Zen Hei","Liberation Sans",sans-serif' font-size="25.3" text-anchor="middle" x="156.49" y="2384.20" transform="scale(0.86,1)">0</text>
<line x1="267.2" y1="2349.2" x2="267.2" y2="2358.2" stroke="#1a1a1a" stroke-width="1.9"/>
<text font-family='"WenQuanYi Zen Hei","Liberation Sans",sans-serif' font-size="25.3" text-anchor="middle" x="295.43 310.64 325.85" y="2384.20" transform="scale(0.86,1)">100</text>
<line x1="399.7" y1="2349.2" x2="399.7" y2="2358.2" stroke="#1a1a1a" stroke-width="1.9"/>
<text font-family='"WenQuanYi Zen Hei","Liberation Sans",sans-serif' font-size="25.3" text-anchor="middle" x="449.59 464.80 480.01" y="2384.20" transform="scale(0.86,1)">200</text>
<line x1="532.3" y1="2349.2" x2="532.3" y2="2358.2" stroke="#1a1a1a" stroke-width="1.9"/>
<text font-family='"WenQuanYi Zen Hei","Liberation Sans",sans-serif' font-size="25.3" text-anchor="middle" x="603.74 618.95 634.16" y="2384.20" transform="scale(0.86,1)">300</text>
<line x1="664.9" y1="2349.2" x2="664.9" y2="2358.2" stroke="#1a1a1a" stroke-width="1.9"/>
<text font-family='"WenQuanYi Zen Hei","Liberation Sans",sans-serif' font-size="25.3" text-anchor="middle" x="757.90 773.11 788.32" y="2384.20" transform="scale(0.86,1)">400</text>
<line x1="797.4" y1="2349.2" x2="797.4" y2="2358.2" stroke="#1a1a1a" stroke-width="1.9"/>
<text font-family='"WenQuanYi Zen Hei","Liberation Sans",sans-serif' font-size="25.3" text-anchor="middle" x="912.06 927.27 942.47" y="2384.20" transform="scale(0.86,1)">500</text>
<line x1="92.5" y1="2274.9" x2="101.5" y2="2274.9" stroke="#1a1a1a" stroke-width="1.9"/>
<text font-family='"WenQuanYi Zen Hei","Liberation Sans",sans-serif' font-size="25.3" text-anchor="middle" x="43.51 58.72 73.93 89.14" y="2283.50" transform="scale(0.86,1)">1620</text>
<line x1="92.5" y1="2197.9" x2="101.5" y2="2197.9" stroke="#1a1a1a" stroke-width="1.9"/>
<text font-family='"WenQuanYi Zen Hei","Liberation Sans",sans-serif' font-size="25.3" text-anchor="middle" x="43.51 58.72 73.93 89.14" y="2206.50" transform="scale(0.86,1)">1630</text>
<line x1="92.5" y1="2120.9" x2="101.5" y2="2120.9" stroke="#1a1a1a" stroke-width="1.9"/>
<text font-family='"WenQuanYi Zen Hei","Liberation Sans",sans-serif' font-size="25.3" text-anchor="middle" x="43.51 58.72 73.93 89.14" y="2129.50" transform="scale(0.86,1)">1640</text>
<line x1="92.5" y1="2043.9" x2="101.5" y2="2043.9" stroke="#1a1a1a" stroke-width="1.9"/>
<text font-family='"WenQuanYi Zen Hei","Liberation Sans",sans-serif' font-size="25.3" text-anchor="middle" x="43.51 58.72 73.93 89.14" y="2052.50" transform="scale(0.86,1)">1650</text>
<line x1="92.5" y1="1966.9" x2="101.5" y2="1966.9" stroke="#1a1a1a" stroke-width="1.9"/>
<text font-family='"WenQuanYi Zen Hei","Liberation Sans",sans-serif' font-size="25.3" text-anchor="middle" x="43.51 58.72 73.93 89.14" y="1975.50" transform="scale(0.86,1)">1660</text>
<text font-family='"IPAGothic","Liberation Mono",monospace' font-size="31" text-anchor="middle" x="253.60 269.25 284.90 300.55 316.20 331.85 347.50 363.15 378.80 394.45" y="1902.50" stroke="#000" stroke-width="0.25">Prediction</text><text font-family='"IPAGothic","Liberation Mono",monospace' font-size="31" text-anchor="middle" x="425.75 441.40 457.05 472.70 488.35 504.00 519.65 535.30 550.95" y="1902.50" stroke="#000" stroke-width="0.25">accuracy:</text><text font-family='"WenQuanYi Zen Hei","Liberation Sans",sans-serif' font-size="31.3" text-anchor="middle" x="677.03 695.23 713.43 731.63 749.83 768.02" y="1902.50" transform="scale(0.86,1)">74.20%</text>
<text font-family='"IPAGothic","Liberation Mono",monospace' font-size="25.0" text-anchor="middle" x="413.03 426.11 439.19 452.27 465.35 478.43" y="2416.40" stroke="#000" stroke-width="0.15">Sample</text><text font-family='"IPAGothic","Liberation Mono",monospace' font-size="25.0" text-anchor="middle" x="504.59 517.67" y="2416.40" stroke="#000" stroke-width="0.15">No</text>
<g transform="translate(17.4,2139.7) rotate(-90)"><text font-family='"IPAGothic","Liberation Mono",monospace' font-size="25.3" text-anchor="middle" x="-65.40 -52.32 -39.24 -26.16 -13.08 0.00 13.08 26.16 39.24 52.32 65.40" y="0.00" stroke="#000" stroke-width="0.15">Temperature</text></g>
<rect x="114.6" y="1928.5" width="298.4" height="75.6" rx="6" ry="6" fill="#fff" fill-opacity="0.8" stroke="#cccccc" stroke-width="1.6"/>
<line x1="125.1" y1="1947.5" x2="177.1" y2="1947.5" stroke="#2f82bd" stroke-width="2.2" stroke-dasharray="2.2 3.7"/>
<line x1="123.6" y1="1981.8" x2="177.6" y2="1981.8" stroke="#ff7f0e" stroke-width="2.2"/>
<text font-family='"IPAGothic","Liberation Mono",monospace' font-size="25.3" text-anchor="middle" x="203.14 216.22 229.30 242.38" y="1956.80" stroke="#000" stroke-width="0.15">True</text><text font-family='"IPAGothic","Liberation Mono",monospace' font-size="25.3" text-anchor="middle" x="268.54 281.62 294.70 307.78 320.86" y="1956.80" stroke="#000" stroke-width="0.15">value</text>
<text font-family='"IPAGothic","Liberation Mono",monospace' font-size="25.3" text-anchor="middle" x="203.14 216.22 229.30 242.38 255.46 268.54 281.62 294.70 307.78 320.86" y="1990.60" stroke="#000" stroke-width="0.15">Predictive</text><text font-family='"IPAGothic","Liberation Mono",monospace' font-size="25.3" text-anchor="middle" x="347.02 360.10 373.18 386.26 399.34" y="1990.60" stroke="#000" stroke-width="0.15">value</text>
<text font-family='"Liberation Serif",serif' font-size="25" x="472.8" y="2445.5" text-anchor="middle">(g)</text>
<clipPath id="cliph"><rect x="978.5" y="1915.8" width="727.7" height="433.6"/></clipPath>
<g clip-path="url(#cliph)" fill="none" stroke-linejoin="round">
<polyline points="1011.6,2226.7 1012.9,2181.5 1014.2,2221.3 1015.6,2242.9 1016.9,2164.4 1018.2,2279.2 1019.5,2226.1 1020.9,2176.4 1022.2,2268.2 1023.5,2330.7 1024.8,2194.9 1026.2,2281.0 1027.5,1966.7 1028.8,2157.2 1030.1,2308.0 1031.5,2216.9 1032.8,2176.8 1034.1,2303.0 1035.4,2315.6 1036.8,2162.6 1038.1,2259.4 1039.4,2145.9 1040.7,2193.7 1042.1,2275.2 1043.4,2196.8 1044.7,2314.6 1046.0,2325.1 1047.4,2247.2 1048.7,2249.6 1050.0,2152.3 1051.3,2205.2 1052.7,2290.0 1054.0,2161.6 1055.3,2210.3 1056.7,2296.2 1058.0,1962.8 1059.3,2228.8 1060.6,2261.5 1062.0,2152.0 1063.3,2230.7 1064.6,2267.7 1065.9,2323.1 1067.3,2207.9 1068.6,2140.3 1069.9,2179.8 1071.2,2257.5 1072.6,2195.7 1073.9,2152.2 1075.2,2274.5 1076.5,2246.3 1077.9,2137.5 1079.2,2130.8 1080.5,2321.3 1081.8,2179.5 1083.2,2297.0 1084.5,2225.1 1085.8,2150.3 1087.1,2269.5 1088.5,2213.4 1089.8,2176.9 1091.1,2321.3 1092.4,2237.0 1093.8,2173.1 1095.1,2295.6 1096.4,2246.7 1097.8,2261.7 1099.1,2315.6 1100.4,2198.1 1101.7,2240.3 1103.1,2133.9 1104.4,2154.0 1105.7,2277.9 1107.0,2056.6 1108.4,1991.3 1109.7,2229.3 1111.0,2074.7 1112.3,2118.1 1113.7,2282.9 1115.0,2300.5 1116.3,2013.9 1117.6,2192.8 1119.0,2087.4 1120.3,2144.5 1121.6,2221.6 1122.9,2266.5 1124.3,2260.3 1125.6,2128.7 1126.9,2032.4 1128.2,2030.8 1129.6,2150.5 1130.9,2103.9 1132.2,2240.2 1133.5,2317.5 1134.9,2072.9 1136.2,2223.4 1137.5,2150.4 1138.8,2091.3 1140.2,2280.2 1141.5,2128.6 1142.8,2078.7 1144.2,2209.1 1145.5,2179.0 1146.8,1959.2 1148.1,2276.5 1149.5,2143.3 1150.8,2228.5 1152.1,2313.7 1153.4,2100.2 1154.8,2190.2 1156.1,2024.1 1157.4,2147.6 1158.7,2299.9 1160.1,2300.5 1161.4,2122.4 1162.7,2185.8 1164.0,2034.5 1165.4,2172.5 1166.7,2310.0 1168.0,2070.0 1169.3,2153.0 1170.7,2275.2 1172.0,2030.8 1173.3,2109.5 1174.6,2247.1 1176.0,2251.5 1177.3,2195.7 1178.6,2150.8 1179.9,2023.3 1181.3,2193.5 1182.6,2159.6 1183.9,2062.6 1185.2,2220.5 1186.6,2112.9 1187.9,2065.9 1189.2,2008.2 1190.6,2090.9 1191.9,2011.0 1193.2,2008.2 1194.5,2124.2 1195.9,2071.4 1197.2,2230.7 1198.5,2081.7 1199.8,2056.6 1201.2,2151.0 1202.5,2100.7 1203.8,2212.2 1205.1,2047.9 1206.5,2219.4 1207.8,2023.3 1209.1,2051.9 1210.4,2097.7 1211.8,2171.8 1213.1,2081.8 1214.4,2121.2 1215.7,2292.4 1217.1,2021.9 1218.4,1991.3 1219.7,2300.5 1221.0,2062.3 1222.4,2150.7 1223.7,2227.3 1225.0,2068.5 1226.3,2116.8 1227.7,2236.4 1229.0,2236.4 1230.3,2185.0 1231.7,1995.0 1233.0,2042.5 1234.3,2246.4 1235.6,2111.2 1237.0,2037.5 1238.3,2241.4 1239.6,2047.8 1240.9,2057.5 1242.3,2207.8 1243.6,2164.4 1244.9,2102.2 1246.2,2235.2 1247.6,2133.3 1248.9,2104.9 1250.2,1995.0 1251.5,2006.4 1252.9,2052.4 1254.2,2229.0 1255.5,2158.0 1256.8,2184.6 1258.2,2087.4 1259.5,2124.0 1260.8,2244.2 1262.1,2000.7 1263.5,2148.2 1264.8,2190.2 1266.1,2075.0 1267.4,2298.6 1268.8,2280.5 1270.1,2022.1 1271.4,2182.1 1272.7,2178.8 1274.1,2071.1 1275.4,2012.0 1276.7,2189.7 1278.1,2034.4 1279.4,2304.3 1280.7,2182.9 1282.0,2080.0 1283.4,2185.1 1284.7,2038.4 1286.0,2046.1 1287.3,2160.4 1288.7,2132.0 1290.0,2023.3 1291.3,2195.5 1292.6,2093.9 1294.0,2066.2 1295.3,2153.0 1296.6,2140.3 1297.9,2005.0 1299.3,2184.8 1300.6,2120.8 1301.9,2037.2 1303.2,2196.3 1304.6,2071.7 1305.9,1961.1 1307.2,2158.5 1308.5,2255.3 1309.9,2209.3 1311.2,2037.2 1312.5,2074.4 1313.8,1996.9 1315.2,2019.8 1316.5,2221.3 1317.8,2206.6 1319.1,2093.1 1320.5,2174.1 1321.8,2257.3 1323.1,2313.7 1324.5,2149.9 1325.8,2207.5 1327.1,2048.1 1328.4,2155.8 1329.8,2254.0 1331.1,2074.4 1332.4,2113.5 1333.7,2310.0 1335.1,2007.5 1336.4,2228.3 1337.7,1966.7 1339.0,1993.8 1340.4,2296.9 1341.7,2108.1 1343.0,2023.8 1344.3,2180.3 1345.7,2099.9 1347.0,2067.5 1348.3,2309.0 1349.6,2166.1 1351.0,2311.8 1352.3,2213.4 1353.6,2148.0 1354.9,2071.3 1356.3,1946.0 1357.6,2264.7 1358.9,1961.1 1360.2,2185.9 1361.6,2145.6 1362.9,2247.8 1364.2,2050.3 1365.6,2137.2 1366.9,2195.5 1368.2,2018.9 1369.5,2089.1 1370.9,2208.9 1372.2,2017.4 1373.5,2070.1 1374.8,2190.1 1376.2,1966.7 1377.5,2098.4 1378.8,2212.4 1380.1,2236.4 1381.5,1966.7 1382.8,2164.4 1384.1,2048.2 1385.4,2103.7 1386.8,2130.5 1388.1,2009.7 1389.4,2123.1 1390.7,1976.2 1392.1,2047.7 1393.4,2194.9 1394.7,2081.8 1396.0,2013.9 1397.4,2142.4 1398.7,2068.0 1400.0,2045.8 1401.3,2165.4 1402.7,2098.1 1404.0,2045.5 1405.3,2124.7 1406.6,2090.4 1408.0,2016.7 1409.3,2148.3 1410.6,2087.9 1412.0,2043.0 1413.3,1961.1 1414.6,2057.0 1415.9,2187.2 1417.3,1998.7 1418.6,2315.6 1419.9,2204.5 1421.2,2032.1 1422.6,2073.8 1423.9,2237.8 1425.2,1985.6 1426.5,2133.9 1427.9,2198.3 1429.2,2251.5 1430.5,2120.8 1431.8,2160.5 1433.2,2032.0 1434.5,2109.8 1435.8,2321.3 1437.1,2026.3 1438.5,2104.6 1439.8,2219.4 1441.1,2270.3 1442.4,2292.8 1443.8,2158.0 1445.1,2104.5 1446.4,2204.1 1447.7,2171.1 1449.1,2077.0 1450.4,2207.6 1451.7,2323.1 1453.0,2017.9 1454.4,2013.9 1455.7,2110.5 1457.0,2020.1 1458.4,2254.7 1459.7,2311.8 1461.0,2021.8 1462.3,1944.1 1463.7,2085.0 1465.0,2035.9 1466.3,2273.5 1467.6,2130.9 1469.0,2310.1 1470.3,1982.7 1471.6,2085.0 1472.9,2212.1 1474.3,2330.7 1475.6,2123.2 1476.9,2238.6 1478.2,2019.7 1479.6,2135.6 1480.9,2184.3 1482.2,1961.1 1483.5,2146.6 1484.9,2236.7 1486.2,1968.0 1487.5,2145.3 1488.8,2274.0 1490.2,2270.3 1491.5,2067.2 1492.8,2193.8 1494.1,2010.1 1495.5,1961.1 1496.8,2140.0 1498.1,2063.4 1499.5,2202.2 1500.8,2116.6 1502.1,2077.1 1503.4,2206.4 1504.8,2163.7 1506.1,1980.6 1507.4,2300.5 1508.7,2080.3 1510.1,1994.0 1511.4,2169.4 1512.7,2039.2 1514.0,1995.4 1515.4,2120.7 1516.7,1946.0 1518.0,2023.6 1519.3,2226.3 1520.7,2044.2 1522.0,2202.1 1523.3,1951.6 1524.6,2090.7 1526.0,2213.9 1527.3,2016.9 1528.6,2259.1 1529.9,2186.2 1531.3,1951.6 1532.6,2137.9 1533.9,2144.5 1535.2,1973.4 1536.6,2148.0 1537.9,2249.0 1539.2,2056.7 1540.5,2112.5 1541.9,2272.8 1543.2,2036.2 1544.5,2106.2 1545.9,1985.6 1547.2,2266.5 1548.5,2194.0 1549.8,2093.6 1551.2,2061.3 1552.5,2268.9 1553.8,2094.7 1555.1,2047.9 1556.5,2317.5 1557.8,2144.5 1559.1,2006.7 1560.4,2168.4 1561.8,2092.8 1563.1,1972.2 1564.4,2126.3 1565.7,1961.1 1567.1,2142.1 1568.4,2122.1 1569.7,2042.3 1571.0,1990.3 1572.4,2155.2 1573.7,2076.7 1575.0,2120.2 1576.3,1977.2 1577.7,2042.5 1579.0,2150.6 1580.3,2039.3 1581.6,2081.3 1583.0,2120.4 1584.3,1993.3 1585.6,2118.0 1586.9,2159.6 1588.3,2048.6 1589.6,2313.7 1590.9,2271.0 1592.3,1995.7 1593.6,1953.5 1594.9,2321.3 1596.2,2023.8 1597.6,2082.4 1598.9,2217.6 1600.2,1985.6 1601.5,2295.3 1602.9,2266.5 1604.2,2017.8 1605.5,2172.5 1606.8,1935.6 1608.2,1946.1 1609.5,2213.9 1610.8,2074.5 1612.1,1936.5 1613.5,2144.3 1614.8,2071.0 1616.1,2016.3 1617.4,2143.3 1618.8,2030.8 1620.1,1997.0 1621.4,2080.0 1622.7,2038.3 1624.1,1971.1 1625.4,2120.0 1626.7,2087.1 1628.0,2191.8 1629.4,1958.5 1630.7,1946.0 1632.0,2158.8 1633.4,2255.3 1634.7,2078.7 1636.0,2227.4 1637.3,1955.4 1638.7,2076.7 1640.0,2109.3 1641.3,1957.2 1642.6,2092.1 1644.0,2148.7 1645.3,1961.1 1646.6,2021.6 1647.9,2114.7 1649.3,1995.0 1650.6,2056.1 1651.9,1968.6 1653.2,2020.2 1654.6,2119.6 1655.9,2043.7 1657.2,1996.2 1658.5,2120.4 1659.9,2101.8 1661.2,1981.8 1662.5,2166.6 1663.8,2202.5 1665.2,2006.7 1666.5,2163.0 1667.8,2056.3 1669.1,2033.4 1670.5,2092.1 1671.8,2145.9 1673.1,2021.7" stroke="#2f82bd" stroke-width="2.0" stroke-dasharray="2.0 3.85"/>
<polyline points="1011.6,2184.4 1012.9,2220.6 1014.2,2206.2 1015.6,2195.7 1016.9,2230.9 1018.2,2213.8 1019.5,2236.6 1020.9,2237.5 1022.2,2191.3 1023.5,2255.4 1024.8,2216.9 1026.2,2226.2 1027.5,2180.0 1028.8,2217.3 1030.1,2261.1 1031.5,2192.5 1032.8,2218.5 1034.1,2226.2 1035.4,2204.9 1036.8,2191.3 1038.1,2194.2 1039.4,2226.0 1040.7,2213.9 1042.1,2201.0 1043.4,2239.0 1044.7,2185.7 1046.0,2272.5 1047.4,2241.4 1048.7,2202.6 1050.0,2183.4 1051.3,2206.4 1052.7,2229.0 1054.0,2185.8 1055.3,2207.9 1056.7,2206.7 1058.0,2117.8 1059.3,2221.5 1060.6,2217.2 1062.0,2181.3 1063.3,2195.8 1064.6,2195.1 1065.9,2231.3 1067.3,2210.3 1068.6,2193.2 1069.9,2229.7 1071.2,2227.1 1072.6,2251.7 1073.9,2249.8 1075.2,2224.0 1076.5,2200.2 1077.9,2227.3 1079.2,2255.4 1080.5,2204.2 1081.8,2221.2 1083.2,2234.1 1084.5,2209.9 1085.8,2214.6 1087.1,2197.0 1088.5,2204.6 1089.8,2213.4 1091.1,2194.9 1092.4,2251.7 1093.8,2217.6 1095.1,2204.2 1096.4,2187.5 1097.8,2207.5 1099.1,2184.8 1100.4,2215.8 1101.7,2203.9 1103.1,2236.6 1104.4,2183.4 1105.7,2208.9 1107.0,2164.2 1108.4,2112.2 1109.7,2216.0 1111.0,2123.2 1112.3,2151.9 1113.7,2215.9 1115.0,2251.7 1116.3,2163.7 1117.6,2095.1 1119.0,2178.6 1120.3,2142.1 1121.6,2107.8 1122.9,2240.4 1124.3,2171.3 1125.6,2128.3 1126.9,2053.6 1128.2,2160.3 1129.6,2115.8 1130.9,2143.8 1132.2,2212.1 1133.5,2080.0 1134.9,2074.4 1136.2,2219.2 1137.5,2090.3 1138.8,2263.0 1140.2,2234.7 1141.5,2114.8 1142.8,2066.9 1144.2,2121.9 1145.5,2199.2 1146.8,2159.7 1148.1,2078.2 1149.5,2214.5 1150.8,2141.8 1152.1,2249.8 1153.4,2196.9 1154.8,2153.2 1156.1,2102.5 1157.4,2066.9 1158.7,2234.3 1160.1,2255.4 1161.4,2169.4 1162.7,2200.9 1164.0,2099.9 1165.4,2059.3 1166.7,2208.9 1168.0,2118.7 1169.3,2150.0 1170.7,2075.2 1172.0,2066.9 1173.3,2120.5 1174.6,2232.8 1176.0,2169.8 1177.3,2160.5 1178.6,2080.9 1179.9,2196.5 1181.3,2051.8 1182.6,2064.3 1183.9,2109.2 1185.2,2192.9 1186.6,2092.9 1187.9,2242.3 1189.2,2032.9 1190.6,2093.9 1191.9,2127.7 1193.2,2160.7 1194.5,2077.7 1195.9,2136.3 1197.2,2246.1 1198.5,2174.5 1199.8,2127.9 1201.2,2108.1 1202.5,2184.0 1203.8,2110.0 1205.1,2229.0 1206.5,2151.4 1207.8,2146.3 1209.1,2057.4 1210.4,2133.6 1211.8,2155.5 1213.1,2086.4 1214.4,2123.0 1215.7,2188.6 1217.1,2100.7 1218.4,2240.4 1219.7,2175.6 1221.0,2064.6 1222.4,2107.3 1223.7,2038.6 1225.0,2164.7 1226.3,2111.7 1227.7,2073.5 1229.0,2247.9 1230.3,2162.4 1231.7,2072.5 1233.0,2222.0 1234.3,2140.1 1235.6,2110.4 1237.0,2152.6 1238.3,2227.5 1239.6,2053.6 1240.9,2263.0 1242.3,2225.7 1243.6,2105.4 1244.9,2170.5 1246.2,2176.9 1247.6,2067.7 1248.9,2121.9 1250.2,2082.9 1251.5,2029.1 1252.9,2145.8 1254.2,2119.5 1255.5,2227.2 1256.8,2177.2 1258.2,2102.7 1259.5,2246.1 1260.8,2164.6 1262.1,2066.9 1263.5,2148.3 1264.8,2195.9 1266.1,2110.7 1267.4,2137.6 1268.8,2061.2 1270.1,2085.2 1271.4,2236.6 1272.7,2181.6 1274.1,2071.8 1275.4,2135.2 1276.7,2051.8 1278.1,2232.7 1279.4,2147.2 1280.7,2111.8 1282.0,2244.1 1283.4,2162.0 1284.7,2104.8 1286.0,2208.1 1287.3,2246.1 1288.7,2103.9 1290.0,2053.6 1291.3,2187.9 1292.6,2073.3 1294.0,2167.0 1295.3,2034.8 1296.6,2060.2 1297.9,2221.5 1299.3,2172.3 1300.6,2097.0 1301.9,2119.8 1303.2,2088.4 1304.6,2066.9 1305.9,2152.0 1307.2,2065.9 1308.5,2189.0 1309.9,2157.2 1311.2,2078.7 1312.5,2036.7 1313.8,2132.3 1315.2,2244.1 1316.5,2129.2 1317.8,2225.8 1319.1,2105.0 1320.5,2036.7 1321.8,2191.6 1323.1,2244.1 1324.5,2049.9 1325.8,2197.8 1327.1,2062.2 1328.4,2118.4 1329.8,2089.9 1331.1,2038.6 1332.4,2142.4 1333.7,2240.4 1335.1,2185.3 1336.4,2162.4 1337.7,2099.9 1339.0,2180.3 1340.4,2057.4 1341.7,2079.0 1343.0,2133.3 1344.3,2204.8 1345.7,2036.7 1347.0,2145.3 1348.3,2191.8 1349.6,2232.8 1351.0,2113.5 1352.3,2219.0 1353.6,2104.8 1354.9,2159.0 1356.3,2006.5 1357.6,2263.0 1358.9,2118.9 1360.2,2089.4 1361.6,2209.6 1362.9,2104.3 1364.2,2062.8 1365.6,2027.3 1366.9,2150.7 1368.2,2078.3 1369.5,2132.6 1370.9,2164.7 1372.2,2047.0 1373.5,2044.2 1374.8,2204.6 1376.2,2051.9 1377.5,2232.8 1378.8,2180.7 1380.1,2093.4 1381.5,2236.6 1382.8,2066.6 1384.1,2010.3 1385.4,2113.6 1386.8,2070.1 1388.1,2227.2 1389.4,2123.8 1390.7,2027.3 1392.1,2171.0 1393.4,2103.6 1394.7,2075.3 1396.0,2115.8 1397.4,2034.8 1398.7,2035.7 1400.0,2083.1 1401.3,2115.0 1402.7,2149.9 1404.0,2093.6 1405.3,2148.1 1406.6,2046.3 1408.0,2103.2 1409.3,2065.3 1410.6,2138.6 1412.0,2088.6 1413.3,1976.3 1414.6,2167.3 1415.9,2126.4 1417.3,2240.4 1418.6,2029.1 1419.9,2094.6 1421.2,2044.5 1422.6,2120.7 1423.9,2228.3 1425.2,2038.6 1426.5,2151.4 1427.9,2206.6 1429.2,2272.5 1430.5,2111.5 1431.8,2187.8 1433.2,2099.1 1434.5,2156.7 1435.8,2264.9 1437.1,2220.0 1438.5,2154.7 1439.8,2050.2 1441.1,2174.0 1442.4,2236.6 1443.8,2000.9 1445.1,2000.9 1446.4,2123.5 1447.7,2004.7 1449.1,2103.2 1450.4,2212.2 1451.7,2251.7 1453.0,2103.5 1454.4,2008.4 1455.7,2021.1 1457.0,2229.0 1458.4,2196.9 1459.7,2050.6 1461.0,2006.5 1462.3,2083.5 1463.7,2201.8 1465.0,2118.0 1466.3,2057.9 1467.6,2236.6 1469.0,2106.1 1470.3,2080.5 1471.6,2193.2 1472.9,2017.8 1474.3,2264.9 1475.6,2157.3 1476.9,2183.4 1478.2,2040.7 1479.6,2097.9 1480.9,2244.1 1482.2,2094.8 1483.5,1999.0 1484.9,2175.4 1486.2,2072.0 1487.5,2146.0 1488.8,2055.4 1490.2,2240.4 1491.5,2096.8 1492.8,2035.0 1494.1,2048.0 1495.5,2113.8 1496.8,2052.4 1498.1,2151.7 1499.5,2080.2 1500.8,1970.7 1502.1,2101.8 1503.4,1976.3 1504.8,2007.3 1506.1,2086.1 1507.4,2229.0 1508.7,2023.2 1510.1,2133.4 1511.4,2148.0 1512.7,2002.0 1514.0,2118.1 1515.4,2215.9 1516.7,2163.5 1518.0,2071.6 1519.3,2039.5 1520.7,1968.8 1522.0,2213.9 1523.3,2065.0 1524.6,1995.2 1526.0,2136.7 1527.3,2062.1 1528.6,2225.3 1529.9,2154.3 1531.3,2075.9 1532.6,2029.1 1533.9,2209.0 1535.2,2053.5 1536.6,2128.1 1537.9,2181.1 1539.2,2043.5 1540.5,2240.4 1541.9,2062.9 1543.2,2186.9 1544.5,2154.6 1545.9,2035.5 1547.2,2223.4 1548.5,2133.5 1549.8,2064.3 1551.2,2164.2 1552.5,2157.4 1553.8,2082.0 1555.1,2110.2 1556.5,1983.9 1557.8,2236.6 1559.1,2105.1 1560.4,2150.7 1561.8,2081.1 1563.1,2137.1 1564.4,2176.4 1565.7,2019.8 1567.1,2130.9 1568.4,2028.2 1569.7,2234.7 1571.0,2091.7 1572.4,2050.6 1573.7,2209.9 1575.0,2126.1 1576.3,2041.9 1577.7,2157.7 1579.0,2002.7 1580.3,2024.3 1581.6,2127.5 1583.0,2221.5 1584.3,2074.1 1585.6,2103.8 1586.9,2201.4 1588.3,2038.5 1589.6,2000.9 1590.9,2201.6 1592.3,2019.4 1593.6,2120.5 1594.9,2247.9 1596.2,2157.9 1597.6,2079.8 1598.9,2070.6 1600.2,2174.5 1601.5,1993.3 1602.9,2071.0 1604.2,2231.0 1605.5,2113.8 1606.8,1995.2 1608.2,2102.8 1609.5,2211.2 1610.8,2003.7 1612.1,2077.0 1613.5,2178.7 1614.8,2020.4 1616.1,2137.0 1617.4,2163.9 1618.8,2037.8 1620.1,2077.5 1621.4,2069.4 1622.7,1997.1 1624.1,2114.5 1625.4,2236.6 1626.7,2189.3 1628.0,2128.0 1629.4,1974.5 1630.7,2194.9 1632.0,2091.3 1633.4,2238.5 1634.7,2080.7 1636.0,2150.2 1637.3,2046.9 1638.7,2139.9 1640.0,1978.2 1641.3,2018.9 1642.6,2116.5 1644.0,2202.9 1645.3,2229.0 1646.6,2107.6 1647.9,2051.9 1649.3,2177.1 1650.6,2231.0 1651.9,2006.5 1653.2,2198.9 1654.6,2110.5 1655.9,2072.3 1657.2,2225.3 1658.5,2122.3 1659.9,2052.1 1661.2,2019.8 1662.5,2157.0 1663.8,2073.7 1665.2,2091.9 1666.5,2153.4 1667.8,2242.3 1669.1,2136.4 1670.5,2207.5 1671.8,2057.7 1673.1,2046.2" stroke="#ff7f0e" stroke-width="2.2"/>
</g>
<rect x="978.5" y="1915.8" width="727.7" height="433.6" fill="none" stroke="#1a1a1a" stroke-width="2.1"/>
<line x1="1011.6" y1="2349.4" x2="1011.6" y2="2358.4" stroke="#1a1a1a" stroke-width="1.9"/>
<text font-family='"WenQuanYi Zen Hei","Liberation Sans",sans-serif' font-size="25.3" text-anchor="middle" x="1176.25" y="2384.40" transform="scale(0.86,1)">0</text>
<line x1="1144.2" y1="2349.4" x2="1144.2" y2="2358.4" stroke="#1a1a1a" stroke-width="1.9"/>
<text font-family='"WenQuanYi Zen Hei","Liberation Sans",sans-serif' font-size="25.3" text-anchor="middle" x="1315.20 1330.41 1345.62" y="2384.40" transform="scale(0.86,1)">100</text>
<line x1="1276.7" y1="2349.4" x2="1276.7" y2="2358.4" stroke="#1a1a1a" stroke-width="1.9"/>
<text font-family='"WenQuanYi Zen Hei","Liberation Sans",sans-serif' font-size="25.3" text-anchor="middle" x="1469.36 1484.56 1499.77" y="2384.40" transform="scale(0.86,1)">200</text>
<line x1="1409.3" y1="2349.4" x2="1409.3" y2="2358.4" stroke="#1a1a1a" stroke-width="1.9"/>
<text font-family='"WenQuanYi Zen Hei","Liberation Sans",sans-serif' font-size="25.3" text-anchor="middle" x="1623.51 1638.72 1653.93" y="2384.40" transform="scale(0.86,1)">300</text>
<line x1="1541.9" y1="2349.4" x2="1541.9" y2="2358.4" stroke="#1a1a1a" stroke-width="1.9"/>
<text font-family='"WenQuanYi Zen Hei","Liberation Sans",sans-serif' font-size="25.3" text-anchor="middle" x="1777.67 1792.88 1808.09" y="2384.40" transform="scale(0.86,1)">400</text>
<line x1="1674.4" y1="2349.4" x2="1674.4" y2="2358.4" stroke="#1a1a1a" stroke-width="1.9"/>
<text font-family='"WenQuanYi Zen Hei","Liberation Sans",sans-serif' font-size="25.3" text-anchor="middle" x="1931.82 1947.03 1962.24" y="2384.40" transform="scale(0.86,1)">500</text>
<line x1="969.5" y1="2274.7" x2="978.5" y2="2274.7" stroke="#1a1a1a" stroke-width="1.9"/>
<text font-family='"WenQuanYi Zen Hei","Liberation Sans",sans-serif' font-size="25.3" text-anchor="middle" x="1063.28 1078.49 1093.70 1108.91" y="2283.30" transform="scale(0.86,1)">1620</text>
<line x1="969.5" y1="2197.7" x2="978.5" y2="2197.7" stroke="#1a1a1a" stroke-width="1.9"/>
<text font-family='"WenQuanYi Zen Hei","Liberation Sans",sans-serif' font-size="25.3" text-anchor="middle" x="1063.28 1078.49 1093.70 1108.91" y="2206.30" transform="scale(0.86,1)">1630</text>
<line x1="969.5" y1="2120.7" x2="978.5" y2="2120.7" stroke="#1a1a1a" stroke-width="1.9"/>
<text font-family='"WenQuanYi Zen Hei","Liberation Sans",sans-serif' font-size="25.3" text-anchor="middle" x="1063.28 1078.49 1093.70 1108.91" y="2129.30" transform="scale(0.86,1)">1640</text>
<line x1="969.5" y1="2043.7" x2="978.5" y2="2043.7" stroke="#1a1a1a" stroke-width="1.9"/>
<text font-family='"WenQuanYi Zen Hei","Liberation Sans",sans-serif' font-size="25.3" text-anchor="middle" x="1063.28 1078.49 1093.70 1108.91" y="2052.30" transform="scale(0.86,1)">1650</text>
<line x1="969.5" y1="1966.7" x2="978.5" y2="1966.7" stroke="#1a1a1a" stroke-width="1.9"/>
<text font-family='"WenQuanYi Zen Hei","Liberation Sans",sans-serif' font-size="25.3" text-anchor="middle" x="1063.28 1078.49 1093.70 1108.91" y="1975.30" transform="scale(0.86,1)">1660</text>
<text font-family='"IPAGothic","Liberation Mono",monospace' font-size="31" text-anchor="middle" x="1130.60 1146.25 1161.90 1177.55 1193.20 1208.85 1224.50 1240.15 1255.80 1271.45" y="1902.50" stroke="#000" stroke-width="0.25">Prediction</text><text font-family='"IPAGothic","Liberation Mono",monospace' font-size="31" text-anchor="middle" x="1302.75 1318.40 1334.05 1349.70 1365.35 1381.00 1396.65 1412.30 1427.95" y="1902.50" stroke="#000" stroke-width="0.25">accuracy:</text><text font-family='"WenQuanYi Zen Hei","Liberation Sans",sans-serif' font-size="31.3" text-anchor="middle" x="1696.80 1715.00 1733.20 1751.40 1769.59 1787.79" y="1902.50" transform="scale(0.86,1)">91.60%</text>
<text font-family='"IPAGothic","Liberation Mono",monospace' font-size="25.0" text-anchor="middle" x="1290.03 1303.11 1316.19 1329.27 1342.35 1355.43" y="2416.60" stroke="#000" stroke-width="0.15">Sample</text><text font-family='"IPAGothic","Liberation Mono",monospace' font-size="25.0" text-anchor="middle" x="1381.59 1394.67" y="2416.60" stroke="#000" stroke-width="0.15">No</text>
<g transform="translate(893.9,2139.4) rotate(-90)"><text font-family='"IPAGothic","Liberation Mono",monospace' font-size="25.3" text-anchor="middle" x="-65.40 -52.32 -39.24 -26.16 -13.08 0.00 13.08 26.16 39.24 52.32 65.40" y="0.00" stroke="#000" stroke-width="0.15">Temperature</text></g>
<rect x="991.6" y="1928.5" width="298.4" height="75.6" rx="6" ry="6" fill="#fff" fill-opacity="0.8" stroke="#cccccc" stroke-width="1.6"/>
<line x1="1002.1" y1="1947.5" x2="1054.1" y2="1947.5" stroke="#2f82bd" stroke-width="2.2" stroke-dasharray="2.2 3.7"/>
<line x1="1000.6" y1="1981.8" x2="1054.6" y2="1981.8" stroke="#ff7f0e" stroke-width="2.2"/>
<text font-family='"IPAGothic","Liberation Mono",monospace' font-size="25.3" text-anchor="middle" x="1080.14 1093.22 1106.30 1119.38" y="1956.80" stroke="#000" stroke-width="0.15">True</text><text font-family='"IPAGothic","Liberation Mono",monospace' font-size="25.3" text-anchor="middle" x="1145.54 1158.62 1171.70 1184.78 1197.86" y="1956.80" stroke="#000" stroke-width="0.15">value</text>
<text font-family='"IPAGothic","Liberation Mono",monospace' font-size="25.3" text-anchor="middle" x="1080.14 1093.22 1106.30 1119.38 1132.46 1145.54 1158.62 1171.70 1184.78 1197.86" y="1990.60" stroke="#000" stroke-width="0.15">Predictive</text><text font-family='"IPAGothic","Liberation Mono",monospace' font-size="25.3" text-anchor="middle" x="1224.02 1237.10 1250.18 1263.26 1276.34" y="1990.60" stroke="#000" stroke-width="0.15">value</text>
<text font-family='"Liberation Serif",serif' font-size="25" x="1342.0" y="2444.9" text-anchor="middle">(h)</text>
</svg></body></html>
